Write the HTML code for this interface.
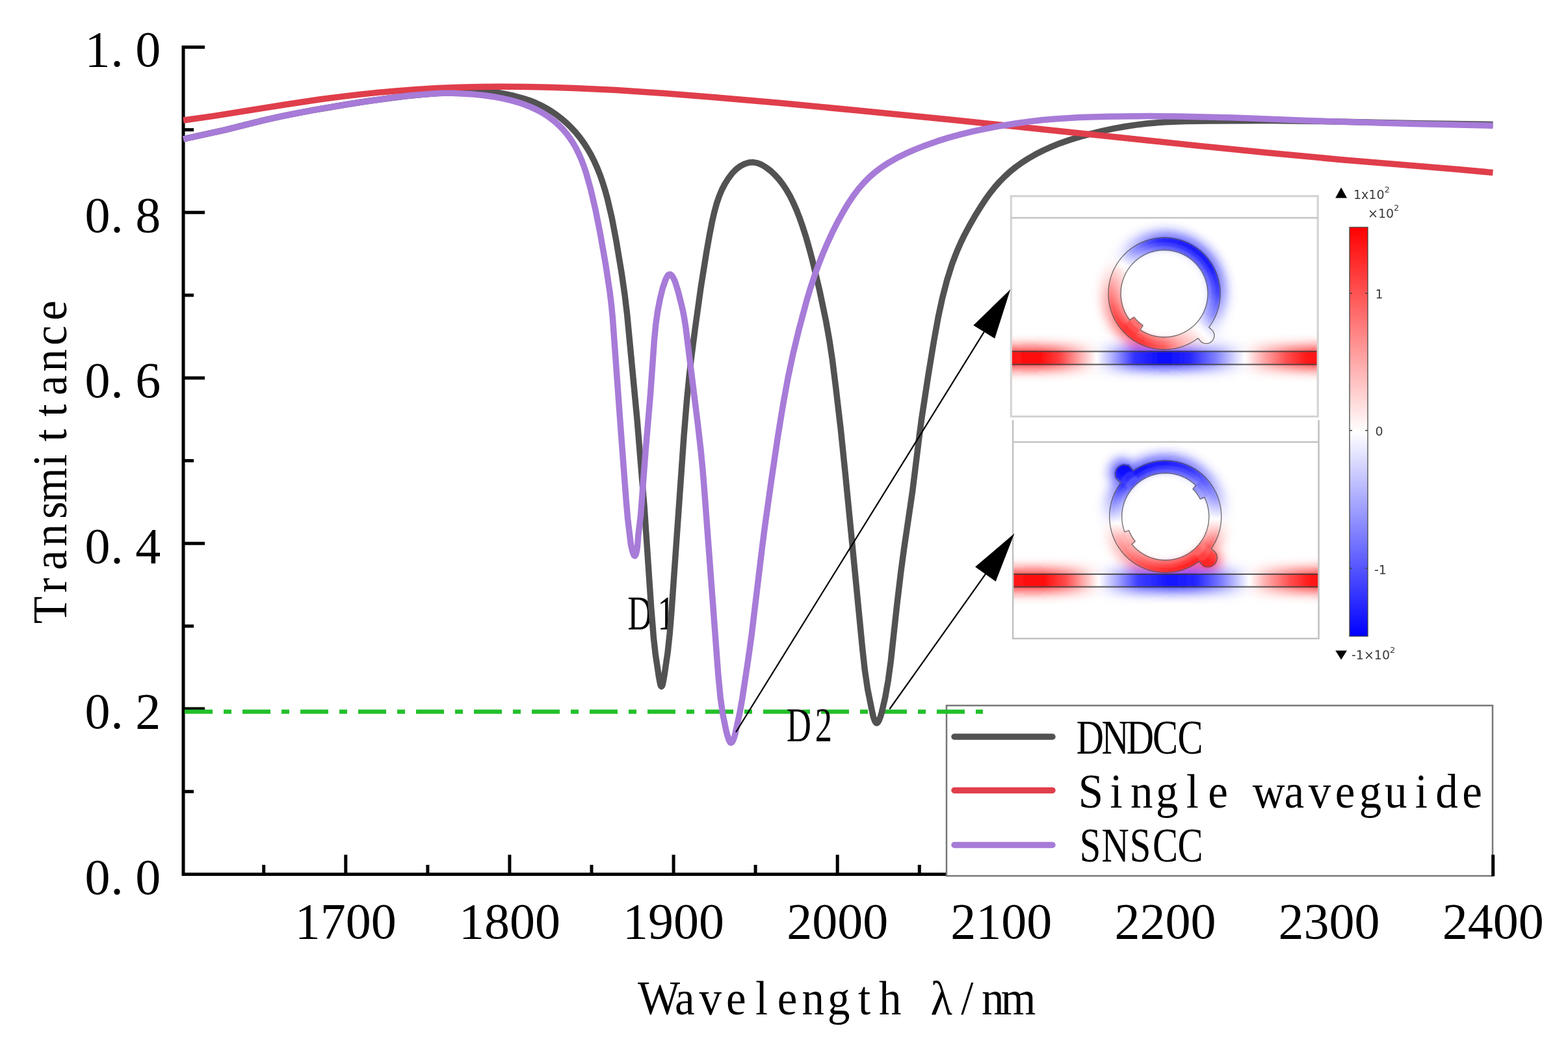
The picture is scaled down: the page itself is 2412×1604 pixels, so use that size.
<!DOCTYPE html><html><head><meta charset="utf-8"><title>Transmittance spectrum</title>
<style>html,body{margin:0;padding:0;background:#fff;overflow:hidden}svg{display:block}.serif{font-family:"Liberation Serif","Noto Serif CJK SC",serif}.sans{font-family:"DejaVu Sans","Liberation Sans",sans-serif}</style></head><body>
<svg width="2412" height="1604" viewBox="0 0 2412 1604">
<rect width="2412" height="1604" fill="#fff"/>
<defs>
<filter id="glow" x="-30%" y="-30%" width="160%" height="160%"><feGaussianBlur stdDeviation="9"/></filter>
<filter id="soft" x="-10%" y="-10%" width="120%" height="120%"><feGaussianBlur stdDeviation="1.2"/></filter>
</defs>
<g stroke="#000" stroke-width="5" fill="none" stroke-linecap="butt">
<path d="M282.0,69.9 V1347.0 M279.5,1344.5 H2299"/>
<path d="M282.0,1344.5 h33"/>
<path d="M282.0,1217.3 h16"/>
<path d="M282.0,1090.1 h33"/>
<path d="M282.0,962.9 h16"/>
<path d="M282.0,835.7 h33"/>
<path d="M282.0,708.5 h16"/>
<path d="M282.0,581.2 h33"/>
<path d="M282.0,454.0 h16"/>
<path d="M282.0,326.8 h33"/>
<path d="M282.0,199.6 h16"/>
<path d="M282.0,72.4 h33"/>
<path d="M405.7,1344.5 v-14.5"/>
<path d="M531.8,1344.5 v-30"/>
<path d="M657.9,1344.5 v-14.5"/>
<path d="M783.9,1344.5 v-30"/>
<path d="M910.0,1344.5 v-14.5"/>
<path d="M1036.1,1344.5 v-30"/>
<path d="M1162.1,1344.5 v-14.5"/>
<path d="M1288.2,1344.5 v-30"/>
<path d="M1414.3,1344.5 v-14.5"/>
</g>
<g class="serif" font-size="78" fill="#000" text-anchor="middle">
<text x="150.0 180.0 227.7" y="1374.5">0.0</text>
<text x="150.0 180.0 227.7" y="1120.1">0.2</text>
<text x="150.0 180.0 227.7" y="865.7">0.4</text>
<text x="150.0 180.0 227.7" y="611.2">0.6</text>
<text x="150.0 180.0 227.7" y="356.8">0.8</text>
<text x="150.0 180.0 227.7" y="102.4">1.0</text>
<text x="531.8" y="1442.5">1700</text>
<text x="783.9" y="1442.5">1800</text>
<text x="1036.1" y="1442.5">1900</text>
<text x="1288.2" y="1442.5">2000</text>
<text x="1540.3" y="1442.5">2100</text>
<text x="1792.5" y="1442.5">2200</text>
<text x="2044.6" y="1442.5">2300</text>
<text x="2296.7" y="1442.5">2400</text>
</g>
<text class="serif" font-size="75" text-anchor="middle" transform="rotate(-90) scale(0.92,1)" x="-1019.9 -978.2 -936.4 -894.7 -852.9 -811.2 -769.5 -727.7 -686.0 -644.2 -602.5 -560.8 -519.0" y="102.5">Transmittance</text>
<text class="serif" font-size="75" text-anchor="middle" transform="scale(0.92,1)" x="1101.8 1144.8 1187.7 1230.7 1273.6 1316.5 1359.5 1402.4 1445.3 1488.3 1531.2 1574.1 1617.1 1660.0 1702.9" y="1560">Wavelength λ/nm</text>
<rect x="1456" y="1085" width="840" height="262" fill="#fff" stroke="#777" stroke-width="2.5"/>
<path d="M284,1094.6 H1512" stroke="#22c02a" stroke-width="6.5" fill="none" stroke-dasharray="43 17 12 17"/>
<g class="serif" font-size="75" fill="#000" text-anchor="middle">
<text transform="translate(0,968) scale(0.7,1)" x="1406.4 1463.6" y="0">D1</text>
<text transform="translate(0,1139.5) scale(0.7,1)" x="1755.7 1810.0" y="0">D2</text>
</g>
<g fill="none" stroke-width="9.5" stroke-linejoin="round" stroke-linecap="butt">
<path stroke="#525252" d="M282.0,213.8 L344.8,200.1 L406.8,184.7 L435.1,178.3 L480.0,169.7 L536.6,160.0 L567.5,155.3 L597.3,151.3 L624.9,147.9 L650.2,145.3 L672.4,143.5 L692.7,142.3 L741.6,141.1 L751.3,141.1 L759.1,141.6 L767.1,142.6 L776.5,144.3 L790.7,147.5 L803.7,151.0 L814.0,154.3 L823.5,158.0 L832.1,162.0 L840.7,166.6 L848.8,171.6 L856.6,176.9 L864.1,182.7 L871.4,189.1 L878.4,195.9 L884.8,202.8 L891.5,210.9 L897.7,219.4 L903.5,228.4 L908.9,237.7 L914.0,247.7 L918.7,258.2 L923.1,269.3 L927.2,281.1 L930.9,293.0 L934.4,305.8 L941.1,334.4 L948.0,370.7 L956.2,419.8 L961.0,453.0 L964.7,483.8 L980.0,644.5 L991.1,778.7 L1001.7,934.4 L1005.5,981.4 L1008.3,1006.4 L1013.7,1042.2 L1015.7,1052.3 L1016.6,1054.9 L1017.5,1055.7 L1018.5,1054.8 L1019.5,1051.8 L1021.8,1039.4 L1027.1,1003.4 L1030.2,974.4 L1033.2,937.0 L1052.0,670.7 L1056.3,618.1 L1060.3,577.5 L1063.5,549.9 L1069.3,505.0 L1078.1,441.9 L1086.8,387.4 L1091.6,360.4 L1095.4,341.0 L1098.8,326.3 L1102.3,313.4 L1106.1,302.3 L1110.2,292.3 L1115.1,282.8 L1120.8,273.8 L1126.7,266.0 L1132.6,260.1 L1138.9,255.4 L1145.5,252.0 L1152.2,250.0 L1158.5,249.6 L1164.7,250.6 L1171.0,253.0 L1177.8,257.0 L1185.2,262.6 L1191.8,268.7 L1198.0,275.5 L1203.9,283.2 L1209.7,291.9 L1215.2,301.4 L1220.2,311.5 L1225.2,322.8 L1230.1,335.4 L1235.1,349.8 L1240.1,365.4 L1244.9,382.2 L1249.9,401.1 L1260.7,446.5 L1270.7,494.3 L1276.0,524.1 L1280.3,552.6 L1285.8,596.5 L1293.4,661.3 L1300.9,734.2 L1326.9,999.7 L1330.3,1030.4 L1334.6,1059.6 L1342.0,1096.4 L1343.7,1103.3 L1345.4,1108.1 L1347.0,1111.0 L1347.8,1111.7 L1348.6,1112.0 L1349.4,1111.7 L1350.3,1110.9 L1352.2,1107.8 L1354.3,1102.4 L1356.5,1095.0 L1361.6,1072.9 L1366.3,1046.2 L1370.3,1016.8 L1379.7,930.7 L1385.9,878.8 L1390.9,841.9 L1403.7,755.2 L1414.1,670.8 L1417.9,642.5 L1427.5,579.7 L1436.3,525.9 L1443.1,488.6 L1449.5,458.7 L1456.7,431.0 L1464.5,406.1 L1468.9,394.5 L1473.5,383.0 L1478.5,371.9 L1483.8,360.9 L1491.0,347.6 L1499.8,332.1 L1507.9,318.9 L1515.5,307.3 L1522.6,297.4 L1529.9,288.2 L1537.1,280.0 L1544.7,272.2 L1553.3,264.3 L1562.3,257.0 L1572.0,250.0 L1582.3,243.5 L1593.5,237.1 L1605.5,231.0 L1618.0,225.4 L1630.9,220.2 L1645.2,215.2 L1660.9,210.4 L1677.5,205.8 L1694.8,201.6 L1712.3,197.9 L1729.6,194.8 L1747.0,192.1 L1764.2,190.0 L1792.0,187.7 L1823.0,186.4 L1859.4,186.0 L1953.7,185.6 L2025.6,186.4 L2184.1,189.7 L2296.5,191.5"/>
<path stroke="#e03e4b" d="M282.0,185.0 L327.3,178.6 L437.7,161.0 L492.6,152.8 L522.8,148.9 L552.0,145.4 L580.7,142.4 L608.9,139.9 L641.2,137.5 L673.9,135.6 L706.7,134.3 L739.9,133.5 L774.2,133.2 L808.9,133.4 L845.2,134.2 L883.0,135.4 L947.5,138.6 L1019.0,143.3 L1100.1,149.7 L1195.8,158.1 L1323.3,170.2 L1469.3,184.8 L1597.8,198.2 L1840.1,223.9 L1950.9,235.1 L2061.8,245.4 L2237.1,260.0 L2296.5,265.4"/>
<path stroke="#a77bd8" d="M282.0,213.8 L346.1,199.8 L404.2,185.4 L427.4,180.0 L456.8,174.0 L497.1,166.6 L552.6,157.5 L607.5,149.7 L628.2,147.3 L648.0,145.4 L667.2,144.0 L682.4,143.3 L695.8,143.3 L710.7,143.9 L729.2,145.1 L745.2,146.8 L758.8,148.7 L771.9,151.1 L784.2,153.9 L795.8,157.1 L806.9,160.8 L817.1,164.9 L826.7,169.4 L835.7,174.4 L844.1,179.9 L852.1,185.9 L859.5,192.4 L866.3,199.4 L871.8,205.9 L876.9,212.8 L881.7,220.1 L886.2,228.0 L890.3,236.3 L894.3,245.4 L898.0,255.1 L901.6,265.9 L908.7,291.2 L916.1,322.8 L923.3,359.1 L931.4,405.0 L938.2,449.9 L940.5,469.0 L942.4,488.8 L955.1,662.9 L963.4,772.4 L965.7,798.2 L970.4,837.3 L972.9,847.9 L974.3,851.8 L975.4,854.1 L976.6,854.8 L977.6,853.8 L978.7,850.9 L979.7,845.9 L980.7,838.5 L981.8,823.6 L985.6,792.1 L993.0,694.6 L1000.5,606.5 L1006.5,522.1 L1008.8,498.6 L1011.5,479.5 L1015.4,459.1 L1019.3,443.4 L1023.9,429.9 L1025.9,425.8 L1027.8,423.1 L1029.5,422.0 L1031.3,422.1 L1033.0,423.3 L1034.9,425.9 L1037.0,429.8 L1039.0,434.8 L1043.1,448.0 L1050.1,475.9 L1052.5,488.4 L1054.8,503.1 L1073.5,652.9 L1078.2,693.9 L1080.8,720.6 L1083.4,752.3 L1104.6,1035.0 L1108.2,1072.8 L1111.7,1097.5 L1116.9,1123.4 L1119.0,1131.3 L1121.1,1137.8 L1122.8,1141.2 L1123.7,1142.1 L1124.4,1142.3 L1125.9,1141.5 L1127.5,1138.9 L1129.3,1134.5 L1131.0,1128.7 L1138.1,1095.3 L1141.7,1075.0 L1150.6,1016.3 L1156.1,977.1 L1172.6,840.2 L1177.1,805.6 L1186.0,742.5 L1196.3,672.9 L1204.3,623.8 L1212.1,581.0 L1219.7,545.2 L1229.1,506.2 L1241.3,460.8 L1246.9,442.2 L1252.8,424.5 L1259.1,407.0 L1265.8,390.1 L1272.9,373.5 L1280.5,357.2 L1288.8,340.7 L1297.2,325.5 L1305.1,312.3 L1312.8,300.8 L1320.6,290.5 L1328.8,281.1 L1337.4,272.4 L1346.4,264.6 L1356.5,257.0 L1367.5,249.8 L1379.3,243.1 L1392.7,236.4 L1407.6,229.9 L1424.0,223.4 L1441.0,217.4 L1458.6,211.9 L1477.0,206.8 L1496.1,202.2 L1516.7,197.8 L1538.6,193.7 L1561.3,190.0 L1583.3,186.9 L1603.8,184.5 L1624.9,182.7 L1660.8,180.6 L1703.8,179.3 L1768.8,178.6 L1813.6,178.9 L1899.4,180.9 L2024.6,185.9 L2175.3,190.6 L2296.5,193.3"/>
</g>
<g stroke-width="9.5" stroke-linecap="round">
<path stroke="#525252" d="M1468,1133 H1619"/>
<path stroke="#e03e4b" d="M1468,1215.5 H1619"/>
<path stroke="#a77bd8" d="M1468,1299.5 H1619"/>
</g>
<g class="serif" font-size="75" fill="#000" text-anchor="middle">
<text transform="scale(0.78,1)" x="2150.0 2199.4 2248.7 2298.1 2347.4" y="1159.5">DNDCC</text>
<text transform="scale(0.92,1)" x="1823.9 1866.4 1908.9 1951.4 1993.9 2036.4 2078.9 2121.4 2163.9 2206.4 2248.9 2291.4 2333.9 2376.4 2418.9 2461.4" y="1242">Single waveguide</text>
<text transform="scale(0.78,1)" x="2150.0 2199.4 2248.7 2298.1 2347.4" y="1325">SNSCC</text>
</g>
<path d="M2296.7,1347.5 v-33" stroke="#000" stroke-width="5"/>
<defs>
<clipPath id="clip1"><rect x="1555.3" y="301.7" width="471.9000000000001" height="338.8"/></clipPath>
<linearGradient id="wg1" gradientUnits="userSpaceOnUse" x1="1555.3" y1="0" x2="2027.2" y2="0"><stop offset="-0.0006" stop-color="#ff1414"/><stop offset="0.0947" stop-color="#ff0d0d"/><stop offset="0.1583" stop-color="#ff4040"/><stop offset="0.2219" stop-color="#ffa6a6"/><stop offset="0.2791" stop-color="#ffffff"/><stop offset="0.3278" stop-color="#b2b2ff"/><stop offset="0.4020" stop-color="#3333ff"/><stop offset="0.4974" stop-color="#0808ff"/><stop offset="0.5821" stop-color="#2626ff"/><stop offset="0.6669" stop-color="#8080ff"/><stop offset="0.7305" stop-color="#d9d9ff"/><stop offset="0.7622" stop-color="#ffffff"/><stop offset="0.8152" stop-color="#ffb2b2"/><stop offset="0.9000" stop-color="#ff4d4d"/><stop offset="0.9636" stop-color="#ff1919"/><stop offset="0.9996" stop-color="#ff1414"/></linearGradient>
</defs>
<g clip-path="url(#clip1)">
<g filter="url(#glow)" opacity="0.8">
<path d="M1791.0,374.5 L1791.0,357.5 L1801.8,358.1 L1799.9,375.0Z" fill="#2525ff"/><path d="M1799.0,374.9 L1800.8,358.0 L1811.5,359.8 L1807.8,376.4Z" fill="#2222ff"/><path d="M1807.0,376.2 L1810.5,359.6 L1821.0,362.4 L1815.6,378.5Z" fill="#2020ff"/><path d="M1814.8,378.3 L1820.0,362.1 L1830.1,366.0 L1823.1,381.5Z" fill="#1d1dff"/><path d="M1822.3,381.2 L1829.2,365.6 L1838.8,370.6 L1830.2,385.2Z" fill="#1b1bff"/><path d="M1829.5,384.8 L1838.0,370.1 L1847.0,376.0 L1836.9,389.7Z" fill="#1a1aff"/><path d="M1836.3,389.2 L1846.3,375.5 L1854.6,382.3 L1843.1,394.8Z" fill="#1b1bff"/><path d="M1842.5,394.3 L1853.9,381.6 L1861.5,389.3 L1848.8,400.6Z" fill="#1c1cff"/><path d="M1848.2,400.0 L1860.9,388.6 L1867.6,397.0 L1853.8,406.9Z" fill="#1d1dff"/><path d="M1853.3,406.2 L1867.0,396.2 L1872.9,405.4 L1858.1,413.7Z" fill="#1e1eff"/><path d="M1857.7,413.0 L1872.4,404.5 L1877.3,414.2 L1861.7,420.9Z" fill="#2323ff"/><path d="M1861.3,420.2 L1876.9,413.3 L1880.7,423.4 L1864.5,428.5Z" fill="#2b2bff"/><path d="M1864.2,427.7 L1880.4,422.5 L1883.1,432.9 L1866.5,436.3Z" fill="#3333ff"/><path d="M1866.3,435.5 L1882.9,432.0 L1884.6,442.7 L1867.7,444.3Z" fill="#3b3bff"/><path d="M1867.6,443.5 L1884.5,441.7 L1885.0,452.5 L1868.0,452.3Z" fill="#4343ff"/><path d="M1868.0,451.5 L1885.0,451.5 L1884.4,462.3 L1867.5,460.4Z" fill="#5151ff"/><path d="M1867.6,459.5 L1884.5,461.3 L1882.7,472.0 L1866.1,468.3Z" fill="#6363ff"/><path d="M1866.3,467.5 L1882.9,471.0 L1880.1,481.5 L1864.0,476.1Z" fill="#7575ff"/><path d="M1864.2,475.3 L1880.4,480.5 L1876.5,490.6 L1861.0,483.6Z" fill="#8888ff"/><path d="M1861.3,482.8 L1876.9,489.7 L1871.9,499.3 L1857.3,490.7Z" fill="#9f9fff"/><path d="M1857.7,490.0 L1872.4,498.5 L1866.5,507.5 L1852.8,497.4Z" fill="#c0c0ff"/><path d="M1853.3,496.8 L1878.8,515.3 L1870.9,525.0 L1847.7,503.6Z" fill="#e2e2ff"/><path d="M1848.2,503.0 L1874.6,526.8 L1865.4,535.9 L1841.9,509.3Z" fill="#fcfcff"/><path d="M1842.5,508.7 L1863.6,532.2 L1853.9,540.0 L1835.6,514.3Z" fill="#ffeeee"/><path d="M1836.3,513.8 L1846.3,527.5 L1837.1,533.4 L1828.8,518.6Z" fill="#ffdada"/><path d="M1829.5,518.2 L1838.0,532.9 L1828.3,537.8 L1821.6,522.2Z" fill="#ffc8c8"/><path d="M1822.3,521.8 L1829.2,537.4 L1819.1,541.2 L1814.0,525.0Z" fill="#ffb6b6"/><path d="M1814.8,524.7 L1820.0,540.9 L1809.6,543.6 L1806.2,527.0Z" fill="#ff9e9e"/><path d="M1807.0,526.8 L1810.5,543.4 L1799.8,545.1 L1798.2,528.2Z" fill="#ff8686"/><path d="M1799.0,528.1 L1800.8,545.0 L1790.0,545.5 L1790.2,528.5Z" fill="#ff6d6d"/><path d="M1791.0,528.5 L1791.0,545.5 L1780.2,544.9 L1782.1,528.0Z" fill="#ff5c5c"/><path d="M1783.0,528.1 L1781.2,545.0 L1770.5,543.2 L1774.2,526.6Z" fill="#ff5252"/><path d="M1775.0,526.8 L1771.5,543.4 L1761.0,540.6 L1766.4,524.5Z" fill="#ff4848"/><path d="M1767.2,524.7 L1762.0,540.9 L1751.9,537.0 L1758.9,521.5Z" fill="#ff3f3f"/><path d="M1759.7,521.8 L1752.8,537.4 L1743.2,532.4 L1751.8,517.8Z" fill="#ff3838"/><path d="M1752.5,518.2 L1744.0,532.9 L1735.0,527.0 L1745.1,513.3Z" fill="#ff3838"/><path d="M1745.7,513.8 L1735.7,527.5 L1727.4,520.7 L1738.9,508.2Z" fill="#ff3838"/><path d="M1739.5,508.7 L1728.1,521.4 L1720.5,513.7 L1733.2,502.4Z" fill="#ff3838"/><path d="M1733.8,503.0 L1721.1,514.4 L1714.4,506.0 L1728.2,496.1Z" fill="#ff3a3a"/><path d="M1728.7,496.8 L1715.0,506.8 L1709.1,497.6 L1723.9,489.3Z" fill="#ff4444"/><path d="M1724.3,490.0 L1709.6,498.5 L1704.7,488.8 L1720.3,482.1Z" fill="#ff4d4d"/><path d="M1720.7,482.8 L1705.1,489.7 L1701.3,479.6 L1717.5,474.5Z" fill="#ff5757"/><path d="M1717.8,475.3 L1701.6,480.5 L1698.9,470.1 L1715.5,466.7Z" fill="#ff6161"/><path d="M1715.7,467.5 L1699.1,471.0 L1697.4,460.3 L1714.3,458.7Z" fill="#ff7070"/><path d="M1714.4,459.5 L1697.5,461.3 L1697.0,450.5 L1714.0,450.7Z" fill="#ff8080"/><path d="M1714.0,451.5 L1697.0,451.5 L1697.6,440.7 L1714.5,442.6Z" fill="#ff8f8f"/><path d="M1714.4,443.5 L1697.5,441.7 L1699.3,431.0 L1715.9,434.7Z" fill="#ffa2a2"/><path d="M1715.7,435.5 L1699.1,432.0 L1701.9,421.5 L1718.0,426.9Z" fill="#ffb6b6"/><path d="M1717.8,427.7 L1701.6,422.5 L1705.5,412.4 L1721.0,419.4Z" fill="#ffcbcb"/><path d="M1720.7,420.2 L1705.1,413.3 L1710.1,403.7 L1724.7,412.3Z" fill="#ffe1e1"/><path d="M1724.3,413.0 L1709.6,404.5 L1715.5,395.5 L1729.2,405.6Z" fill="#fff8f8"/><path d="M1728.7,406.2 L1715.0,396.2 L1721.8,387.9 L1734.3,399.4Z" fill="#ededff"/><path d="M1733.8,400.0 L1721.1,388.6 L1728.8,381.0 L1740.1,393.7Z" fill="#ccccff"/><path d="M1739.5,394.3 L1728.1,381.6 L1736.5,374.9 L1746.4,388.7Z" fill="#ababff"/><path d="M1745.7,389.2 L1735.7,375.5 L1744.9,369.6 L1753.2,384.4Z" fill="#9090ff"/><path d="M1752.5,384.8 L1744.0,370.1 L1753.7,365.2 L1760.4,380.8Z" fill="#7777ff"/><path d="M1759.7,381.2 L1752.8,365.6 L1762.9,361.8 L1768.0,378.0Z" fill="#5e5eff"/><path d="M1767.2,378.3 L1762.0,362.1 L1772.4,359.4 L1775.8,376.0Z" fill="#4949ff"/><path d="M1775.0,376.2 L1771.5,359.6 L1782.2,357.9 L1783.8,374.8Z" fill="#3636ff"/><path d="M1783.0,374.9 L1781.2,358.0 L1792.0,357.5 L1791.8,374.5Z" fill="#2b2bff"/>
<rect x="1525.3" y="532.5" width="531.9000000000001" height="36.0" fill="url(#wg1)"/>
</g>
<g filter="url(#soft)">
<path d="M1791.0,384.5 L1791.0,377.8 L1794.3,377.9 L1794.0,384.6Z" fill="#6363ff"/><path d="M1791.0,378.6 L1791.0,372.3 L1794.6,372.4 L1794.3,378.7Z" fill="#4040ff"/><path d="M1791.0,373.1 L1791.0,365.5 L1794.9,365.6 L1794.6,373.2Z" fill="#2626ff"/><path d="M1793.3,384.5 L1793.6,377.9 L1796.9,378.1 L1796.4,384.7Z" fill="#6262ff"/><path d="M1793.5,378.7 L1793.8,372.4 L1797.4,372.6 L1796.8,378.9Z" fill="#3f3fff"/><path d="M1793.7,373.2 L1794.0,365.6 L1797.9,365.8 L1797.3,373.4Z" fill="#2525ff"/><path d="M1795.7,384.7 L1796.1,378.0 L1799.5,378.3 L1798.7,384.9Z" fill="#6161ff"/><path d="M1796.1,378.8 L1796.5,372.5 L1800.1,372.8 L1799.4,379.1Z" fill="#3e3eff"/><path d="M1796.5,373.3 L1797.0,365.7 L1800.9,366.1 L1800.0,373.6Z" fill="#2424ff"/><path d="M1798.0,384.9 L1798.7,378.2 L1802.0,378.7 L1801.0,385.3Z" fill="#6161ff"/><path d="M1798.6,379.0 L1799.3,372.8 L1802.8,373.2 L1801.9,379.4Z" fill="#3e3eff"/><path d="M1799.2,373.5 L1800.0,366.0 L1803.9,366.5 L1802.7,374.0Z" fill="#2323ff"/><path d="M1800.3,385.2 L1801.3,378.5 L1804.6,379.1 L1803.3,385.6Z" fill="#6060ff"/><path d="M1801.1,379.3 L1802.0,373.1 L1805.6,373.7 L1804.4,379.9Z" fill="#3d3dff"/><path d="M1801.9,373.9 L1803.0,366.3 L1806.8,367.0 L1805.4,374.5Z" fill="#2222ff"/><path d="M1802.6,385.5 L1803.8,378.9 L1807.1,379.6 L1805.6,386.1Z" fill="#6060ff"/><path d="M1803.7,379.7 L1804.7,373.5 L1808.3,374.2 L1806.9,380.4Z" fill="#3c3cff"/><path d="M1804.6,374.3 L1805.9,366.8 L1809.8,367.6 L1808.1,375.0Z" fill="#2222ff"/><path d="M1804.9,386.0 L1806.3,379.4 L1809.6,380.2 L1807.9,386.7Z" fill="#5f5fff"/><path d="M1806.2,380.2 L1807.5,374.1 L1811.0,374.9 L1809.4,381.0Z" fill="#3b3bff"/><path d="M1807.3,374.8 L1808.9,367.4 L1812.7,368.3 L1810.8,375.7Z" fill="#2121ff"/><path d="M1807.2,386.5 L1808.8,380.0 L1812.0,380.9 L1810.1,387.3Z" fill="#5e5eff"/><path d="M1808.6,380.8 L1810.2,374.7 L1813.6,375.6 L1811.8,381.7Z" fill="#3b3bff"/><path d="M1810.0,375.4 L1811.8,368.1 L1815.6,369.1 L1813.4,376.4Z" fill="#2020ff"/><path d="M1809.5,387.1 L1811.3,380.7 L1814.5,381.7 L1812.4,388.0Z" fill="#5e5eff"/><path d="M1811.1,381.5 L1812.8,375.4 L1816.3,376.5 L1814.2,382.4Z" fill="#3a3aff"/><path d="M1812.6,376.2 L1814.7,368.8 L1818.4,370.0 L1816.0,377.2Z" fill="#1f1fff"/><path d="M1811.7,387.8 L1813.8,381.4 L1816.9,382.5 L1814.6,388.8Z" fill="#5d5dff"/><path d="M1813.5,382.2 L1815.5,376.2 L1818.9,377.4 L1816.6,383.3Z" fill="#3939ff"/><path d="M1815.2,377.0 L1817.6,369.7 L1821.3,371.0 L1818.6,378.1Z" fill="#1e1eff"/><path d="M1813.9,388.5 L1816.2,382.3 L1819.3,383.5 L1816.7,389.6Z" fill="#5d5dff"/><path d="M1815.9,383.0 L1818.1,377.1 L1821.4,378.4 L1819.0,384.2Z" fill="#3838ff"/><path d="M1817.8,377.8 L1820.4,370.7 L1824.0,372.1 L1821.1,379.1Z" fill="#1d1dff"/><path d="M1816.1,389.4 L1818.6,383.2 L1821.7,384.5 L1818.9,390.6Z" fill="#5c5cff"/><path d="M1818.3,383.9 L1820.7,378.1 L1824.0,379.5 L1821.3,385.2Z" fill="#3838ff"/><path d="M1820.4,378.8 L1823.2,371.8 L1826.8,373.3 L1823.6,380.2Z" fill="#1c1cff"/><path d="M1818.3,390.3 L1821.0,384.2 L1824.0,385.6 L1821.0,391.6Z" fill="#5b5bff"/><path d="M1820.6,384.9 L1823.2,379.2 L1826.5,380.7 L1823.6,386.3Z" fill="#3737ff"/><path d="M1822.9,379.9 L1826.0,372.9 L1829.5,374.6 L1826.1,381.4Z" fill="#1c1cff"/><path d="M1820.4,391.3 L1823.3,385.3 L1826.3,386.8 L1823.1,392.7Z" fill="#5b5bff"/><path d="M1822.9,386.0 L1825.7,380.3 L1828.9,382.0 L1825.9,387.5Z" fill="#3636ff"/><path d="M1825.4,381.1 L1828.7,374.2 L1832.2,376.0 L1828.5,382.7Z" fill="#1b1bff"/><path d="M1822.5,392.3 L1825.6,386.5 L1828.5,388.1 L1825.1,393.8Z" fill="#5a5aff"/><path d="M1825.2,387.2 L1828.2,381.6 L1831.3,383.3 L1828.1,388.8Z" fill="#3535ff"/><path d="M1827.8,382.3 L1831.4,375.6 L1834.8,377.5 L1830.9,384.0Z" fill="#1a1aff"/><path d="M1824.5,393.5 L1827.8,387.7 L1830.7,389.4 L1827.1,395.1Z" fill="#5a5aff"/><path d="M1827.4,388.4 L1830.6,382.9 L1833.7,384.8 L1830.3,390.1Z" fill="#3535ff"/><path d="M1830.2,383.6 L1834.0,377.0 L1837.3,379.0 L1833.2,385.5Z" fill="#1a1aff"/><path d="M1826.5,394.7 L1830.0,389.0 L1832.8,390.9 L1829.0,396.3Z" fill="#5a5aff"/><path d="M1829.6,389.7 L1833.0,384.4 L1836.0,386.3 L1832.4,391.5Z" fill="#3535ff"/><path d="M1832.5,385.0 L1836.6,378.6 L1839.8,380.7 L1835.5,387.0Z" fill="#1a1aff"/><path d="M1828.5,396.0 L1832.2,390.4 L1834.9,392.4 L1830.9,397.7Z" fill="#5a5aff"/><path d="M1831.7,391.1 L1835.3,385.9 L1838.2,387.9 L1834.4,393.0Z" fill="#3636ff"/><path d="M1834.8,386.5 L1839.1,380.2 L1842.3,382.5 L1837.7,388.6Z" fill="#1a1aff"/><path d="M1830.4,397.3 L1834.3,391.9 L1837.0,393.9 L1832.8,399.1Z" fill="#5b5bff"/><path d="M1833.8,392.5 L1837.5,387.4 L1840.4,389.6 L1836.5,394.6Z" fill="#3636ff"/><path d="M1837.1,388.1 L1841.5,381.9 L1844.7,384.3 L1839.9,390.2Z" fill="#1b1bff"/><path d="M1832.2,398.7 L1836.4,393.4 L1838.9,395.6 L1834.6,400.6Z" fill="#5b5bff"/><path d="M1835.9,394.1 L1839.7,389.1 L1842.5,391.4 L1838.4,396.2Z" fill="#3636ff"/><path d="M1839.3,389.7 L1843.9,383.7 L1847.0,386.2 L1842.0,392.0Z" fill="#1b1bff"/><path d="M1834.1,400.2 L1838.4,395.1 L1840.9,397.3 L1836.4,402.2Z" fill="#5b5bff"/><path d="M1837.8,395.7 L1841.9,390.8 L1844.6,393.2 L1840.3,397.9Z" fill="#3737ff"/><path d="M1841.4,391.5 L1846.3,385.6 L1849.2,388.2 L1844.1,393.8Z" fill="#1b1bff"/><path d="M1835.8,401.7 L1840.3,396.8 L1842.7,399.0 L1838.0,403.8Z" fill="#5b5bff"/><path d="M1839.8,397.3 L1844.0,392.7 L1846.6,395.1 L1842.2,399.6Z" fill="#3737ff"/><path d="M1843.4,393.3 L1848.5,387.6 L1851.4,390.3 L1846.0,395.7Z" fill="#1c1cff"/><path d="M1837.5,403.3 L1842.2,398.5 L1844.5,400.9 L1839.7,405.5Z" fill="#5c5cff"/><path d="M1841.6,399.1 L1846.0,394.5 L1848.5,397.1 L1843.9,401.4Z" fill="#3737ff"/><path d="M1845.4,395.1 L1850.7,389.6 L1853.5,392.4 L1847.9,397.6Z" fill="#1c1cff"/><path d="M1839.2,405.0 L1844.0,400.3 L1846.3,402.8 L1841.3,407.2Z" fill="#5c5cff"/><path d="M1843.4,400.9 L1848.0,396.5 L1850.4,399.1 L1845.7,403.3Z" fill="#3838ff"/><path d="M1847.4,397.1 L1852.9,391.8 L1855.5,394.6 L1849.8,399.7Z" fill="#1c1cff"/><path d="M1840.8,406.7 L1845.7,402.2 L1847.9,404.7 L1842.8,409.0Z" fill="#5c5cff"/><path d="M1845.2,402.7 L1849.8,398.5 L1852.2,401.2 L1847.3,405.2Z" fill="#3838ff"/><path d="M1849.2,399.1 L1854.9,394.0 L1857.5,396.9 L1851.6,401.7Z" fill="#1d1dff"/><path d="M1842.3,408.4 L1847.4,404.1 L1849.5,406.8 L1844.2,410.8Z" fill="#5c5cff"/><path d="M1846.8,404.7 L1851.7,400.6 L1853.9,403.4 L1848.9,407.2Z" fill="#3838ff"/><path d="M1851.0,401.1 L1856.9,396.2 L1859.3,399.3 L1853.3,403.9Z" fill="#1d1dff"/><path d="M1843.8,410.3 L1849.1,406.1 L1851.1,408.8 L1845.6,412.7Z" fill="#5d5dff"/><path d="M1848.4,406.6 L1853.4,402.8 L1855.5,405.6 L1850.4,409.3Z" fill="#3838ff"/><path d="M1852.8,403.2 L1858.8,398.6 L1861.1,401.7 L1854.9,406.1Z" fill="#1d1dff"/><path d="M1845.2,412.1 L1850.6,408.2 L1852.5,410.9 L1846.9,414.6Z" fill="#5d5dff"/><path d="M1850.0,408.7 L1855.1,405.0 L1857.1,407.9 L1851.8,411.4Z" fill="#3939ff"/><path d="M1854.4,405.4 L1860.6,401.0 L1862.8,404.2 L1856.4,408.4Z" fill="#1e1eff"/><path d="M1846.5,414.0 L1852.1,410.3 L1853.9,413.1 L1848.2,416.6Z" fill="#5d5dff"/><path d="M1851.4,410.8 L1856.6,407.2 L1858.6,410.2 L1853.2,413.5Z" fill="#3939ff"/><path d="M1856.0,407.7 L1862.3,403.4 L1864.4,406.7 L1857.9,410.7Z" fill="#1e1eff"/><path d="M1847.8,416.0 L1853.5,412.5 L1855.2,415.3 L1849.4,418.6Z" fill="#5d5dff"/><path d="M1852.8,412.9 L1858.1,409.5 L1860.0,412.6 L1854.5,415.7Z" fill="#3939ff"/><path d="M1857.5,410.0 L1863.9,405.9 L1865.9,409.3 L1859.3,413.0Z" fill="#1e1eff"/><path d="M1849.0,418.0 L1854.8,414.7 L1856.4,417.6 L1850.5,420.7Z" fill="#5e5eff"/><path d="M1854.1,415.1 L1859.6,411.9 L1861.3,415.1 L1855.7,418.0Z" fill="#3b3bff"/><path d="M1858.9,412.3 L1865.5,408.5 L1867.4,411.9 L1860.6,415.4Z" fill="#2020ff"/><path d="M1850.2,420.0 L1856.0,416.9 L1857.5,419.9 L1851.5,422.8Z" fill="#6060ff"/><path d="M1855.3,417.3 L1860.9,414.3 L1862.5,417.5 L1856.8,420.2Z" fill="#3d3dff"/><path d="M1860.2,414.7 L1866.9,411.1 L1868.7,414.6 L1861.8,417.9Z" fill="#2323ff"/><path d="M1851.2,422.1 L1857.2,419.2 L1858.6,422.2 L1852.5,424.9Z" fill="#6262ff"/><path d="M1856.5,419.6 L1862.2,416.8 L1863.7,420.1 L1857.9,422.6Z" fill="#4040ff"/><path d="M1861.4,417.1 L1868.3,413.8 L1869.9,417.3 L1862.9,420.4Z" fill="#2525ff"/><path d="M1852.2,424.2 L1858.3,421.5 L1859.6,424.6 L1853.4,427.1Z" fill="#6464ff"/><path d="M1857.6,421.9 L1863.3,419.3 L1864.7,422.6 L1858.8,424.9Z" fill="#4242ff"/><path d="M1862.6,419.6 L1869.6,416.5 L1871.1,420.1 L1864.0,422.9Z" fill="#2828ff"/><path d="M1853.1,426.4 L1859.3,423.9 L1860.5,427.0 L1854.2,429.2Z" fill="#6666ff"/><path d="M1858.6,424.2 L1864.4,421.8 L1865.7,425.2 L1859.7,427.3Z" fill="#4444ff"/><path d="M1863.7,422.1 L1870.7,419.3 L1872.1,422.9 L1864.9,425.5Z" fill="#2b2bff"/><path d="M1854.0,428.6 L1860.2,426.3 L1861.3,429.5 L1854.9,431.5Z" fill="#6868ff"/><path d="M1859.5,426.6 L1865.4,424.4 L1866.6,427.8 L1860.5,429.7Z" fill="#4747ff"/><path d="M1864.7,424.7 L1871.8,422.1 L1873.1,425.8 L1865.8,428.1Z" fill="#2e2eff"/><path d="M1854.7,430.8 L1861.1,428.7 L1862.0,431.9 L1855.6,433.7Z" fill="#6a6aff"/><path d="M1860.3,429.0 L1866.3,427.0 L1867.3,430.5 L1861.3,432.1Z" fill="#4949ff"/><path d="M1865.5,427.3 L1872.8,424.9 L1873.9,428.7 L1866.6,430.7Z" fill="#3030ff"/><path d="M1855.4,433.0 L1861.8,431.2 L1862.7,434.4 L1856.2,436.0Z" fill="#6c6cff"/><path d="M1861.0,431.4 L1867.1,429.7 L1868.0,433.2 L1861.9,434.6Z" fill="#4b4bff"/><path d="M1866.3,429.9 L1873.7,427.8 L1874.7,431.6 L1867.2,433.3Z" fill="#3333ff"/><path d="M1856.0,435.3 L1862.5,433.7 L1863.2,436.9 L1856.7,438.3Z" fill="#6e6eff"/><path d="M1861.7,433.9 L1867.8,432.3 L1868.6,435.8 L1862.4,437.1Z" fill="#4e4eff"/><path d="M1867.1,432.5 L1874.4,430.7 L1875.3,434.5 L1867.8,436.0Z" fill="#3636ff"/><path d="M1856.5,437.6 L1863.1,436.2 L1863.7,439.5 L1857.1,440.6Z" fill="#7070ff"/><path d="M1862.3,436.3 L1868.4,435.0 L1869.1,438.6 L1862.9,439.6Z" fill="#5050ff"/><path d="M1867.7,435.2 L1875.1,433.6 L1875.8,437.5 L1868.3,438.7Z" fill="#3838ff"/><path d="M1857.0,439.9 L1863.6,438.7 L1864.1,442.0 L1857.4,442.9Z" fill="#7272ff"/><path d="M1862.8,438.8 L1869.0,437.8 L1869.5,441.3 L1863.3,442.1Z" fill="#5353ff"/><path d="M1868.2,437.9 L1875.7,436.6 L1876.3,440.4 L1868.7,441.4Z" fill="#3b3bff"/><path d="M1857.3,442.2 L1864.0,441.2 L1864.3,444.6 L1857.7,445.2Z" fill="#7474ff"/><path d="M1863.2,441.4 L1869.4,440.5 L1869.8,444.0 L1863.5,444.6Z" fill="#5555ff"/><path d="M1868.6,440.6 L1876.2,439.5 L1876.6,443.4 L1869.0,444.1Z" fill="#3e3eff"/><path d="M1857.6,444.5 L1864.3,443.8 L1864.5,447.1 L1857.9,447.5Z" fill="#7676ff"/><path d="M1863.5,443.9 L1869.7,443.2 L1870.0,446.8 L1863.7,447.2Z" fill="#5757ff"/><path d="M1869.0,443.3 L1876.5,442.5 L1876.8,446.4 L1869.2,446.9Z" fill="#4141ff"/><path d="M1857.8,446.8 L1864.5,446.4 L1864.6,449.7 L1858.0,449.9Z" fill="#7878ff"/><path d="M1863.7,446.4 L1870.0,446.0 L1870.2,449.6 L1863.8,449.7Z" fill="#5a5aff"/><path d="M1869.2,446.0 L1876.8,445.5 L1877.0,449.4 L1869.4,449.6Z" fill="#4343ff"/><path d="M1858.0,449.2 L1864.6,448.9 L1864.7,452.3 L1858.0,452.2Z" fill="#7a7aff"/><path d="M1863.8,449.0 L1870.1,448.7 L1870.2,452.3 L1863.9,452.3Z" fill="#5c5cff"/><path d="M1869.3,448.8 L1876.9,448.5 L1877.0,452.4 L1869.4,452.3Z" fill="#4646ff"/><path d="M1858.0,451.5 L1864.7,451.5 L1864.6,454.8 L1857.9,454.5Z" fill="#7d7dff"/><path d="M1863.9,451.5 L1870.2,451.5 L1870.1,455.1 L1863.8,454.8Z" fill="#6060ff"/><path d="M1869.4,451.5 L1877.0,451.5 L1876.9,455.4 L1869.3,455.1Z" fill="#4a4aff"/><path d="M1858.0,453.8 L1864.6,454.1 L1864.4,457.4 L1857.8,456.9Z" fill="#8181ff"/><path d="M1863.8,454.0 L1870.1,454.3 L1869.9,457.9 L1863.6,457.3Z" fill="#6666ff"/><path d="M1869.3,454.2 L1876.9,454.5 L1876.7,458.4 L1869.1,457.8Z" fill="#5151ff"/><path d="M1857.8,456.2 L1864.5,456.6 L1864.2,460.0 L1857.6,459.2Z" fill="#8686ff"/><path d="M1863.7,456.6 L1870.0,457.0 L1869.7,460.6 L1863.4,459.9Z" fill="#6b6bff"/><path d="M1869.2,457.0 L1876.8,457.5 L1876.4,461.4 L1868.9,460.5Z" fill="#5757ff"/><path d="M1857.6,458.5 L1864.3,459.2 L1863.8,462.5 L1857.2,461.5Z" fill="#8a8aff"/><path d="M1863.5,459.1 L1869.7,459.8 L1869.3,463.3 L1863.1,462.4Z" fill="#7070ff"/><path d="M1869.0,459.7 L1876.5,460.5 L1876.0,464.4 L1868.5,463.2Z" fill="#5d5dff"/><path d="M1857.3,460.8 L1864.0,461.8 L1863.4,465.1 L1856.9,463.8Z" fill="#8f8fff"/><path d="M1863.2,461.6 L1869.4,462.5 L1868.8,466.1 L1862.6,464.9Z" fill="#7676ff"/><path d="M1868.6,462.4 L1876.2,463.5 L1875.5,467.3 L1868.0,465.9Z" fill="#6363ff"/><path d="M1857.0,463.1 L1863.6,464.3 L1862.9,467.6 L1856.4,466.1Z" fill="#9393ff"/><path d="M1862.8,464.2 L1869.0,465.2 L1868.3,468.8 L1862.1,467.4Z" fill="#7b7bff"/><path d="M1868.2,465.1 L1875.7,466.4 L1874.9,470.3 L1867.5,468.6Z" fill="#6969ff"/><path d="M1856.5,465.4 L1863.1,466.8 L1862.3,470.1 L1855.8,468.4Z" fill="#9797ff"/><path d="M1862.3,466.7 L1868.4,468.0 L1867.6,471.5 L1861.5,469.9Z" fill="#8080ff"/><path d="M1867.7,467.8 L1875.1,469.4 L1874.2,473.2 L1866.8,471.3Z" fill="#6f6fff"/><path d="M1856.0,467.7 L1862.5,469.3 L1861.6,472.5 L1855.2,470.6Z" fill="#9c9cff"/><path d="M1861.7,469.1 L1867.8,470.7 L1866.9,474.1 L1860.8,472.3Z" fill="#8686ff"/><path d="M1867.1,470.5 L1874.4,472.3 L1873.4,476.1 L1866.1,473.9Z" fill="#7575ff"/><path d="M1855.4,470.0 L1861.8,471.8 L1860.8,475.0 L1854.5,472.9Z" fill="#a0a0ff"/><path d="M1861.0,471.6 L1867.1,473.3 L1866.0,476.8 L1860.1,474.7Z" fill="#8b8bff"/><path d="M1866.3,473.1 L1873.7,475.2 L1872.5,478.9 L1865.3,476.5Z" fill="#7b7bff"/><path d="M1854.7,472.2 L1861.1,474.3 L1860.0,477.4 L1853.7,475.1Z" fill="#a5a5ff"/><path d="M1860.3,474.0 L1866.3,476.0 L1865.1,479.4 L1859.2,477.1Z" fill="#9191ff"/><path d="M1865.5,475.7 L1872.8,478.1 L1871.5,481.8 L1864.4,479.1Z" fill="#8282ff"/><path d="M1854.0,474.4 L1860.2,476.7 L1859.0,479.8 L1852.9,477.2Z" fill="#a9a9ff"/><path d="M1859.5,476.4 L1865.4,478.6 L1864.1,481.9 L1858.3,479.5Z" fill="#9696ff"/><path d="M1864.7,478.3 L1871.8,480.9 L1870.4,484.5 L1863.4,481.6Z" fill="#8888ff"/><path d="M1853.1,476.6 L1859.3,479.1 L1858.0,482.2 L1851.9,479.4Z" fill="#adadff"/><path d="M1858.6,478.8 L1864.4,481.2 L1863.0,484.5 L1857.3,481.8Z" fill="#9b9bff"/><path d="M1863.7,480.9 L1870.7,483.7 L1869.2,487.3 L1862.3,484.1Z" fill="#8e8eff"/><path d="M1852.2,478.8 L1858.3,481.5 L1856.9,484.5 L1850.9,481.5Z" fill="#b2b2ff"/><path d="M1857.6,481.1 L1863.3,483.7 L1861.8,487.0 L1856.2,484.1Z" fill="#a1a1ff"/><path d="M1862.6,483.4 L1869.6,486.5 L1867.9,490.0 L1861.1,486.6Z" fill="#9494ff"/><path d="M1851.2,480.9 L1857.2,483.8 L1855.7,486.8 L1849.8,483.6Z" fill="#babaff"/><path d="M1856.5,483.4 L1862.2,486.2 L1860.5,489.4 L1855.0,486.4Z" fill="#ababff"/><path d="M1861.4,485.9 L1868.3,489.2 L1866.5,492.7 L1859.8,489.0Z" fill="#9f9fff"/><path d="M1850.2,483.0 L1856.0,486.1 L1854.4,489.0 L1848.7,485.6Z" fill="#c2c2ff"/><path d="M1855.3,485.7 L1860.9,488.7 L1859.2,491.8 L1853.7,488.6Z" fill="#b4b4ff"/><path d="M1860.2,488.3 L1866.9,491.9 L1865.0,495.3 L1858.5,491.4Z" fill="#aaaaff"/><path d="M1849.0,485.0 L1854.8,488.3 L1853.1,491.2 L1847.4,487.6Z" fill="#cacaff"/><path d="M1854.1,487.9 L1859.6,491.1 L1857.7,494.2 L1852.4,490.8Z" fill="#bebeff"/><path d="M1858.9,490.7 L1865.5,494.5 L1863.5,497.8 L1857.0,493.7Z" fill="#b5b5ff"/><path d="M1847.8,487.0 L1853.5,490.5 L1851.6,493.3 L1846.2,489.5Z" fill="#d2d2ff"/><path d="M1852.8,490.1 L1858.1,493.5 L1856.2,496.5 L1851.0,492.9Z" fill="#c8c8ff"/><path d="M1857.5,493.0 L1863.9,497.1 L1861.8,500.3 L1855.5,496.0Z" fill="#c0c0ff"/><path d="M1846.5,489.0 L1852.1,492.7 L1850.1,495.4 L1844.8,491.4Z" fill="#dadaff"/><path d="M1851.4,492.2 L1856.6,495.8 L1854.6,498.7 L1849.5,494.9Z" fill="#d2d2ff"/><path d="M1856.0,495.3 L1862.3,499.6 L1860.0,502.8 L1853.9,498.2Z" fill="#cbcbff"/><path d="M1845.2,490.9 L1850.6,494.8 L1848.6,497.5 L1843.4,493.3Z" fill="#e2e2ff"/><path d="M1850.0,494.3 L1855.1,498.0 L1852.9,500.9 L1847.9,497.0Z" fill="#dbdbff"/><path d="M1854.4,497.6 L1860.6,502.0 L1858.2,505.2 L1852.3,500.4Z" fill="#d6d6ff"/><path d="M1843.8,492.7 L1852.3,499.4 L1850.1,502.2 L1841.9,495.1Z" fill="#eaeaff"/><path d="M1851.7,498.9 L1859.6,505.1 L1857.1,508.1 L1849.5,501.6Z" fill="#e5e5ff"/><path d="M1858.9,504.6 L1868.7,512.2 L1865.9,515.7 L1856.4,507.6Z" fill="#e2e2ff"/><path d="M1842.3,494.6 L1851.4,502.2 L1849.0,504.8 L1840.3,496.9Z" fill="#f2f2ff"/><path d="M1850.8,501.6 L1859.0,508.6 L1856.4,511.6 L1848.4,504.3Z" fill="#efefff"/><path d="M1858.4,508.1 L1868.8,516.8 L1865.7,520.2 L1855.8,511.1Z" fill="#ededff"/><path d="M1840.8,496.3 L1849.9,504.6 L1847.5,507.2 L1838.7,498.5Z" fill="#f8f8ff"/><path d="M1849.3,504.0 L1857.7,511.5 L1854.9,514.5 L1846.9,506.6Z" fill="#f7f7ff"/><path d="M1857.1,511.0 L1867.6,520.4 L1864.4,523.8 L1854.3,514.0Z" fill="#f6f6ff"/><path d="M1839.2,498.0 L1848.1,506.7 L1845.6,509.2 L1837.0,500.2Z" fill="#fdfdff"/><path d="M1847.6,506.1 L1855.8,514.0 L1852.9,516.9 L1845.0,508.6Z" fill="#fdfdff"/><path d="M1855.2,513.5 L1865.5,523.4 L1862.1,526.7 L1852.3,516.3Z" fill="#fcfcff"/><path d="M1837.5,499.7 L1846.1,508.5 L1843.4,511.0 L1835.3,501.8Z" fill="#fffcfc"/><path d="M1845.5,508.0 L1853.3,516.1 L1850.3,518.8 L1842.9,510.4Z" fill="#fffcfc"/><path d="M1852.8,515.5 L1862.6,525.6 L1859.1,528.8 L1849.8,518.2Z" fill="#fffbfb"/><path d="M1835.8,501.3 L1843.7,510.1 L1841.0,512.4 L1833.5,503.3Z" fill="#fff7f7"/><path d="M1843.2,509.5 L1850.4,517.5 L1847.4,520.1 L1840.5,511.8Z" fill="#fff6f6"/><path d="M1849.9,516.9 L1858.9,527.0 L1855.5,530.0 L1846.9,519.5Z" fill="#fff4f4"/><path d="M1834.1,502.8 L1841.0,511.1 L1838.3,513.3 L1831.7,504.7Z" fill="#fff3f3"/><path d="M1840.5,510.5 L1846.9,518.1 L1843.8,520.6 L1837.8,512.7Z" fill="#fff0f0"/><path d="M1846.4,517.5 L1854.4,527.0 L1850.9,529.8 L1843.4,520.0Z" fill="#ffeeee"/><path d="M1832.2,504.3 L1836.4,509.6 L1833.7,511.6 L1829.8,506.1Z" fill="#ffeeee"/><path d="M1835.9,508.9 L1839.7,513.9 L1836.9,516.0 L1833.2,510.9Z" fill="#ffeaea"/><path d="M1839.3,513.3 L1843.9,519.3 L1840.8,521.6 L1836.4,515.4Z" fill="#ffe7e7"/><path d="M1830.4,505.7 L1834.3,511.1 L1831.6,513.0 L1827.9,507.4Z" fill="#ffe9e9"/><path d="M1833.8,510.5 L1837.5,515.6 L1834.6,517.6 L1831.1,512.3Z" fill="#ffe4e4"/><path d="M1837.1,514.9 L1841.5,521.1 L1838.3,523.3 L1834.1,516.9Z" fill="#ffe0e0"/><path d="M1828.5,507.0 L1832.2,512.6 L1829.4,514.4 L1825.9,508.7Z" fill="#ffe5e5"/><path d="M1831.7,511.9 L1835.3,517.1 L1832.3,519.1 L1829.0,513.7Z" fill="#ffdfdf"/><path d="M1834.8,516.5 L1839.1,522.8 L1835.8,524.9 L1831.8,518.4Z" fill="#ffdada"/><path d="M1826.5,508.3 L1830.0,514.0 L1827.2,515.7 L1823.9,509.9Z" fill="#ffe0e0"/><path d="M1829.6,513.3 L1833.0,518.6 L1829.9,520.5 L1826.8,515.0Z" fill="#ffd9d9"/><path d="M1832.5,518.0 L1836.6,524.4 L1833.2,526.4 L1829.5,519.8Z" fill="#ffd4d4"/><path d="M1824.5,509.5 L1827.8,515.3 L1824.9,516.9 L1821.8,511.0Z" fill="#ffdcdc"/><path d="M1827.4,514.6 L1830.6,520.1 L1827.4,521.8 L1824.5,516.2Z" fill="#ffd4d4"/><path d="M1830.2,519.4 L1834.0,526.0 L1830.6,527.9 L1827.1,521.1Z" fill="#ffcece"/><path d="M1822.5,510.7 L1825.6,516.5 L1822.6,518.0 L1819.7,512.0Z" fill="#ffd7d7"/><path d="M1825.2,515.8 L1828.2,521.4 L1825.0,523.0 L1822.3,517.3Z" fill="#ffcfcf"/><path d="M1827.8,520.7 L1831.4,527.4 L1827.9,529.2 L1824.6,522.3Z" fill="#ffc8c8"/><path d="M1820.4,511.7 L1823.3,517.7 L1820.3,519.1 L1817.6,513.0Z" fill="#ffd3d3"/><path d="M1822.9,517.0 L1825.7,522.7 L1822.4,524.2 L1819.9,518.4Z" fill="#ffc9c9"/><path d="M1825.4,521.9 L1828.7,528.8 L1825.2,530.4 L1822.1,523.4Z" fill="#ffc2c2"/><path d="M1818.3,512.7 L1821.0,518.8 L1817.9,520.1 L1815.4,513.9Z" fill="#ffcfcf"/><path d="M1820.6,518.1 L1823.2,523.8 L1819.9,525.2 L1817.6,519.3Z" fill="#ffc4c4"/><path d="M1822.9,523.1 L1826.0,530.1 L1822.4,531.6 L1819.6,524.5Z" fill="#ffbcbc"/><path d="M1816.1,513.6 L1818.6,519.8 L1815.5,521.0 L1813.3,514.7Z" fill="#ffcaca"/><path d="M1818.3,519.1 L1820.7,524.9 L1817.3,526.2 L1815.2,520.2Z" fill="#ffbebe"/><path d="M1820.4,524.2 L1823.2,531.2 L1819.6,532.6 L1817.0,525.4Z" fill="#ffb6b6"/><path d="M1813.9,514.5 L1816.2,520.7 L1813.0,521.8 L1811.0,515.4Z" fill="#ffc5c5"/><path d="M1815.9,520.0 L1818.1,525.9 L1814.7,527.1 L1812.8,521.0Z" fill="#ffb8b8"/><path d="M1817.8,525.2 L1820.4,532.3 L1816.7,533.6 L1814.4,526.3Z" fill="#ffaeae"/><path d="M1811.7,515.2 L1813.8,521.6 L1810.6,522.5 L1808.8,516.1Z" fill="#ffbfbf"/><path d="M1813.5,520.8 L1815.5,526.8 L1812.0,527.8 L1810.4,521.8Z" fill="#ffb1b1"/><path d="M1815.2,526.0 L1817.6,533.3 L1813.8,534.4 L1811.8,527.1Z" fill="#ffa6a6"/><path d="M1809.5,515.9 L1811.3,522.3 L1808.1,523.2 L1806.5,516.7Z" fill="#ffb9b9"/><path d="M1811.1,521.5 L1812.8,527.6 L1809.3,528.5 L1807.9,522.4Z" fill="#ffaaaa"/><path d="M1812.6,526.8 L1814.7,534.2 L1810.9,535.2 L1809.2,527.7Z" fill="#ff9e9e"/><path d="M1807.2,516.5 L1808.8,523.0 L1805.6,523.7 L1804.2,517.2Z" fill="#ffb3b3"/><path d="M1808.6,522.2 L1810.2,528.3 L1806.7,529.1 L1805.4,522.9Z" fill="#ffa3a3"/><path d="M1810.0,527.6 L1811.8,534.9 L1808.0,535.8 L1806.5,528.3Z" fill="#ff9696"/><path d="M1804.9,517.0 L1806.3,523.6 L1803.0,524.2 L1801.9,517.6Z" fill="#ffadad"/><path d="M1806.2,522.8 L1807.5,528.9 L1803.9,529.6 L1802.9,523.4Z" fill="#ff9b9b"/><path d="M1807.3,528.2 L1808.9,535.6 L1805.0,536.3 L1803.8,528.8Z" fill="#ff8e8e"/><path d="M1802.6,517.5 L1803.8,524.1 L1800.5,524.6 L1799.6,517.9Z" fill="#ffa8a8"/><path d="M1803.7,523.3 L1804.7,529.5 L1801.2,530.0 L1800.4,523.8Z" fill="#ff9494"/><path d="M1804.6,528.7 L1805.9,536.2 L1802.1,536.8 L1801.1,529.2Z" fill="#ff8686"/><path d="M1800.3,517.8 L1801.3,524.5 L1797.9,524.8 L1797.3,518.2Z" fill="#ffa2a2"/><path d="M1801.1,523.7 L1802.0,529.9 L1798.5,530.3 L1797.9,524.0Z" fill="#ff8d8d"/><path d="M1801.9,529.1 L1803.0,536.7 L1799.1,537.1 L1798.4,529.5Z" fill="#ff7d7d"/><path d="M1798.0,518.1 L1798.7,524.8 L1795.4,525.0 L1795.0,518.4Z" fill="#ff9c9c"/><path d="M1798.6,524.0 L1799.3,530.2 L1795.7,530.5 L1795.3,524.2Z" fill="#ff8686"/><path d="M1799.2,529.5 L1800.0,537.0 L1796.1,537.3 L1795.6,529.7Z" fill="#ff7575"/><path d="M1795.7,518.3 L1796.1,525.0 L1792.8,525.1 L1792.6,518.5Z" fill="#ff9696"/><path d="M1796.1,524.2 L1796.5,530.5 L1792.9,530.7 L1792.8,524.3Z" fill="#ff7f7f"/><path d="M1796.5,529.7 L1797.0,537.3 L1793.1,537.5 L1792.9,529.9Z" fill="#ff6d6d"/><path d="M1793.3,518.5 L1793.6,525.1 L1790.2,525.2 L1790.3,518.5Z" fill="#ff9090"/><path d="M1793.5,524.3 L1793.8,530.6 L1790.2,530.7 L1790.2,524.4Z" fill="#ff7777"/><path d="M1793.7,529.8 L1794.0,537.4 L1790.1,537.5 L1790.2,529.9Z" fill="#ff6565"/><path d="M1791.0,518.5 L1791.0,525.2 L1787.7,525.1 L1788.0,518.4Z" fill="#ff8c8c"/><path d="M1791.0,524.4 L1791.0,530.7 L1787.4,530.6 L1787.7,524.3Z" fill="#ff7272"/><path d="M1791.0,529.9 L1791.0,537.5 L1787.1,537.4 L1787.4,529.8Z" fill="#ff5f5f"/><path d="M1788.7,518.5 L1788.4,525.1 L1785.1,524.9 L1785.6,518.3Z" fill="#ff8a8a"/><path d="M1788.5,524.3 L1788.2,530.6 L1784.6,530.4 L1785.2,524.1Z" fill="#ff7070"/><path d="M1788.3,529.8 L1788.0,537.4 L1784.1,537.2 L1784.7,529.6Z" fill="#ff5c5c"/><path d="M1786.3,518.3 L1785.9,525.0 L1782.5,524.7 L1783.3,518.1Z" fill="#ff8787"/><path d="M1785.9,524.2 L1785.5,530.5 L1781.9,530.2 L1782.6,523.9Z" fill="#ff6d6d"/><path d="M1785.5,529.7 L1785.0,537.3 L1781.1,536.9 L1782.0,529.4Z" fill="#ff5959"/><path d="M1784.0,518.1 L1783.3,524.8 L1780.0,524.3 L1781.0,517.7Z" fill="#ff8585"/><path d="M1783.4,524.0 L1782.7,530.2 L1779.2,529.8 L1780.1,523.6Z" fill="#ff6a6a"/><path d="M1782.8,529.5 L1782.0,537.0 L1778.1,536.5 L1779.3,529.0Z" fill="#ff5555"/><path d="M1781.7,517.8 L1780.7,524.5 L1777.4,523.9 L1778.7,517.4Z" fill="#ff8383"/><path d="M1780.9,523.7 L1780.0,529.9 L1776.4,529.3 L1777.6,523.1Z" fill="#ff6767"/><path d="M1780.1,529.1 L1779.0,536.7 L1775.2,536.0 L1776.6,528.5Z" fill="#ff5252"/><path d="M1779.4,517.5 L1778.2,524.1 L1774.9,523.4 L1776.4,516.9Z" fill="#ff8080"/><path d="M1778.3,523.3 L1777.3,529.5 L1773.7,528.8 L1775.1,522.6Z" fill="#ff6464"/><path d="M1777.4,528.7 L1776.1,536.2 L1772.2,535.4 L1773.9,528.0Z" fill="#ff4f4f"/><path d="M1777.1,517.0 L1775.7,523.6 L1772.4,522.8 L1774.1,516.3Z" fill="#ff7e7e"/><path d="M1775.8,522.8 L1774.5,528.9 L1771.0,528.1 L1772.6,522.0Z" fill="#ff6161"/><path d="M1774.7,528.2 L1773.1,535.6 L1769.3,534.7 L1771.2,527.3Z" fill="#ff4c4c"/><path d="M1774.8,516.5 L1773.2,523.0 L1770.0,522.1 L1771.9,515.7Z" fill="#ff7c7c"/><path d="M1773.4,522.2 L1771.8,528.3 L1768.4,527.4 L1770.2,521.3Z" fill="#ff5e5e"/><path d="M1772.0,527.6 L1770.2,534.9 L1766.4,533.9 L1768.6,526.6Z" fill="#ff4848"/><path d="M1772.5,515.9 L1770.7,522.3 L1767.5,521.3 L1769.6,515.0Z" fill="#ff7979"/><path d="M1770.9,521.5 L1769.2,527.6 L1765.7,526.5 L1767.8,520.6Z" fill="#ff5b5b"/><path d="M1769.4,526.8 L1767.3,534.2 L1763.6,533.0 L1766.0,525.8Z" fill="#ff4545"/><path d="M1770.3,515.2 L1768.2,521.6 L1765.1,520.5 L1767.4,514.2Z" fill="#ff7777"/><path d="M1768.5,520.8 L1766.5,526.8 L1763.1,525.6 L1765.4,519.7Z" fill="#ff5959"/><path d="M1766.8,526.0 L1764.4,533.3 L1760.7,532.0 L1763.4,524.9Z" fill="#ff4242"/><path d="M1768.1,514.5 L1765.8,520.7 L1762.7,519.5 L1765.3,513.4Z" fill="#ff7474"/><path d="M1766.1,520.0 L1763.9,525.9 L1760.6,524.6 L1763.0,518.8Z" fill="#ff5656"/><path d="M1764.2,525.2 L1761.6,532.3 L1758.0,530.9 L1760.9,523.9Z" fill="#ff3f3f"/><path d="M1765.9,513.6 L1763.4,519.8 L1760.3,518.5 L1763.1,512.4Z" fill="#ff7272"/><path d="M1763.7,519.1 L1761.3,524.9 L1758.0,523.5 L1760.7,517.8Z" fill="#ff5353"/><path d="M1761.6,524.2 L1758.8,531.2 L1755.2,529.7 L1758.4,522.8Z" fill="#ff3b3b"/><path d="M1763.7,512.7 L1761.0,518.8 L1758.0,517.4 L1761.0,511.4Z" fill="#ff7070"/><path d="M1761.4,518.1 L1758.8,523.8 L1755.5,522.3 L1758.4,516.7Z" fill="#ff5050"/><path d="M1759.1,523.1 L1756.0,530.1 L1752.5,528.4 L1755.9,521.6Z" fill="#ff3838"/><path d="M1761.6,511.7 L1758.7,517.7 L1755.7,516.2 L1758.9,510.3Z" fill="#ff7070"/><path d="M1759.1,517.0 L1756.3,522.7 L1753.1,521.0 L1756.1,515.5Z" fill="#ff5050"/><path d="M1756.6,521.9 L1753.3,528.8 L1749.8,527.0 L1753.5,520.3Z" fill="#ff3838"/><path d="M1759.5,510.7 L1756.4,516.5 L1753.5,514.9 L1756.9,509.2Z" fill="#ff7070"/><path d="M1756.8,515.8 L1753.8,521.4 L1750.7,519.7 L1753.9,514.2Z" fill="#ff5050"/><path d="M1754.2,520.7 L1750.6,527.4 L1747.2,525.5 L1751.1,519.0Z" fill="#ff3838"/><path d="M1757.5,509.5 L1754.2,515.3 L1751.3,513.6 L1754.9,507.9Z" fill="#ff7070"/><path d="M1754.6,514.6 L1751.4,520.1 L1748.3,518.2 L1751.7,512.9Z" fill="#ff5050"/><path d="M1751.8,519.4 L1748.0,526.0 L1744.7,524.0 L1748.8,517.5Z" fill="#ff3838"/><path d="M1755.5,508.3 L1752.0,514.0 L1749.2,512.1 L1753.0,506.7Z" fill="#ff7070"/><path d="M1752.4,513.3 L1749.0,518.6 L1746.0,516.7 L1749.6,511.5Z" fill="#ff5050"/><path d="M1749.5,518.0 L1745.4,524.4 L1742.2,522.3 L1746.5,516.0Z" fill="#ff3838"/><path d="M1758.0,500.4 L1752.8,508.1 L1750.3,506.3 L1755.8,498.9Z" fill="#ff7070"/><path d="M1753.2,507.5 L1748.4,514.6 L1745.6,512.6 L1750.7,505.7Z" fill="#ff5050"/><path d="M1748.9,514.0 L1742.9,522.8 L1739.7,520.5 L1746.1,512.0Z" fill="#ff3838"/><path d="M1756.3,499.2 L1750.8,506.8 L1748.4,504.9 L1754.2,497.6Z" fill="#ff7070"/><path d="M1751.3,506.1 L1746.2,513.1 L1743.5,511.0 L1748.9,504.3Z" fill="#ff5050"/><path d="M1746.7,512.5 L1740.5,521.1 L1737.3,518.7 L1744.0,510.4Z" fill="#ff3838"/><path d="M1754.7,498.0 L1748.9,505.3 L1746.5,503.4 L1752.6,496.3Z" fill="#ff7070"/><path d="M1749.4,504.7 L1744.1,511.5 L1741.5,509.3 L1747.1,502.8Z" fill="#ff5050"/><path d="M1744.6,510.9 L1738.1,519.3 L1735.0,516.8 L1742.0,508.7Z" fill="#ff3838"/><path d="M1753.1,496.7 L1747.1,503.8 L1744.8,501.8 L1751.1,494.9Z" fill="#ff7070"/><path d="M1747.6,503.2 L1742.1,509.8 L1739.5,507.5 L1745.3,501.2Z" fill="#ff5050"/><path d="M1742.6,509.2 L1735.7,517.4 L1732.8,514.8 L1740.0,507.0Z" fill="#ff3838"/><path d="M1751.5,495.3 L1745.3,502.3 L1743.0,500.1 L1749.6,493.5Z" fill="#ff7070"/><path d="M1745.8,501.7 L1740.1,508.1 L1737.5,505.7 L1743.6,499.6Z" fill="#ff5050"/><path d="M1740.6,507.5 L1733.5,515.4 L1730.6,512.7 L1738.1,505.1Z" fill="#ff3838"/><path d="M1750.0,493.9 L1743.5,500.6 L1741.4,498.4 L1748.1,492.0Z" fill="#ff7070"/><path d="M1744.1,500.1 L1738.1,506.3 L1735.7,503.8 L1741.9,497.9Z" fill="#ff5050"/><path d="M1738.7,505.7 L1731.3,513.4 L1728.5,510.6 L1736.3,503.3Z" fill="#ff3838"/><path d="M1748.6,492.5 L1741.9,499.0 L1739.8,496.7 L1746.7,490.5Z" fill="#ff7070"/><path d="M1742.4,498.4 L1736.2,504.4 L1733.9,501.9 L1740.4,496.1Z" fill="#ff5050"/><path d="M1736.8,503.8 L1729.1,511.2 L1726.5,508.4 L1734.5,501.3Z" fill="#ff3838"/><path d="M1747.2,491.0 L1740.2,497.2 L1738.2,494.9 L1745.4,488.9Z" fill="#ff7070"/><path d="M1740.8,496.7 L1734.4,502.4 L1732.2,499.8 L1738.8,494.4Z" fill="#ff5050"/><path d="M1735.0,501.9 L1727.1,509.0 L1724.5,506.1 L1732.8,499.3Z" fill="#ff3838"/><path d="M1745.8,489.4 L1738.7,495.4 L1736.7,493.0 L1744.1,487.3Z" fill="#ff7171"/><path d="M1739.3,494.9 L1732.7,500.4 L1730.5,497.7 L1737.4,492.5Z" fill="#ff5151"/><path d="M1733.3,499.9 L1725.1,506.8 L1722.7,503.7 L1731.1,497.3Z" fill="#ff3a3a"/><path d="M1738.2,492.7 L1732.9,496.9 L1730.9,494.2 L1736.4,490.3Z" fill="#ff7373"/><path d="M1733.6,496.4 L1728.6,500.2 L1726.5,497.4 L1731.6,493.7Z" fill="#ff5454"/><path d="M1729.2,499.8 L1723.2,504.4 L1720.9,501.3 L1727.1,496.9Z" fill="#ff3d3d"/><path d="M1736.8,490.9 L1731.4,494.8 L1729.5,492.1 L1735.1,488.4Z" fill="#ff7676"/><path d="M1732.0,494.3 L1726.9,498.0 L1724.9,495.1 L1730.2,491.6Z" fill="#ff5757"/><path d="M1727.6,497.6 L1721.4,502.0 L1719.2,498.8 L1725.6,494.6Z" fill="#ff4040"/><path d="M1735.5,489.0 L1729.9,492.7 L1728.1,489.9 L1733.8,486.4Z" fill="#ff7878"/><path d="M1730.6,492.2 L1725.4,495.8 L1723.4,492.8 L1728.8,489.5Z" fill="#ff5a5a"/><path d="M1726.0,495.3 L1719.7,499.6 L1717.6,496.3 L1724.1,492.3Z" fill="#ff4444"/><path d="M1734.2,487.0 L1728.5,490.5 L1726.8,487.7 L1732.6,484.4Z" fill="#ff7a7a"/><path d="M1729.2,490.1 L1723.9,493.5 L1722.0,490.4 L1727.5,487.3Z" fill="#ff5d5d"/><path d="M1724.5,493.0 L1718.1,497.1 L1716.1,493.7 L1722.7,490.0Z" fill="#ff4747"/><path d="M1733.0,485.0 L1727.2,488.3 L1725.6,485.4 L1731.5,482.3Z" fill="#ff7d7d"/><path d="M1727.9,487.9 L1722.4,491.1 L1720.7,487.9 L1726.3,485.0Z" fill="#ff6060"/><path d="M1723.1,490.7 L1716.5,494.5 L1714.6,491.1 L1721.4,487.6Z" fill="#ff4a4a"/><path d="M1731.8,483.0 L1726.0,486.1 L1724.5,483.1 L1730.5,480.2Z" fill="#ff7f7f"/><path d="M1726.7,485.7 L1721.1,488.7 L1719.5,485.5 L1725.2,482.8Z" fill="#ff6363"/><path d="M1721.8,488.3 L1715.1,491.9 L1713.3,488.4 L1720.2,485.1Z" fill="#ff4d4d"/><path d="M1730.8,480.9 L1724.8,483.8 L1723.4,480.8 L1729.5,478.1Z" fill="#ff8181"/><path d="M1725.5,483.4 L1719.8,486.2 L1718.3,482.9 L1724.1,480.4Z" fill="#ff6666"/><path d="M1720.6,485.9 L1713.7,489.2 L1712.1,485.7 L1719.1,482.6Z" fill="#ff5151"/><path d="M1729.8,478.8 L1723.7,481.5 L1722.4,478.4 L1728.6,475.9Z" fill="#ff8484"/><path d="M1724.4,481.1 L1718.7,483.7 L1717.3,480.4 L1723.2,478.1Z" fill="#ff6868"/><path d="M1719.4,483.4 L1712.4,486.5 L1710.9,482.9 L1718.0,480.1Z" fill="#ff5454"/><path d="M1728.9,476.6 L1722.7,479.1 L1721.5,476.0 L1727.8,473.8Z" fill="#ff8686"/><path d="M1723.4,478.8 L1717.6,481.2 L1716.3,477.8 L1722.3,475.7Z" fill="#ff6b6b"/><path d="M1718.3,480.9 L1711.3,483.7 L1709.9,480.1 L1717.1,477.5Z" fill="#ff5757"/><path d="M1728.0,474.4 L1721.8,476.7 L1720.7,473.5 L1727.1,471.5Z" fill="#ff8888"/><path d="M1722.5,476.4 L1716.6,478.6 L1715.4,475.2 L1721.5,473.3Z" fill="#ff6e6e"/><path d="M1717.3,478.3 L1710.2,480.9 L1708.9,477.2 L1716.2,474.9Z" fill="#ff5a5a"/><path d="M1727.3,472.2 L1720.9,474.3 L1720.0,471.1 L1726.4,469.3Z" fill="#ff8b8b"/><path d="M1721.7,474.0 L1715.7,476.0 L1714.7,472.5 L1720.7,470.9Z" fill="#ff7171"/><path d="M1716.5,475.7 L1709.2,478.1 L1708.1,474.3 L1715.4,472.3Z" fill="#ff5e5e"/><path d="M1726.6,470.0 L1720.2,471.8 L1719.3,468.6 L1725.8,467.0Z" fill="#ff8d8d"/><path d="M1721.0,471.6 L1714.9,473.3 L1714.0,469.8 L1720.1,468.4Z" fill="#ff7474"/><path d="M1715.7,473.1 L1708.3,475.2 L1707.3,471.4 L1714.8,469.7Z" fill="#ff6161"/><path d="M1726.0,467.7 L1719.5,469.3 L1718.8,466.1 L1725.3,464.7Z" fill="#ff9191"/><path d="M1720.3,469.1 L1714.2,470.7 L1713.4,467.2 L1719.6,465.9Z" fill="#ff7878"/><path d="M1714.9,470.5 L1707.6,472.3 L1706.7,468.5 L1714.2,467.0Z" fill="#ff6666"/><path d="M1725.5,465.4 L1718.9,466.8 L1718.3,463.5 L1724.9,462.4Z" fill="#ff9595"/><path d="M1719.7,466.7 L1713.6,468.0 L1712.9,464.4 L1719.1,463.4Z" fill="#ff7d7d"/><path d="M1714.3,467.8 L1706.9,469.4 L1706.2,465.5 L1713.7,464.3Z" fill="#ff6b6b"/><path d="M1725.0,463.1 L1718.4,464.3 L1717.9,461.0 L1724.6,460.1Z" fill="#ff9898"/><path d="M1719.2,464.2 L1713.0,465.2 L1712.5,461.7 L1718.7,460.9Z" fill="#ff8181"/><path d="M1713.8,465.1 L1706.3,466.4 L1705.7,462.6 L1713.3,461.6Z" fill="#ff7070"/><path d="M1724.7,460.8 L1718.0,461.8 L1717.7,458.4 L1724.3,457.8Z" fill="#ff9c9c"/><path d="M1718.8,461.6 L1712.6,462.5 L1712.2,459.0 L1718.5,458.4Z" fill="#ff8686"/><path d="M1713.4,462.4 L1705.8,463.5 L1705.4,459.6 L1713.0,458.9Z" fill="#ff7575"/><path d="M1724.4,458.5 L1717.7,459.2 L1717.5,455.9 L1724.1,455.5Z" fill="#ffa0a0"/><path d="M1718.5,459.1 L1712.3,459.8 L1712.0,456.2 L1718.3,455.8Z" fill="#ff8a8a"/><path d="M1713.0,459.7 L1705.5,460.5 L1705.2,456.6 L1712.8,456.1Z" fill="#ff7a7a"/><path d="M1724.2,456.2 L1717.5,456.6 L1717.4,453.3 L1724.0,453.1Z" fill="#ffa3a3"/><path d="M1718.3,456.6 L1712.0,457.0 L1711.8,453.4 L1718.2,453.3Z" fill="#ff8f8f"/><path d="M1712.8,457.0 L1705.2,457.5 L1705.0,453.6 L1712.6,453.4Z" fill="#ff8080"/><path d="M1724.0,453.8 L1717.4,454.1 L1717.3,450.7 L1724.0,450.8Z" fill="#ffa7a7"/><path d="M1718.2,454.0 L1711.9,454.3 L1711.8,450.7 L1718.1,450.7Z" fill="#ff9393"/><path d="M1712.7,454.2 L1705.1,454.5 L1705.0,450.6 L1712.6,450.7Z" fill="#ff8585"/><path d="M1724.0,451.5 L1717.3,451.5 L1717.4,448.2 L1724.1,448.5Z" fill="#ffabab"/><path d="M1718.1,451.5 L1711.8,451.5 L1711.9,447.9 L1718.2,448.2Z" fill="#ff9898"/><path d="M1712.6,451.5 L1705.0,451.5 L1705.1,447.6 L1712.7,447.9Z" fill="#ff8a8a"/><path d="M1724.0,449.2 L1717.4,448.9 L1717.6,445.6 L1724.2,446.1Z" fill="#ffaeae"/><path d="M1718.2,449.0 L1711.9,448.7 L1712.1,445.1 L1718.4,445.7Z" fill="#ff9c9c"/><path d="M1712.7,448.8 L1705.1,448.5 L1705.3,444.6 L1712.9,445.2Z" fill="#ff8f8f"/><path d="M1724.2,446.8 L1717.5,446.4 L1717.8,443.0 L1724.4,443.8Z" fill="#ffb2b2"/><path d="M1718.3,446.4 L1712.0,446.0 L1712.3,442.4 L1718.6,443.1Z" fill="#ffa1a1"/><path d="M1712.8,446.0 L1705.2,445.5 L1705.6,441.6 L1713.1,442.5Z" fill="#ff9494"/><path d="M1724.4,444.5 L1717.7,443.8 L1718.2,440.5 L1724.8,441.5Z" fill="#ffb7b7"/><path d="M1718.5,443.9 L1712.3,443.2 L1712.7,439.7 L1718.9,440.6Z" fill="#ffa7a7"/><path d="M1713.0,443.3 L1705.5,442.5 L1706.0,438.6 L1713.5,439.8Z" fill="#ff9b9b"/><path d="M1724.7,442.2 L1718.0,441.2 L1718.6,437.9 L1725.1,439.2Z" fill="#ffbcbc"/><path d="M1718.8,441.4 L1712.6,440.5 L1713.2,436.9 L1719.4,438.1Z" fill="#ffadad"/><path d="M1713.4,440.6 L1705.8,439.5 L1706.5,435.7 L1714.0,437.1Z" fill="#ffa2a2"/><path d="M1725.0,439.9 L1718.4,438.7 L1719.1,435.4 L1725.6,436.9Z" fill="#ffc1c1"/><path d="M1719.2,438.8 L1713.0,437.8 L1713.7,434.2 L1719.9,435.6Z" fill="#ffb3b3"/><path d="M1713.8,437.9 L1706.3,436.6 L1707.1,432.7 L1714.5,434.4Z" fill="#ffa9a9"/><path d="M1725.5,437.6 L1718.9,436.2 L1719.7,432.9 L1726.2,434.6Z" fill="#ffc6c6"/><path d="M1719.7,436.3 L1713.6,435.0 L1714.4,431.5 L1720.5,433.1Z" fill="#ffb9b9"/><path d="M1714.3,435.2 L1706.9,433.6 L1707.8,429.8 L1715.2,431.7Z" fill="#ffafaf"/><path d="M1726.0,435.3 L1719.5,433.7 L1720.4,430.5 L1726.8,432.4Z" fill="#ffcbcb"/><path d="M1720.3,433.9 L1714.2,432.3 L1715.1,428.9 L1721.2,430.7Z" fill="#ffbfbf"/><path d="M1714.9,432.5 L1707.6,430.7 L1708.6,426.9 L1715.9,429.1Z" fill="#ffb6b6"/><path d="M1726.6,433.0 L1720.2,431.2 L1721.2,428.0 L1727.5,430.1Z" fill="#ffd0d0"/><path d="M1721.0,431.4 L1714.9,429.7 L1716.0,426.2 L1721.9,428.3Z" fill="#ffc5c5"/><path d="M1715.7,429.9 L1708.3,427.8 L1709.5,424.1 L1716.7,426.5Z" fill="#ffbdbd"/><path d="M1727.3,430.8 L1720.9,428.7 L1722.0,425.6 L1728.3,427.9Z" fill="#ffd5d5"/><path d="M1721.7,429.0 L1715.7,427.0 L1716.9,423.6 L1722.8,425.9Z" fill="#ffcbcb"/><path d="M1716.5,427.3 L1709.2,424.9 L1710.5,421.2 L1717.6,423.9Z" fill="#ffc4c4"/><path d="M1728.0,428.6 L1721.8,426.3 L1723.0,423.2 L1729.1,425.8Z" fill="#ffdada"/><path d="M1722.5,426.6 L1716.6,424.4 L1717.9,421.1 L1723.7,423.5Z" fill="#ffd1d1"/><path d="M1717.3,424.7 L1710.2,422.1 L1711.6,418.5 L1718.6,421.4Z" fill="#ffcbcb"/><path d="M1728.9,426.4 L1722.7,423.9 L1724.0,420.8 L1730.1,423.6Z" fill="#ffdfdf"/><path d="M1723.4,424.2 L1717.6,421.8 L1719.0,418.5 L1724.7,421.2Z" fill="#ffd7d7"/><path d="M1718.3,422.1 L1711.3,419.3 L1712.8,415.7 L1719.7,418.9Z" fill="#ffd2d2"/><path d="M1729.8,424.2 L1723.7,421.5 L1725.1,418.5 L1731.1,421.5Z" fill="#ffe3e3"/><path d="M1724.4,421.9 L1718.7,419.3 L1720.2,416.0 L1725.8,418.9Z" fill="#ffdddd"/><path d="M1719.4,419.6 L1712.4,416.5 L1714.1,413.0 L1720.9,416.4Z" fill="#ffd9d9"/><path d="M1730.8,422.1 L1724.8,419.2 L1726.3,416.2 L1732.2,419.4Z" fill="#ffe9e9"/><path d="M1725.5,419.6 L1719.8,416.8 L1721.5,413.6 L1727.0,416.6Z" fill="#ffe4e4"/><path d="M1720.6,417.1 L1713.7,413.8 L1715.5,410.3 L1722.2,414.0Z" fill="#ffe1e1"/><path d="M1731.8,420.0 L1726.0,416.9 L1727.6,414.0 L1733.3,417.4Z" fill="#ffefef"/><path d="M1726.7,417.3 L1721.1,414.3 L1722.8,411.2 L1728.3,414.4Z" fill="#ffebeb"/><path d="M1721.8,414.7 L1715.1,411.1 L1717.0,407.7 L1723.5,411.6Z" fill="#ffe8e8"/><path d="M1733.0,418.0 L1727.2,414.7 L1728.9,411.8 L1734.6,415.4Z" fill="#fff4f4"/><path d="M1727.9,415.1 L1722.4,411.9 L1724.3,408.8 L1729.6,412.2Z" fill="#fff2f2"/><path d="M1723.1,412.3 L1716.5,408.5 L1718.5,405.2 L1725.0,409.3Z" fill="#fff0f0"/><path d="M1734.2,416.0 L1728.5,412.5 L1730.4,409.7 L1735.8,413.5Z" fill="#fffafa"/><path d="M1729.2,412.9 L1723.9,409.5 L1725.8,406.5 L1731.0,410.1Z" fill="#fff9f9"/><path d="M1724.5,410.0 L1718.1,405.9 L1720.2,402.7 L1726.5,407.0Z" fill="#fff8f8"/><path d="M1735.5,414.0 L1729.9,410.3 L1731.9,407.6 L1737.2,411.6Z" fill="#fefeff"/><path d="M1730.6,410.8 L1725.4,407.2 L1727.4,404.3 L1732.5,408.1Z" fill="#fefeff"/><path d="M1726.0,407.7 L1719.7,403.4 L1722.0,400.2 L1728.1,404.8Z" fill="#fefeff"/><path d="M1736.8,412.1 L1731.4,408.2 L1733.4,405.5 L1738.6,409.7Z" fill="#f9f9ff"/><path d="M1732.0,408.7 L1726.9,405.0 L1729.1,402.1 L1734.1,406.0Z" fill="#f7f7ff"/><path d="M1727.6,405.4 L1721.4,401.0 L1723.8,397.8 L1729.7,402.6Z" fill="#f6f6ff"/><path d="M1738.2,410.3 L1732.9,406.1 L1735.1,403.6 L1740.1,407.9Z" fill="#f2f2ff"/><path d="M1733.6,406.6 L1728.6,402.8 L1730.9,400.0 L1735.7,404.1Z" fill="#efefff"/><path d="M1729.2,403.2 L1723.2,398.6 L1725.7,395.5 L1731.5,400.5Z" fill="#ededff"/><path d="M1739.7,408.4 L1734.6,404.1 L1736.8,401.6 L1741.7,406.1Z" fill="#eaeaff"/><path d="M1735.2,404.7 L1730.3,400.6 L1732.7,397.9 L1737.4,402.2Z" fill="#e5e5ff"/><path d="M1731.0,401.1 L1725.1,396.2 L1727.7,393.3 L1733.3,398.4Z" fill="#e2e2ff"/><path d="M1741.2,406.7 L1736.3,402.2 L1738.5,399.8 L1743.3,404.5Z" fill="#e2e2ff"/><path d="M1736.8,402.7 L1732.2,398.5 L1734.6,395.9 L1739.1,400.3Z" fill="#dcdcff"/><path d="M1732.8,399.1 L1727.1,394.0 L1729.8,391.1 L1735.2,396.5Z" fill="#d7d7ff"/><path d="M1742.8,405.0 L1738.0,400.3 L1740.4,398.0 L1745.0,402.8Z" fill="#dadaff"/><path d="M1738.6,400.9 L1734.0,396.5 L1736.6,394.0 L1740.9,398.6Z" fill="#d2d2ff"/><path d="M1734.6,397.1 L1729.1,391.8 L1731.9,389.0 L1737.1,394.6Z" fill="#ccccff"/><path d="M1744.5,403.3 L1739.8,398.5 L1742.3,396.2 L1746.7,401.2Z" fill="#d2d2ff"/><path d="M1740.4,399.1 L1736.0,394.5 L1738.6,392.1 L1742.8,396.8Z" fill="#c9c9ff"/><path d="M1736.6,395.1 L1731.3,389.6 L1734.1,387.0 L1739.2,392.7Z" fill="#c1c1ff"/><path d="M1746.2,401.7 L1741.7,396.8 L1744.2,394.6 L1748.5,399.7Z" fill="#cbcbff"/><path d="M1742.2,397.3 L1738.0,392.7 L1740.7,390.3 L1744.7,395.2Z" fill="#bfbfff"/><path d="M1738.6,393.3 L1733.5,387.6 L1736.4,385.0 L1741.2,390.9Z" fill="#b6b6ff"/><path d="M1747.9,400.2 L1743.6,395.1 L1746.3,393.0 L1750.3,398.3Z" fill="#c3c3ff"/><path d="M1744.2,395.7 L1740.1,390.8 L1742.9,388.6 L1746.7,393.6Z" fill="#b5b5ff"/><path d="M1740.6,391.5 L1735.7,385.6 L1738.8,383.2 L1743.4,389.2Z" fill="#ababff"/><path d="M1749.8,398.7 L1745.6,393.4 L1748.3,391.4 L1752.2,396.9Z" fill="#bcbcff"/><path d="M1746.1,394.1 L1742.3,389.1 L1745.1,387.0 L1748.8,392.1Z" fill="#adadff"/><path d="M1742.7,389.7 L1738.1,383.7 L1741.2,381.4 L1745.6,387.6Z" fill="#a2a2ff"/><path d="M1751.6,397.3 L1747.7,391.9 L1750.4,390.0 L1754.1,395.6Z" fill="#b6b6ff"/><path d="M1748.2,392.5 L1744.5,387.4 L1747.4,385.4 L1750.9,390.7Z" fill="#a5a5ff"/><path d="M1744.9,388.1 L1740.5,381.9 L1743.7,379.7 L1747.9,386.1Z" fill="#9999ff"/><path d="M1753.5,396.0 L1749.8,390.4 L1752.6,388.6 L1756.1,394.3Z" fill="#afafff"/><path d="M1750.3,391.1 L1746.7,385.9 L1749.7,383.9 L1753.0,389.3Z" fill="#9e9eff"/><path d="M1747.2,386.5 L1742.9,380.2 L1746.2,378.1 L1750.2,384.6Z" fill="#9090ff"/><path d="M1755.5,394.7 L1752.0,389.0 L1754.8,387.3 L1758.1,393.1Z" fill="#a9a9ff"/><path d="M1752.4,389.7 L1749.0,384.4 L1752.1,382.5 L1755.2,388.0Z" fill="#9696ff"/><path d="M1749.5,385.0 L1745.4,378.6 L1748.8,376.6 L1752.5,383.2Z" fill="#8888ff"/><path d="M1757.5,393.5 L1754.2,387.7 L1757.1,386.1 L1760.2,392.0Z" fill="#a3a3ff"/><path d="M1754.6,388.4 L1751.4,382.9 L1754.6,381.2 L1757.5,386.8Z" fill="#8f8fff"/><path d="M1751.8,383.6 L1748.0,377.0 L1751.4,375.1 L1754.9,381.9Z" fill="#8080ff"/><path d="M1759.5,392.3 L1756.4,386.5 L1759.4,385.0 L1762.3,391.0Z" fill="#9d9dff"/><path d="M1756.8,387.2 L1753.8,381.6 L1757.0,380.0 L1759.7,385.7Z" fill="#8787ff"/><path d="M1754.2,382.3 L1750.6,375.6 L1754.1,373.8 L1757.4,380.7Z" fill="#7777ff"/><path d="M1761.6,391.3 L1758.7,385.3 L1761.7,383.9 L1764.4,390.0Z" fill="#9797ff"/><path d="M1759.1,386.0 L1756.3,380.3 L1759.6,378.8 L1762.1,384.6Z" fill="#8080ff"/><path d="M1756.6,381.1 L1753.3,374.2 L1756.8,372.6 L1759.9,379.6Z" fill="#6e6eff"/><path d="M1763.7,390.3 L1761.0,384.2 L1764.1,382.9 L1766.6,389.1Z" fill="#9191ff"/><path d="M1761.4,384.9 L1758.8,379.2 L1762.1,377.8 L1764.4,383.7Z" fill="#7878ff"/><path d="M1759.1,379.9 L1756.0,372.9 L1759.6,371.4 L1762.4,378.5Z" fill="#6666ff"/><path d="M1765.9,389.4 L1763.4,383.2 L1766.5,382.0 L1768.7,388.3Z" fill="#8b8bff"/><path d="M1763.7,383.9 L1761.3,378.1 L1764.7,376.8 L1766.8,382.8Z" fill="#7171ff"/><path d="M1761.6,378.8 L1758.8,371.8 L1762.4,370.4 L1765.0,377.6Z" fill="#5e5eff"/><path d="M1768.1,388.5 L1765.8,382.3 L1769.0,381.2 L1771.0,387.6Z" fill="#8585ff"/><path d="M1766.1,383.0 L1763.9,377.1 L1767.3,375.9 L1769.2,382.0Z" fill="#6a6aff"/><path d="M1764.2,377.8 L1761.6,370.7 L1765.3,369.4 L1767.6,376.7Z" fill="#5656ff"/><path d="M1770.3,387.8 L1768.2,381.4 L1771.4,380.5 L1773.2,386.9Z" fill="#8181ff"/><path d="M1768.5,382.2 L1766.5,376.2 L1770.0,375.2 L1771.6,381.2Z" fill="#6565ff"/><path d="M1766.8,377.0 L1764.4,369.7 L1768.2,368.6 L1770.2,375.9Z" fill="#5050ff"/><path d="M1772.5,387.1 L1770.7,380.7 L1773.9,379.8 L1775.5,386.3Z" fill="#7c7cff"/><path d="M1770.9,381.5 L1769.2,375.4 L1772.7,374.5 L1774.1,380.6Z" fill="#5f5fff"/><path d="M1769.4,376.2 L1767.3,368.8 L1771.1,367.8 L1772.8,375.3Z" fill="#4949ff"/><path d="M1774.8,386.5 L1773.2,380.0 L1776.4,379.3 L1777.8,385.8Z" fill="#7878ff"/><path d="M1773.4,380.8 L1771.8,374.7 L1775.3,373.9 L1776.6,380.1Z" fill="#5a5aff"/><path d="M1772.0,375.4 L1770.2,368.1 L1774.0,367.2 L1775.5,374.7Z" fill="#4343ff"/><path d="M1777.1,386.0 L1775.7,379.4 L1779.0,378.8 L1780.1,385.4Z" fill="#7373ff"/><path d="M1775.8,380.2 L1774.5,374.1 L1778.1,373.4 L1779.1,379.6Z" fill="#5454ff"/><path d="M1774.7,374.8 L1773.1,367.4 L1777.0,366.7 L1778.2,374.2Z" fill="#3d3dff"/><path d="M1779.4,385.5 L1778.2,378.9 L1781.5,378.4 L1782.4,385.1Z" fill="#6e6eff"/><path d="M1778.3,379.7 L1777.3,373.5 L1780.8,373.0 L1781.6,379.2Z" fill="#4e4eff"/><path d="M1777.4,374.3 L1776.1,366.8 L1779.9,366.2 L1780.9,373.8Z" fill="#3636ff"/><path d="M1781.7,385.2 L1780.7,378.5 L1784.1,378.2 L1784.7,384.8Z" fill="#6b6bff"/><path d="M1780.9,379.3 L1780.0,373.1 L1783.5,372.7 L1784.1,379.0Z" fill="#4a4aff"/><path d="M1780.1,373.9 L1779.0,366.3 L1782.9,365.9 L1783.6,373.5Z" fill="#3131ff"/><path d="M1784.0,384.9 L1783.3,378.2 L1786.6,378.0 L1787.0,384.6Z" fill="#6969ff"/><path d="M1783.4,379.0 L1782.7,372.8 L1786.3,372.5 L1786.7,378.8Z" fill="#4747ff"/><path d="M1782.8,373.5 L1782.0,366.0 L1785.9,365.7 L1786.4,373.3Z" fill="#2e2eff"/><path d="M1786.3,384.7 L1785.9,378.0 L1789.2,377.9 L1789.4,384.5Z" fill="#6666ff"/><path d="M1785.9,378.8 L1785.5,372.5 L1789.1,372.3 L1789.2,378.7Z" fill="#4444ff"/><path d="M1785.5,373.3 L1785.0,365.7 L1788.9,365.5 L1789.1,373.1Z" fill="#2b2bff"/><path d="M1788.7,384.5 L1788.4,377.9 L1791.8,377.8 L1791.7,384.5Z" fill="#6464ff"/><path d="M1788.5,378.7 L1788.2,372.4 L1791.8,372.3 L1791.8,378.6Z" fill="#4242ff"/><path d="M1788.3,373.2 L1788.0,365.6 L1791.9,365.5 L1791.8,373.1Z" fill="#2828ff"/>
<rect x="1550.3" y="540.5" width="481.9000000000001" height="20.0" fill="url(#wg1)"/>
</g>
<path d="M1791.0,365.5 L1791.8,365.5 L1792.5,365.5 L1793.3,365.5 L1794.0,365.6 L1794.8,365.6 L1795.5,365.6 L1796.3,365.7 L1797.0,365.7 L1797.7,365.8 L1798.5,365.8 L1799.2,365.9 L1800.0,366.0 L1800.7,366.1 L1801.5,366.1 L1802.2,366.2 L1803.0,366.3 L1803.7,366.4 L1804.5,366.6 L1805.2,366.7 L1805.9,366.8 L1806.7,366.9 L1807.4,367.1 L1808.1,367.2 L1808.9,367.4 L1809.6,367.5 L1810.3,367.7 L1811.1,367.9 L1811.8,368.1 L1812.5,368.2 L1813.3,368.4 L1814.0,368.6 L1814.7,368.8 L1815.4,369.0 L1816.1,369.3 L1816.9,369.5 L1817.6,369.7 L1818.3,369.9 L1819.0,370.2 L1819.7,370.4 L1820.4,370.7 L1821.1,370.9 L1821.8,371.2 L1822.5,371.5 L1823.2,371.8 L1823.9,372.0 L1824.6,372.3 L1825.3,372.6 L1826.0,372.9 L1826.7,373.2 L1827.3,373.6 L1828.0,373.9 L1828.7,374.2 L1829.4,374.5 L1830.0,374.9 L1830.7,375.2 L1831.4,375.6 L1832.0,375.9 L1832.7,376.3 L1833.3,376.6 L1834.0,377.0 L1834.6,377.4 L1835.3,377.8 L1835.9,378.2 L1836.6,378.6 L1837.2,379.0 L1837.8,379.4 L1838.5,379.8 L1839.1,380.2 L1839.7,380.6 L1840.3,381.1 L1840.9,381.5 L1841.5,381.9 L1842.2,382.4 L1842.8,382.8 L1843.4,383.3 L1843.9,383.7 L1844.5,384.2 L1845.1,384.7 L1845.7,385.1 L1846.3,385.6 L1846.9,386.1 L1847.4,386.6 L1848.0,387.1 L1848.5,387.6 L1849.1,388.1 L1849.7,388.6 L1850.2,389.1 L1850.7,389.6 L1851.3,390.2 L1851.8,390.7 L1852.3,391.2 L1852.9,391.8 L1853.4,392.3 L1853.9,392.8 L1854.4,393.4 L1854.9,394.0 L1855.4,394.5 L1855.9,395.1 L1856.4,395.6 L1856.9,396.2 L1857.4,396.8 L1857.8,397.4 L1858.3,398.0 L1858.8,398.6 L1859.2,399.1 L1859.7,399.7 L1860.1,400.3 L1860.6,401.0 L1861.0,401.6 L1861.4,402.2 L1861.9,402.8 L1862.3,403.4 L1862.7,404.0 L1863.1,404.7 L1863.5,405.3 L1863.9,405.9 L1864.3,406.6 L1864.7,407.2 L1865.1,407.9 L1865.5,408.5 L1865.9,409.2 L1866.2,409.8 L1866.6,410.5 L1866.9,411.1 L1867.3,411.8 L1867.6,412.5 L1868.0,413.1 L1868.3,413.8 L1868.6,414.5 L1868.9,415.2 L1869.3,415.8 L1869.6,416.5 L1869.9,417.2 L1870.2,417.9 L1870.5,418.6 L1870.7,419.3 L1871.0,420.0 L1871.3,420.7 L1871.6,421.4 L1871.8,422.1 L1872.1,422.8 L1872.3,423.5 L1872.6,424.2 L1872.8,424.9 L1873.0,425.6 L1873.2,426.4 L1873.5,427.1 L1873.7,427.8 L1873.9,428.5 L1874.1,429.2 L1874.3,430.0 L1874.4,430.7 L1874.6,431.4 L1874.8,432.2 L1875.0,432.9 L1875.1,433.6 L1875.3,434.4 L1875.4,435.1 L1875.6,435.8 L1875.7,436.6 L1875.8,437.3 L1875.9,438.0 L1876.1,438.8 L1876.2,439.5 L1876.3,440.3 L1876.4,441.0 L1876.4,441.8 L1876.5,442.5 L1876.6,443.3 L1876.7,444.0 L1876.7,444.8 L1876.8,445.5 L1876.8,446.2 L1876.9,447.0 L1876.9,447.7 L1876.9,448.5 L1877.0,449.2 L1877.0,450.0 L1877.0,450.7 L1877.0,451.5 L1877.0,452.3 L1877.0,453.0 L1877.0,453.8 L1876.9,454.5 L1876.9,455.3 L1876.9,456.0 L1876.8,456.8 L1876.8,457.5 L1876.7,458.2 L1876.7,459.0 L1876.6,459.7 L1876.5,460.5 L1876.4,461.2 L1876.4,462.0 L1876.3,462.7 L1876.2,463.5 L1876.1,464.2 L1875.9,465.0 L1875.8,465.7 L1875.7,466.4 L1875.6,467.2 L1875.4,467.9 L1875.3,468.6 L1875.1,469.4 L1875.0,470.1 L1874.8,470.8 L1874.6,471.6 L1874.4,472.3 L1874.3,473.0 L1874.1,473.8 L1873.9,474.5 L1873.7,475.2 L1873.5,475.9 L1873.2,476.6 L1873.0,477.4 L1872.8,478.1 L1872.6,478.8 L1872.3,479.5 L1872.1,480.2 L1871.8,480.9 L1871.6,481.6 L1871.3,482.3 L1871.0,483.0 L1870.7,483.7 L1870.5,484.4 L1870.2,485.1 L1869.9,485.8 L1869.6,486.5 L1869.3,487.2 L1868.9,487.8 L1868.6,488.5 L1868.3,489.2 L1868.0,489.9 L1867.6,490.5 L1867.3,491.2 L1866.9,491.9 L1866.6,492.5 L1866.2,493.2 L1865.9,493.8 L1865.5,494.5 L1865.1,495.1 L1864.7,495.8 L1864.3,496.4 L1863.9,497.1 L1863.5,497.7 L1863.1,498.3 L1862.7,499.0 L1862.3,499.6 L1861.9,500.2 L1861.4,500.8 L1861.0,501.4 L1860.6,502.0 L1860.1,502.7 L1859.7,503.3 L1865.7,508.8 L1866.7,510.7 L1867.3,512.2 L1867.6,513.6 L1867.8,514.8 L1867.8,516.0 L1867.8,517.1 L1867.6,518.1 L1867.4,519.1 L1867.1,520.0 L1866.8,520.9 L1866.4,521.8 L1865.9,522.6 L1865.4,523.3 L1864.8,524.0 L1864.2,524.7 L1863.5,525.3 L1862.8,525.9 L1862.1,526.4 L1861.3,526.9 L1860.4,527.3 L1859.5,527.6 L1858.6,527.9 L1857.6,528.1 L1856.6,528.3 L1855.5,528.3 L1854.3,528.3 L1853.1,528.1 L1851.7,527.8 L1850.2,527.2 L1848.3,526.2 L1842.8,520.2 L1842.2,520.6 L1841.5,521.1 L1840.9,521.5 L1840.3,521.9 L1839.7,522.4 L1839.1,522.8 L1838.5,523.2 L1837.8,523.6 L1837.2,524.0 L1836.6,524.4 L1835.9,524.8 L1835.3,525.2 L1834.6,525.6 L1834.0,526.0 L1833.3,526.4 L1832.7,526.7 L1832.0,527.1 L1831.4,527.4 L1830.7,527.8 L1830.0,528.1 L1829.4,528.5 L1828.7,528.8 L1828.0,529.1 L1827.3,529.4 L1826.7,529.8 L1826.0,530.1 L1825.3,530.4 L1824.6,530.7 L1823.9,531.0 L1823.2,531.2 L1822.5,531.5 L1821.8,531.8 L1821.1,532.1 L1820.4,532.3 L1819.7,532.6 L1819.0,532.8 L1818.3,533.1 L1817.6,533.3 L1816.9,533.5 L1816.1,533.7 L1815.4,534.0 L1814.7,534.2 L1814.0,534.4 L1813.3,534.6 L1812.5,534.8 L1811.8,534.9 L1811.1,535.1 L1810.3,535.3 L1809.6,535.5 L1808.9,535.6 L1808.1,535.8 L1807.4,535.9 L1806.7,536.1 L1805.9,536.2 L1805.2,536.3 L1804.5,536.4 L1803.7,536.6 L1803.0,536.7 L1802.2,536.8 L1801.5,536.9 L1800.7,536.9 L1800.0,537.0 L1799.2,537.1 L1798.5,537.2 L1797.7,537.2 L1797.0,537.3 L1796.3,537.3 L1795.5,537.4 L1794.8,537.4 L1794.0,537.4 L1793.3,537.5 L1792.5,537.5 L1791.8,537.5 L1791.0,537.5 L1790.2,537.5 L1789.5,537.5 L1788.7,537.5 L1788.0,537.4 L1787.2,537.4 L1786.5,537.4 L1785.7,537.3 L1785.0,537.3 L1784.3,537.2 L1783.5,537.2 L1782.8,537.1 L1782.0,537.0 L1781.3,536.9 L1780.5,536.9 L1779.8,536.8 L1779.0,536.7 L1778.3,536.6 L1777.5,536.4 L1776.8,536.3 L1776.1,536.2 L1775.3,536.1 L1774.6,535.9 L1773.9,535.8 L1773.1,535.6 L1772.4,535.5 L1771.7,535.3 L1770.9,535.1 L1770.2,534.9 L1769.5,534.8 L1768.7,534.6 L1768.0,534.4 L1767.3,534.2 L1766.6,534.0 L1765.9,533.7 L1765.1,533.5 L1764.4,533.3 L1763.7,533.1 L1763.0,532.8 L1762.3,532.6 L1761.6,532.3 L1760.9,532.1 L1760.2,531.8 L1759.5,531.5 L1758.8,531.2 L1758.1,531.0 L1757.4,530.7 L1756.7,530.4 L1756.0,530.1 L1755.3,529.8 L1754.7,529.4 L1754.0,529.1 L1753.3,528.8 L1752.6,528.5 L1752.0,528.1 L1751.3,527.8 L1750.6,527.4 L1750.0,527.1 L1749.3,526.7 L1748.7,526.4 L1748.0,526.0 L1747.4,525.6 L1746.7,525.2 L1746.1,524.8 L1745.4,524.4 L1744.8,524.0 L1744.2,523.6 L1743.5,523.2 L1742.9,522.8 L1742.3,522.4 L1741.7,521.9 L1741.1,521.5 L1740.5,521.1 L1739.8,520.6 L1739.2,520.2 L1738.6,519.7 L1738.1,519.3 L1737.5,518.8 L1736.9,518.3 L1736.3,517.9 L1735.7,517.4 L1735.1,516.9 L1734.6,516.4 L1734.0,515.9 L1733.5,515.4 L1732.9,514.9 L1732.3,514.4 L1731.8,513.9 L1731.3,513.4 L1730.7,512.8 L1730.2,512.3 L1729.7,511.8 L1729.1,511.2 L1728.6,510.7 L1728.1,510.2 L1727.6,509.6 L1727.1,509.0 L1726.6,508.5 L1726.1,507.9 L1725.6,507.4 L1725.1,506.8 L1724.6,506.2 L1724.2,505.6 L1723.7,505.0 L1723.2,504.4 L1722.8,503.9 L1722.3,503.3 L1721.9,502.7 L1721.4,502.0 L1721.0,501.4 L1720.6,500.8 L1720.1,500.2 L1719.7,499.6 L1719.3,499.0 L1718.9,498.3 L1718.5,497.7 L1718.1,497.1 L1717.7,496.4 L1717.3,495.8 L1716.9,495.1 L1716.5,494.5 L1716.1,493.8 L1715.8,493.2 L1715.4,492.5 L1715.1,491.9 L1714.7,491.2 L1714.4,490.5 L1714.0,489.9 L1713.7,489.2 L1713.4,488.5 L1713.1,487.8 L1712.7,487.2 L1712.4,486.5 L1712.1,485.8 L1711.8,485.1 L1711.5,484.4 L1711.3,483.7 L1711.0,483.0 L1710.7,482.3 L1710.4,481.6 L1710.2,480.9 L1709.9,480.2 L1709.7,479.5 L1709.4,478.8 L1709.2,478.1 L1709.0,477.4 L1708.8,476.6 L1708.5,475.9 L1708.3,475.2 L1708.1,474.5 L1707.9,473.8 L1707.7,473.0 L1707.6,472.3 L1707.4,471.6 L1707.2,470.8 L1707.0,470.1 L1706.9,469.4 L1706.7,468.6 L1706.6,467.9 L1706.4,467.2 L1706.3,466.4 L1706.2,465.7 L1706.1,465.0 L1705.9,464.2 L1705.8,463.5 L1705.7,462.7 L1705.6,462.0 L1705.6,461.2 L1705.5,460.5 L1705.4,459.7 L1705.3,459.0 L1705.3,458.2 L1705.2,457.5 L1705.2,456.8 L1705.1,456.0 L1705.1,455.3 L1705.1,454.5 L1705.0,453.8 L1705.0,453.0 L1705.0,452.3 L1705.0,451.5 L1705.0,450.7 L1705.0,450.0 L1705.0,449.2 L1705.1,448.5 L1705.1,447.7 L1705.1,447.0 L1705.2,446.2 L1705.2,445.5 L1705.3,444.8 L1705.3,444.0 L1705.4,443.3 L1705.5,442.5 L1705.6,441.8 L1705.6,441.0 L1705.7,440.3 L1705.8,439.5 L1705.9,438.8 L1706.1,438.0 L1706.2,437.3 L1706.3,436.6 L1706.4,435.8 L1706.6,435.1 L1706.7,434.4 L1706.9,433.6 L1707.0,432.9 L1707.2,432.2 L1707.4,431.4 L1707.6,430.7 L1707.7,430.0 L1707.9,429.2 L1708.1,428.5 L1708.3,427.8 L1708.5,427.1 L1708.8,426.4 L1709.0,425.6 L1709.2,424.9 L1709.4,424.2 L1709.7,423.5 L1709.9,422.8 L1710.2,422.1 L1710.4,421.4 L1710.7,420.7 L1711.0,420.0 L1711.3,419.3 L1711.5,418.6 L1711.8,417.9 L1712.1,417.2 L1712.4,416.5 L1712.7,415.8 L1713.1,415.2 L1713.4,414.5 L1713.7,413.8 L1714.0,413.1 L1714.4,412.5 L1714.7,411.8 L1715.1,411.1 L1715.4,410.5 L1715.8,409.8 L1716.1,409.2 L1716.5,408.5 L1716.9,407.9 L1717.3,407.2 L1717.7,406.6 L1718.1,405.9 L1718.5,405.3 L1718.9,404.7 L1719.3,404.0 L1719.7,403.4 L1720.1,402.8 L1720.6,402.2 L1721.0,401.6 L1721.4,401.0 L1721.9,400.3 L1722.3,399.7 L1722.8,399.1 L1723.2,398.6 L1723.7,398.0 L1724.2,397.4 L1724.6,396.8 L1725.1,396.2 L1725.6,395.6 L1726.1,395.1 L1726.6,394.5 L1727.1,394.0 L1727.6,393.4 L1728.1,392.8 L1728.6,392.3 L1729.1,391.8 L1729.7,391.2 L1730.2,390.7 L1730.7,390.2 L1731.3,389.6 L1731.8,389.1 L1732.3,388.6 L1732.9,388.1 L1733.5,387.6 L1734.0,387.1 L1734.6,386.6 L1735.1,386.1 L1735.7,385.6 L1736.3,385.1 L1736.9,384.7 L1737.5,384.2 L1738.1,383.7 L1738.6,383.3 L1739.2,382.8 L1739.8,382.4 L1740.5,381.9 L1741.1,381.5 L1741.7,381.1 L1742.3,380.6 L1742.9,380.2 L1743.5,379.8 L1744.2,379.4 L1744.8,379.0 L1745.4,378.6 L1746.1,378.2 L1746.7,377.8 L1747.4,377.4 L1748.0,377.0 L1748.7,376.6 L1749.3,376.3 L1750.0,375.9 L1750.6,375.6 L1751.3,375.2 L1752.0,374.9 L1752.6,374.5 L1753.3,374.2 L1754.0,373.9 L1754.7,373.6 L1755.3,373.2 L1756.0,372.9 L1756.7,372.6 L1757.4,372.3 L1758.1,372.0 L1758.8,371.8 L1759.5,371.5 L1760.2,371.2 L1760.9,370.9 L1761.6,370.7 L1762.3,370.4 L1763.0,370.2 L1763.7,369.9 L1764.4,369.7 L1765.1,369.5 L1765.9,369.3 L1766.6,369.0 L1767.3,368.8 L1768.0,368.6 L1768.7,368.4 L1769.5,368.2 L1770.2,368.1 L1770.9,367.9 L1771.7,367.7 L1772.4,367.5 L1773.1,367.4 L1773.9,367.2 L1774.6,367.1 L1775.3,366.9 L1776.1,366.8 L1776.8,366.7 L1777.5,366.6 L1778.3,366.4 L1779.0,366.3 L1779.8,366.2 L1780.5,366.1 L1781.3,366.1 L1782.0,366.0 L1782.8,365.9 L1783.5,365.8 L1784.3,365.8 L1785.0,365.7 L1785.7,365.7 L1786.5,365.6 L1787.2,365.6 L1788.0,365.6 L1788.7,365.5 L1789.5,365.5 L1790.2,365.5Z M1791.0,384.5 L1791.6,384.5 L1792.2,384.5 L1792.8,384.5 L1793.3,384.5 L1793.9,384.6 L1794.5,384.6 L1795.1,384.6 L1795.7,384.7 L1796.3,384.7 L1796.8,384.8 L1797.4,384.8 L1798.0,384.9 L1798.6,384.9 L1799.2,385.0 L1799.7,385.1 L1800.3,385.2 L1800.9,385.2 L1801.5,385.3 L1802.1,385.4 L1802.6,385.5 L1803.2,385.6 L1803.8,385.7 L1804.4,385.8 L1804.9,386.0 L1805.5,386.1 L1806.1,386.2 L1806.6,386.4 L1807.2,386.5 L1807.8,386.6 L1808.3,386.8 L1808.9,386.9 L1809.5,387.1 L1810.0,387.3 L1810.6,387.4 L1811.1,387.6 L1811.7,387.8 L1812.3,388.0 L1812.8,388.2 L1813.4,388.3 L1813.9,388.5 L1814.5,388.7 L1815.0,389.0 L1815.6,389.2 L1816.1,389.4 L1816.6,389.6 L1817.2,389.8 L1817.7,390.1 L1818.3,390.3 L1818.8,390.5 L1819.3,390.8 L1819.8,391.0 L1820.4,391.3 L1820.9,391.5 L1821.4,391.8 L1821.9,392.1 L1822.5,392.3 L1823.0,392.6 L1823.5,392.9 L1824.0,393.2 L1824.5,393.5 L1825.0,393.8 L1825.5,394.1 L1826.0,394.4 L1826.5,394.7 L1827.0,395.0 L1827.5,395.3 L1828.0,395.6 L1828.5,396.0 L1828.9,396.3 L1829.4,396.6 L1829.9,397.0 L1830.4,397.3 L1830.9,397.6 L1831.3,398.0 L1831.8,398.3 L1832.2,398.7 L1832.7,399.1 L1833.2,399.4 L1833.6,399.8 L1834.1,400.2 L1834.5,400.6 L1835.0,400.9 L1835.4,401.3 L1835.8,401.7 L1836.3,402.1 L1836.7,402.5 L1837.1,402.9 L1837.5,403.3 L1838.0,403.7 L1838.4,404.1 L1838.8,404.5 L1839.2,405.0 L1839.6,405.4 L1840.0,405.8 L1840.4,406.2 L1840.8,406.7 L1841.2,407.1 L1841.6,407.5 L1841.9,408.0 L1842.3,408.4 L1842.7,408.9 L1843.1,409.3 L1843.4,409.8 L1843.8,410.3 L1844.2,410.7 L1844.5,411.2 L1844.9,411.6 L1845.2,412.1 L1845.5,412.6 L1845.9,413.1 L1846.2,413.6 L1846.5,414.0 L1846.9,414.5 L1847.2,415.0 L1847.5,415.5 L1847.8,416.0 L1848.1,416.5 L1848.4,417.0 L1848.7,417.5 L1849.0,418.0 L1849.3,418.5 L1849.6,419.0 L1849.9,419.5 L1850.2,420.0 L1850.4,420.6 L1850.7,421.1 L1851.0,421.6 L1851.2,422.1 L1851.5,422.7 L1851.7,423.2 L1852.0,423.7 L1852.2,424.2 L1852.4,424.8 L1852.7,425.3 L1852.9,425.9 L1853.1,426.4 L1853.3,426.9 L1853.5,427.5 L1853.8,428.0 L1854.0,428.6 L1854.2,429.1 L1854.3,429.7 L1854.5,430.2 L1854.7,430.8 L1854.9,431.4 L1855.1,431.9 L1855.2,432.5 L1855.4,433.0 L1855.6,433.6 L1855.7,434.2 L1855.9,434.7 L1856.0,435.3 L1856.1,435.9 L1856.3,436.4 L1856.4,437.0 L1856.5,437.6 L1856.7,438.1 L1856.8,438.7 L1856.9,439.3 L1857.0,439.9 L1857.1,440.4 L1857.2,441.0 L1857.3,441.6 L1857.3,442.2 L1857.4,442.8 L1857.5,443.3 L1857.6,443.9 L1857.6,444.5 L1857.7,445.1 L1857.7,445.7 L1857.8,446.2 L1857.8,446.8 L1857.9,447.4 L1857.9,448.0 L1857.9,448.6 L1858.0,449.2 L1858.0,449.7 L1858.0,450.3 L1858.0,450.9 L1858.0,451.5 L1858.0,452.1 L1858.0,452.7 L1858.0,453.3 L1858.0,453.8 L1857.9,454.4 L1857.9,455.0 L1857.9,455.6 L1857.8,456.2 L1857.8,456.8 L1857.7,457.3 L1857.7,457.9 L1857.6,458.5 L1857.6,459.1 L1857.5,459.7 L1857.4,460.2 L1857.3,460.8 L1857.3,461.4 L1857.2,462.0 L1857.1,462.6 L1857.0,463.1 L1856.9,463.7 L1856.8,464.3 L1856.7,464.9 L1856.5,465.4 L1856.4,466.0 L1856.3,466.6 L1856.1,467.1 L1856.0,467.7 L1855.9,468.3 L1855.7,468.8 L1855.6,469.4 L1855.4,470.0 L1855.2,470.5 L1855.1,471.1 L1854.9,471.6 L1854.7,472.2 L1854.5,472.8 L1854.3,473.3 L1854.2,473.9 L1854.0,474.4 L1853.8,475.0 L1853.5,475.5 L1853.3,476.1 L1853.1,476.6 L1852.9,477.1 L1852.7,477.7 L1852.4,478.2 L1852.2,478.8 L1852.0,479.3 L1851.7,479.8 L1851.5,480.3 L1851.2,480.9 L1851.0,481.4 L1850.7,481.9 L1850.4,482.4 L1850.2,483.0 L1849.9,483.5 L1849.6,484.0 L1849.3,484.5 L1849.0,485.0 L1848.7,485.5 L1848.4,486.0 L1848.1,486.5 L1847.8,487.0 L1847.5,487.5 L1847.2,488.0 L1846.9,488.5 L1846.5,489.0 L1846.2,489.4 L1845.9,489.9 L1845.5,490.4 L1845.2,490.9 L1844.9,491.4 L1844.5,491.8 L1844.2,492.3 L1843.8,492.7 L1843.4,493.2 L1843.1,493.7 L1842.7,494.1 L1842.3,494.6 L1841.9,495.0 L1841.6,495.5 L1841.2,495.9 L1840.8,496.3 L1840.4,496.8 L1840.0,497.2 L1839.6,497.6 L1839.2,498.0 L1838.8,498.5 L1838.4,498.9 L1838.0,499.3 L1837.5,499.7 L1837.1,500.1 L1836.7,500.5 L1836.3,500.9 L1835.8,501.3 L1835.4,501.7 L1835.0,502.1 L1834.5,502.4 L1834.1,502.8 L1833.6,503.2 L1833.2,503.6 L1832.7,503.9 L1832.2,504.3 L1831.8,504.7 L1831.3,505.0 L1830.9,505.4 L1830.4,505.7 L1829.9,506.0 L1829.4,506.4 L1828.9,506.7 L1828.5,507.0 L1828.0,507.4 L1827.5,507.7 L1827.0,508.0 L1826.5,508.3 L1826.0,508.6 L1825.5,508.9 L1825.0,509.2 L1824.5,509.5 L1824.0,509.8 L1823.5,510.1 L1823.0,510.4 L1822.5,510.7 L1821.9,510.9 L1821.4,511.2 L1820.9,511.5 L1820.4,511.7 L1819.8,512.0 L1819.3,512.2 L1818.8,512.5 L1818.3,512.7 L1817.7,512.9 L1817.2,513.2 L1816.6,513.4 L1816.1,513.6 L1815.6,513.8 L1815.0,514.0 L1814.5,514.3 L1813.9,514.5 L1813.4,514.7 L1812.8,514.8 L1812.3,515.0 L1811.7,515.2 L1811.1,515.4 L1810.6,515.6 L1810.0,515.7 L1809.5,515.9 L1808.9,516.1 L1808.3,516.2 L1807.8,516.4 L1807.2,516.5 L1806.6,516.6 L1806.1,516.8 L1805.5,516.9 L1804.9,517.0 L1804.4,517.2 L1803.8,517.3 L1803.2,517.4 L1802.6,517.5 L1802.1,517.6 L1801.5,517.7 L1800.9,517.8 L1800.3,517.8 L1799.7,517.9 L1799.2,518.0 L1798.6,518.1 L1798.0,518.1 L1797.4,518.2 L1796.8,518.2 L1796.3,518.3 L1795.7,518.3 L1795.1,518.4 L1794.5,518.4 L1793.9,518.4 L1793.3,518.5 L1792.8,518.5 L1792.2,518.5 L1791.6,518.5 L1791.0,518.5 L1790.4,518.5 L1789.8,518.5 L1789.2,518.5 L1788.7,518.5 L1788.1,518.4 L1787.5,518.4 L1786.9,518.4 L1786.3,518.3 L1785.7,518.3 L1785.2,518.2 L1784.6,518.2 L1784.0,518.1 L1783.4,518.1 L1782.8,518.0 L1782.3,517.9 L1781.7,517.8 L1781.1,517.8 L1780.5,517.7 L1779.9,517.6 L1779.4,517.5 L1778.8,517.4 L1778.2,517.3 L1777.6,517.2 L1777.1,517.0 L1776.5,516.9 L1775.9,516.8 L1775.4,516.6 L1774.8,516.5 L1774.2,516.4 L1773.7,516.2 L1773.1,516.1 L1772.5,515.9 L1772.0,515.7 L1771.4,515.6 L1770.9,515.4 L1770.3,515.2 L1769.7,515.0 L1769.2,514.8 L1768.6,514.7 L1768.1,514.5 L1767.5,514.3 L1767.0,514.0 L1766.4,513.8 L1765.9,513.6 L1765.4,513.4 L1764.8,513.2 L1764.3,512.9 L1763.7,512.7 L1763.2,512.5 L1762.7,512.2 L1762.2,512.0 L1761.6,511.7 L1761.1,511.5 L1760.6,511.2 L1760.1,510.9 L1759.5,510.7 L1759.0,510.4 L1758.5,510.1 L1758.0,509.8 L1757.5,509.5 L1757.0,509.2 L1756.5,508.9 L1756.0,508.6 L1755.5,508.3 L1755.0,508.0 L1754.5,507.7 L1754.0,507.4 L1758.0,500.4 L1757.6,500.1 L1757.2,499.8 L1756.7,499.5 L1756.3,499.2 L1755.9,498.9 L1755.5,498.6 L1755.1,498.3 L1754.7,498.0 L1754.3,497.7 L1753.9,497.4 L1753.5,497.0 L1753.1,496.7 L1752.7,496.4 L1752.3,496.0 L1751.9,495.7 L1751.5,495.3 L1751.1,495.0 L1750.8,494.6 L1750.4,494.3 L1750.0,493.9 L1749.6,493.6 L1749.3,493.2 L1748.9,492.9 L1748.6,492.5 L1748.2,492.1 L1747.9,491.7 L1747.5,491.4 L1747.2,491.0 L1746.8,490.6 L1746.5,490.2 L1746.1,489.8 L1745.8,489.4 L1745.5,489.0 L1745.1,488.6 L1744.8,488.2 L1744.5,487.8 L1737.8,492.3 L1737.5,491.8 L1737.1,491.4 L1736.8,490.9 L1736.5,490.4 L1736.1,489.9 L1735.8,489.4 L1735.5,489.0 L1735.1,488.5 L1734.8,488.0 L1734.5,487.5 L1734.2,487.0 L1733.9,486.5 L1733.6,486.0 L1733.3,485.5 L1733.0,485.0 L1732.7,484.5 L1732.4,484.0 L1732.1,483.5 L1731.8,483.0 L1731.6,482.4 L1731.3,481.9 L1731.0,481.4 L1730.8,480.9 L1730.5,480.3 L1730.3,479.8 L1730.0,479.3 L1729.8,478.8 L1729.6,478.2 L1729.3,477.7 L1729.1,477.1 L1728.9,476.6 L1728.7,476.1 L1728.5,475.5 L1728.2,475.0 L1728.0,474.4 L1727.8,473.9 L1727.7,473.3 L1727.5,472.8 L1727.3,472.2 L1727.1,471.6 L1726.9,471.1 L1726.8,470.5 L1726.6,470.0 L1726.4,469.4 L1726.3,468.8 L1726.1,468.3 L1726.0,467.7 L1725.9,467.1 L1725.7,466.6 L1725.6,466.0 L1725.5,465.4 L1725.3,464.9 L1725.2,464.3 L1725.1,463.7 L1725.0,463.1 L1724.9,462.6 L1724.8,462.0 L1724.7,461.4 L1724.7,460.8 L1724.6,460.2 L1724.5,459.7 L1724.4,459.1 L1724.4,458.5 L1724.3,457.9 L1724.3,457.3 L1724.2,456.8 L1724.2,456.2 L1724.1,455.6 L1724.1,455.0 L1724.1,454.4 L1724.0,453.8 L1724.0,453.3 L1724.0,452.7 L1724.0,452.1 L1724.0,451.5 L1724.0,450.9 L1724.0,450.3 L1724.0,449.7 L1724.0,449.2 L1724.1,448.6 L1724.1,448.0 L1724.1,447.4 L1724.2,446.8 L1724.2,446.2 L1724.3,445.7 L1724.3,445.1 L1724.4,444.5 L1724.4,443.9 L1724.5,443.3 L1724.6,442.8 L1724.7,442.2 L1724.7,441.6 L1724.8,441.0 L1724.9,440.4 L1725.0,439.9 L1725.1,439.3 L1725.2,438.7 L1725.3,438.1 L1725.5,437.6 L1725.6,437.0 L1725.7,436.4 L1725.9,435.9 L1726.0,435.3 L1726.1,434.7 L1726.3,434.2 L1726.4,433.6 L1726.6,433.0 L1726.8,432.5 L1726.9,431.9 L1727.1,431.4 L1727.3,430.8 L1727.5,430.2 L1727.7,429.7 L1727.8,429.1 L1728.0,428.6 L1728.2,428.0 L1728.5,427.5 L1728.7,426.9 L1728.9,426.4 L1729.1,425.9 L1729.3,425.3 L1729.6,424.8 L1729.8,424.2 L1730.0,423.7 L1730.3,423.2 L1730.5,422.7 L1730.8,422.1 L1731.0,421.6 L1731.3,421.1 L1731.6,420.6 L1731.8,420.0 L1732.1,419.5 L1732.4,419.0 L1732.7,418.5 L1733.0,418.0 L1733.3,417.5 L1733.6,417.0 L1733.9,416.5 L1734.2,416.0 L1734.5,415.5 L1734.8,415.0 L1735.1,414.5 L1735.5,414.0 L1735.8,413.6 L1736.1,413.1 L1736.5,412.6 L1736.8,412.1 L1737.1,411.6 L1737.5,411.2 L1737.8,410.7 L1738.2,410.3 L1738.6,409.8 L1738.9,409.3 L1739.3,408.9 L1739.7,408.4 L1740.1,408.0 L1740.4,407.5 L1740.8,407.1 L1741.2,406.7 L1741.6,406.2 L1742.0,405.8 L1742.4,405.4 L1742.8,405.0 L1743.2,404.5 L1743.6,404.1 L1744.0,403.7 L1744.5,403.3 L1744.9,402.9 L1745.3,402.5 L1745.7,402.1 L1746.2,401.7 L1746.6,401.3 L1747.0,400.9 L1747.5,400.6 L1747.9,400.2 L1748.4,399.8 L1748.8,399.4 L1749.3,399.1 L1749.8,398.7 L1750.2,398.3 L1750.7,398.0 L1751.1,397.6 L1751.6,397.3 L1752.1,397.0 L1752.6,396.6 L1753.1,396.3 L1753.5,396.0 L1754.0,395.6 L1754.5,395.3 L1755.0,395.0 L1755.5,394.7 L1756.0,394.4 L1756.5,394.1 L1757.0,393.8 L1757.5,393.5 L1758.0,393.2 L1758.5,392.9 L1759.0,392.6 L1759.5,392.3 L1760.1,392.1 L1760.6,391.8 L1761.1,391.5 L1761.6,391.3 L1762.2,391.0 L1762.7,390.8 L1763.2,390.5 L1763.7,390.3 L1764.3,390.1 L1764.8,389.8 L1765.4,389.6 L1765.9,389.4 L1766.4,389.2 L1767.0,389.0 L1767.5,388.7 L1768.1,388.5 L1768.6,388.3 L1769.2,388.2 L1769.7,388.0 L1770.3,387.8 L1770.9,387.6 L1771.4,387.4 L1772.0,387.3 L1772.5,387.1 L1773.1,386.9 L1773.7,386.8 L1774.2,386.6 L1774.8,386.5 L1775.4,386.4 L1775.9,386.2 L1776.5,386.1 L1777.1,386.0 L1777.6,385.8 L1778.2,385.7 L1778.8,385.6 L1779.4,385.5 L1779.9,385.4 L1780.5,385.3 L1781.1,385.2 L1781.7,385.2 L1782.3,385.1 L1782.8,385.0 L1783.4,384.9 L1784.0,384.9 L1784.6,384.8 L1785.2,384.8 L1785.7,384.7 L1786.3,384.7 L1786.9,384.6 L1787.5,384.6 L1788.1,384.6 L1788.7,384.5 L1789.2,384.5 L1789.8,384.5 L1790.4,384.5Z" fill="none" stroke="#4a4a4a" stroke-width="1.3" opacity="0.8"/>
<path d="M1555.3,540.5 H2027.2 M1555.3,560.5 H2027.2" stroke="#333" stroke-width="1.8" opacity="0.8"/>
</g>
<path d="M1555.3,301.7 H2027.2 V640.5 H1555.3 Z" fill="none" stroke="#d4d4d4" stroke-width="3.2"/>
<path d="M1555.3,335 H2027.2" stroke="#c4c4c4" stroke-width="2.6"/>
<defs>
<clipPath id="clip2"><rect x="1558.1" y="641" width="470.4000000000001" height="341"/></clipPath>
<linearGradient id="wg2" gradientUnits="userSpaceOnUse" x1="1558.1" y1="0" x2="2028.5" y2="0"><stop offset="-0.0002" stop-color="#ff1414"/><stop offset="0.0997" stop-color="#ff0d0d"/><stop offset="0.1741" stop-color="#ff4d4d"/><stop offset="0.2273" stop-color="#ffa6a6"/><stop offset="0.2804" stop-color="#ffffff"/><stop offset="0.3335" stop-color="#b2b2ff"/><stop offset="0.4080" stop-color="#4040ff"/><stop offset="0.5142" stop-color="#1414ff"/><stop offset="0.5993" stop-color="#2626ff"/><stop offset="0.6843" stop-color="#8080ff"/><stop offset="0.7375" stop-color="#ccccff"/><stop offset="0.7736" stop-color="#ffffff"/><stop offset="0.8225" stop-color="#ffb2b2"/><stop offset="0.9075" stop-color="#ff4d4d"/><stop offset="0.9713" stop-color="#ff1919"/><stop offset="0.9989" stop-color="#ff1414"/></linearGradient>
</defs>
<g clip-path="url(#clip2)">
<g filter="url(#glow)" opacity="0.8">
<path d="M1792.7,717.5 L1792.7,700.5 L1803.5,701.1 L1801.6,718.0Z" fill="#2121ff"/><path d="M1800.7,717.9 L1802.5,701.0 L1813.2,702.8 L1809.5,719.4Z" fill="#2626ff"/><path d="M1808.7,719.2 L1812.2,702.6 L1822.7,705.4 L1817.3,721.5Z" fill="#2b2bff"/><path d="M1816.5,721.3 L1821.7,705.1 L1831.8,709.0 L1824.8,724.5Z" fill="#3030ff"/><path d="M1824.0,724.2 L1830.9,708.6 L1840.5,713.6 L1831.9,728.2Z" fill="#3636ff"/><path d="M1831.2,727.8 L1839.7,713.1 L1848.7,719.0 L1838.6,732.7Z" fill="#3f3fff"/><path d="M1838.0,732.2 L1848.0,718.5 L1856.3,725.3 L1844.8,737.8Z" fill="#4d4dff"/><path d="M1844.2,737.3 L1855.6,724.6 L1863.2,732.3 L1850.5,743.6Z" fill="#5b5bff"/><path d="M1849.9,743.0 L1862.6,731.6 L1869.3,740.0 L1855.5,749.9Z" fill="#6969ff"/><path d="M1855.0,749.2 L1868.7,739.2 L1874.6,748.4 L1859.8,756.7Z" fill="#7a7aff"/><path d="M1859.4,756.0 L1874.1,747.5 L1879.0,757.2 L1863.4,763.9Z" fill="#8a8aff"/><path d="M1863.0,763.2 L1878.6,756.3 L1882.4,766.4 L1866.2,771.5Z" fill="#9b9bff"/><path d="M1865.9,770.7 L1882.1,765.5 L1884.8,775.9 L1868.2,779.3Z" fill="#b3b3ff"/><path d="M1868.0,778.5 L1884.6,775.0 L1886.3,785.7 L1869.4,787.3Z" fill="#cdcdff"/><path d="M1869.3,786.5 L1886.2,784.7 L1886.7,795.5 L1869.7,795.3Z" fill="#e6e6ff"/><path d="M1869.7,794.5 L1886.7,794.5 L1886.1,805.3 L1869.2,803.4Z" fill="#fffefe"/><path d="M1869.3,802.5 L1886.2,804.3 L1884.4,815.0 L1867.8,811.3Z" fill="#ffe5e5"/><path d="M1868.0,810.5 L1884.6,814.0 L1881.8,824.5 L1865.7,819.1Z" fill="#ffc4c4"/><path d="M1865.9,818.3 L1882.1,823.5 L1878.2,833.6 L1862.7,826.6Z" fill="#ffa3a3"/><path d="M1863.0,825.8 L1878.6,832.7 L1873.6,842.3 L1859.0,833.7Z" fill="#ff8282"/><path d="M1859.4,833.0 L1874.1,841.5 L1868.2,850.5 L1854.5,840.4Z" fill="#ff6363"/><path d="M1855.0,839.8 L1883.0,860.1 L1874.8,870.0 L1849.4,846.6Z" fill="#ff4545"/><path d="M1849.9,846.0 L1877.3,870.7 L1868.0,879.9 L1843.6,852.3Z" fill="#ff2626"/><path d="M1844.2,851.7 L1865.6,875.5 L1855.8,883.3 L1837.3,857.3Z" fill="#ff2626"/><path d="M1838.0,856.8 L1848.0,870.5 L1838.8,876.4 L1830.5,861.6Z" fill="#ff2626"/><path d="M1831.2,861.2 L1839.7,875.9 L1830.0,880.8 L1823.3,865.2Z" fill="#ff2626"/><path d="M1824.0,864.8 L1830.9,880.4 L1820.8,884.2 L1815.7,868.0Z" fill="#ff2626"/><path d="M1816.5,867.7 L1821.7,883.9 L1811.3,886.6 L1807.9,870.0Z" fill="#ff2828"/><path d="M1808.7,869.8 L1812.2,886.4 L1801.5,888.1 L1799.9,871.2Z" fill="#ff2a2a"/><path d="M1800.7,871.1 L1802.5,888.0 L1791.7,888.5 L1791.9,871.5Z" fill="#ff2d2d"/><path d="M1792.7,871.5 L1792.7,888.5 L1781.9,887.9 L1783.8,871.0Z" fill="#ff3232"/><path d="M1784.7,871.1 L1782.9,888.0 L1772.2,886.2 L1775.9,869.6Z" fill="#ff3b3b"/><path d="M1776.7,869.8 L1773.2,886.4 L1762.7,883.6 L1768.1,867.5Z" fill="#ff4343"/><path d="M1768.9,867.7 L1763.7,883.9 L1753.6,880.0 L1760.6,864.5Z" fill="#ff4c4c"/><path d="M1761.4,864.8 L1754.5,880.4 L1744.9,875.4 L1753.5,860.8Z" fill="#ff5656"/><path d="M1754.2,861.2 L1745.7,875.9 L1736.7,870.0 L1746.8,856.3Z" fill="#ff6464"/><path d="M1747.4,856.8 L1737.4,870.5 L1729.1,863.7 L1740.6,851.2Z" fill="#ff7272"/><path d="M1741.2,851.7 L1729.8,864.4 L1722.2,856.7 L1734.9,845.4Z" fill="#ff8080"/><path d="M1735.5,846.0 L1722.8,857.4 L1716.1,849.0 L1729.9,839.1Z" fill="#ff8f8f"/><path d="M1730.4,839.8 L1716.7,849.8 L1710.8,840.6 L1725.6,832.3Z" fill="#ff9e9e"/><path d="M1726.0,833.0 L1711.3,841.5 L1706.4,831.8 L1722.0,825.1Z" fill="#ffadad"/><path d="M1722.4,825.8 L1706.8,832.7 L1703.0,822.6 L1719.2,817.5Z" fill="#ffc3c3"/><path d="M1719.5,818.3 L1703.3,823.5 L1700.6,813.1 L1717.2,809.7Z" fill="#ffdddd"/><path d="M1717.4,810.5 L1700.8,814.0 L1699.1,803.3 L1716.0,801.7Z" fill="#fff7f7"/><path d="M1716.1,802.5 L1699.2,804.3 L1698.7,793.5 L1715.7,793.7Z" fill="#e8e8ff"/><path d="M1715.7,794.5 L1698.7,794.5 L1699.3,783.7 L1716.2,785.6Z" fill="#c9c9ff"/><path d="M1716.1,786.5 L1699.2,784.7 L1701.0,774.0 L1717.6,777.7Z" fill="#adadff"/><path d="M1717.4,778.5 L1700.8,775.0 L1703.6,764.5 L1719.7,769.9Z" fill="#9393ff"/><path d="M1719.5,770.7 L1703.3,765.5 L1707.2,755.4 L1722.7,762.4Z" fill="#7878ff"/><path d="M1722.4,763.2 L1706.8,756.3 L1711.8,746.7 L1726.4,755.3Z" fill="#5d5dff"/><path d="M1726.0,756.0 L1711.3,747.5 L1717.2,738.5 L1730.9,748.6Z" fill="#4242ff"/><path d="M1730.4,749.2 L1704.5,730.5 L1712.5,720.7 L1736.0,742.4Z" fill="#2828ff"/><path d="M1735.5,743.0 L1708.1,718.3 L1717.4,709.1 L1741.8,736.7Z" fill="#0d0dff"/><path d="M1741.2,737.3 L1718.0,711.6 L1728.1,703.6 L1748.1,731.7Z" fill="#1010ff"/><path d="M1747.4,732.2 L1737.4,718.5 L1746.6,712.6 L1754.9,727.4Z" fill="#1313ff"/><path d="M1754.2,727.8 L1745.7,713.1 L1755.4,708.2 L1762.1,723.8Z" fill="#1616ff"/><path d="M1761.4,724.2 L1754.5,708.6 L1764.6,704.8 L1769.7,721.0Z" fill="#1919ff"/><path d="M1768.9,721.3 L1763.7,705.1 L1774.1,702.4 L1777.5,719.0Z" fill="#1b1bff"/><path d="M1776.7,719.2 L1773.2,702.6 L1783.9,700.9 L1785.5,717.8Z" fill="#1c1cff"/><path d="M1784.7,717.9 L1782.9,701.0 L1793.7,700.5 L1793.5,717.5Z" fill="#1e1eff"/>
<rect x="1528.1" y="875" width="530.4000000000001" height="35.5" fill="url(#wg2)"/>
</g>
<g filter="url(#soft)">
<path d="M1792.7,727.5 L1792.7,720.8 L1796.0,720.9 L1795.7,727.6Z" fill="#5e5eff"/><path d="M1792.7,721.6 L1792.7,715.3 L1796.3,715.4 L1796.0,721.7Z" fill="#3a3aff"/><path d="M1792.7,716.1 L1792.7,708.5 L1796.6,708.6 L1796.3,716.2Z" fill="#1f1fff"/><path d="M1795.0,727.5 L1795.3,720.9 L1798.6,721.1 L1798.1,727.7Z" fill="#5f5fff"/><path d="M1795.2,721.7 L1795.5,715.4 L1799.1,715.6 L1798.5,721.9Z" fill="#3c3cff"/><path d="M1795.4,716.2 L1795.7,708.6 L1799.6,708.8 L1799.0,716.4Z" fill="#2121ff"/><path d="M1797.4,727.7 L1797.8,721.0 L1801.2,721.3 L1800.4,727.9Z" fill="#6060ff"/><path d="M1797.8,721.8 L1798.2,715.5 L1801.8,715.8 L1801.1,722.1Z" fill="#3d3dff"/><path d="M1798.2,716.3 L1798.7,708.7 L1802.6,709.1 L1801.7,716.6Z" fill="#2323ff"/><path d="M1799.7,727.9 L1800.4,721.2 L1803.7,721.7 L1802.7,728.3Z" fill="#6262ff"/><path d="M1800.3,722.0 L1801.0,715.8 L1804.5,716.2 L1803.6,722.4Z" fill="#3f3fff"/><path d="M1800.9,716.5 L1801.7,709.0 L1805.6,709.5 L1804.4,717.0Z" fill="#2525ff"/><path d="M1802.0,728.2 L1803.0,721.5 L1806.3,722.1 L1805.0,728.6Z" fill="#6363ff"/><path d="M1802.8,722.3 L1803.7,716.1 L1807.3,716.7 L1806.1,722.9Z" fill="#4040ff"/><path d="M1803.6,716.9 L1804.7,709.3 L1808.5,710.0 L1807.1,717.5Z" fill="#2626ff"/><path d="M1804.3,728.5 L1805.5,721.9 L1808.8,722.6 L1807.3,729.1Z" fill="#6464ff"/><path d="M1805.4,722.7 L1806.4,716.5 L1810.0,717.2 L1808.6,723.4Z" fill="#4242ff"/><path d="M1806.3,717.3 L1807.6,709.8 L1811.5,710.6 L1809.8,718.0Z" fill="#2828ff"/><path d="M1806.6,729.0 L1808.0,722.4 L1811.3,723.2 L1809.6,729.7Z" fill="#6565ff"/><path d="M1807.9,723.2 L1809.2,717.1 L1812.7,717.9 L1811.1,724.0Z" fill="#4343ff"/><path d="M1809.0,717.8 L1810.6,710.4 L1814.4,711.3 L1812.5,718.7Z" fill="#2a2aff"/><path d="M1808.9,729.5 L1810.5,723.0 L1813.7,723.9 L1811.8,730.3Z" fill="#6767ff"/><path d="M1810.3,723.8 L1811.9,717.7 L1815.3,718.6 L1813.5,724.7Z" fill="#4545ff"/><path d="M1811.7,718.4 L1813.5,711.1 L1817.3,712.1 L1815.1,719.4Z" fill="#2b2bff"/><path d="M1811.2,730.1 L1813.0,723.7 L1816.2,724.7 L1814.1,731.0Z" fill="#6868ff"/><path d="M1812.8,724.5 L1814.5,718.4 L1818.0,719.5 L1815.9,725.4Z" fill="#4646ff"/><path d="M1814.3,719.2 L1816.4,711.8 L1820.1,713.0 L1817.7,720.2Z" fill="#2d2dff"/><path d="M1813.4,730.8 L1815.5,724.4 L1818.6,725.5 L1816.3,731.8Z" fill="#6969ff"/><path d="M1815.2,725.2 L1817.2,719.2 L1820.6,720.4 L1818.3,726.3Z" fill="#4848ff"/><path d="M1816.9,720.0 L1819.3,712.7 L1823.0,714.0 L1820.3,721.1Z" fill="#2f2fff"/><path d="M1815.6,731.5 L1817.9,725.3 L1821.0,726.5 L1818.4,732.6Z" fill="#6a6aff"/><path d="M1817.6,726.0 L1819.8,720.1 L1823.1,721.4 L1820.7,727.2Z" fill="#4949ff"/><path d="M1819.5,720.8 L1822.1,713.7 L1825.7,715.1 L1822.8,722.1Z" fill="#3030ff"/><path d="M1817.8,732.4 L1820.3,726.2 L1823.4,727.5 L1820.6,733.6Z" fill="#6c6cff"/><path d="M1820.0,726.9 L1822.4,721.1 L1825.7,722.5 L1823.0,728.2Z" fill="#4b4bff"/><path d="M1822.1,721.8 L1824.9,714.8 L1828.5,716.3 L1825.3,723.2Z" fill="#3232ff"/><path d="M1820.0,733.3 L1822.7,727.2 L1825.7,728.6 L1822.7,734.6Z" fill="#6d6dff"/><path d="M1822.3,727.9 L1824.9,722.2 L1828.2,723.7 L1825.3,729.3Z" fill="#4c4cff"/><path d="M1824.6,722.9 L1827.7,715.9 L1831.2,717.6 L1827.8,724.4Z" fill="#3434ff"/><path d="M1822.1,734.3 L1825.0,728.3 L1828.0,729.8 L1824.8,735.7Z" fill="#6e6eff"/><path d="M1824.6,729.0 L1827.4,723.3 L1830.6,725.0 L1827.6,730.5Z" fill="#4e4eff"/><path d="M1827.1,724.1 L1830.4,717.2 L1833.9,719.0 L1830.2,725.7Z" fill="#3636ff"/><path d="M1824.2,735.3 L1827.3,729.5 L1830.2,731.1 L1826.8,736.8Z" fill="#6f6fff"/><path d="M1826.9,730.2 L1829.9,724.6 L1833.0,726.3 L1829.8,731.8Z" fill="#4f4fff"/><path d="M1829.5,725.3 L1833.1,718.6 L1836.5,720.5 L1832.6,727.0Z" fill="#3737ff"/><path d="M1826.2,736.5 L1829.5,730.7 L1832.4,732.4 L1828.8,738.1Z" fill="#7171ff"/><path d="M1829.1,731.4 L1832.3,725.9 L1835.4,727.8 L1832.0,733.1Z" fill="#5252ff"/><path d="M1831.9,726.6 L1835.7,720.0 L1839.0,722.0 L1834.9,728.5Z" fill="#3a3aff"/><path d="M1828.2,737.7 L1831.7,732.0 L1834.5,733.9 L1830.7,739.3Z" fill="#7575ff"/><path d="M1831.3,732.7 L1834.7,727.4 L1837.7,729.3 L1834.1,734.5Z" fill="#5656ff"/><path d="M1834.2,728.0 L1838.3,721.6 L1841.5,723.7 L1837.2,730.0Z" fill="#3f3fff"/><path d="M1830.2,739.0 L1833.9,733.4 L1836.6,735.4 L1832.6,740.7Z" fill="#7878ff"/><path d="M1833.4,734.1 L1837.0,728.9 L1839.9,730.9 L1836.1,736.0Z" fill="#5a5aff"/><path d="M1836.5,729.5 L1840.8,723.2 L1844.0,725.5 L1839.4,731.6Z" fill="#4444ff"/><path d="M1832.1,740.3 L1836.0,734.9 L1838.7,736.9 L1834.5,742.1Z" fill="#7b7bff"/><path d="M1835.5,735.5 L1839.2,730.4 L1842.1,732.6 L1838.2,737.6Z" fill="#5e5eff"/><path d="M1838.8,731.1 L1843.2,724.9 L1846.4,727.3 L1841.6,733.2Z" fill="#4848ff"/><path d="M1833.9,741.7 L1838.1,736.4 L1840.6,738.6 L1836.3,743.6Z" fill="#7f7fff"/><path d="M1837.6,737.1 L1841.4,732.1 L1844.2,734.4 L1840.1,739.2Z" fill="#6262ff"/><path d="M1841.0,732.7 L1845.6,726.7 L1848.7,729.2 L1843.7,735.0Z" fill="#4d4dff"/><path d="M1835.8,743.2 L1840.1,738.1 L1842.6,740.3 L1838.1,745.2Z" fill="#8282ff"/><path d="M1839.5,738.7 L1843.6,733.8 L1846.3,736.2 L1842.0,740.9Z" fill="#6666ff"/><path d="M1843.1,734.5 L1848.0,728.6 L1850.9,731.2 L1845.8,736.8Z" fill="#5151ff"/><path d="M1837.5,744.7 L1842.0,739.8 L1844.4,742.0 L1839.7,746.8Z" fill="#8585ff"/><path d="M1841.5,740.3 L1845.7,735.7 L1848.3,738.1 L1843.9,742.6Z" fill="#6a6aff"/><path d="M1845.1,736.3 L1850.2,730.6 L1853.1,733.3 L1847.7,738.7Z" fill="#5656ff"/><path d="M1834.4,751.3 L1840.6,744.9 L1842.8,747.1 L1836.3,753.3Z" fill="#8989ff"/><path d="M1840.1,745.5 L1845.9,739.5 L1848.3,741.9 L1842.2,747.7Z" fill="#6e6eff"/><path d="M1845.3,740.0 L1852.4,732.6 L1855.2,735.4 L1847.7,742.5Z" fill="#5b5bff"/><path d="M1835.9,752.8 L1842.3,746.6 L1844.4,748.9 L1837.7,754.8Z" fill="#8c8cff"/><path d="M1841.7,747.1 L1847.7,741.3 L1850.1,743.9 L1843.8,749.4Z" fill="#7272ff"/><path d="M1847.2,741.9 L1854.6,734.8 L1857.2,737.6 L1849.5,744.4Z" fill="#5f5fff"/><path d="M1837.3,754.4 L1844.0,748.3 L1846.0,750.7 L1839.1,756.4Z" fill="#8f8fff"/><path d="M1843.4,748.9 L1849.6,743.3 L1851.8,745.9 L1845.4,751.2Z" fill="#7676ff"/><path d="M1849.0,743.8 L1856.6,737.0 L1859.2,739.9 L1851.2,746.4Z" fill="#6464ff"/><path d="M1838.7,755.9 L1845.5,750.2 L1847.5,752.6 L1840.4,758.1Z" fill="#9393ff"/><path d="M1844.9,750.7 L1851.3,745.3 L1853.5,748.0 L1846.9,753.1Z" fill="#7b7bff"/><path d="M1850.7,745.8 L1858.6,739.2 L1861.0,742.3 L1852.9,748.5Z" fill="#6969ff"/><path d="M1840.0,757.6 L1847.1,752.0 L1848.9,754.5 L1841.6,759.7Z" fill="#9797ff"/><path d="M1846.4,752.5 L1853.0,747.4 L1855.1,750.2 L1848.3,755.0Z" fill="#8080ff"/><path d="M1852.4,747.9 L1860.5,741.6 L1862.8,744.7 L1854.4,750.6Z" fill="#6e6eff"/><path d="M1841.2,759.2 L1848.5,754.0 L1850.3,756.5 L1842.8,761.5Z" fill="#9b9bff"/><path d="M1847.9,754.4 L1854.6,749.5 L1856.6,752.4 L1849.6,757.0Z" fill="#8585ff"/><path d="M1854.0,750.0 L1862.3,744.0 L1864.5,747.2 L1855.9,752.8Z" fill="#7474ff"/><path d="M1842.4,760.9 L1849.9,755.9 L1851.6,758.6 L1843.9,763.2Z" fill="#9f9fff"/><path d="M1849.2,756.4 L1856.1,751.7 L1858.0,754.6 L1850.9,759.0Z" fill="#8a8aff"/><path d="M1855.5,752.2 L1864.0,746.4 L1866.1,749.7 L1857.3,755.0Z" fill="#7a7aff"/><path d="M1843.6,762.7 L1851.2,757.9 L1852.8,760.6 L1845.0,765.0Z" fill="#a3a3ff"/><path d="M1850.5,758.4 L1857.6,754.0 L1859.4,756.9 L1852.1,761.0Z" fill="#8f8fff"/><path d="M1856.9,754.4 L1865.6,748.9 L1867.6,752.3 L1858.7,757.3Z" fill="#7f7fff"/><path d="M1844.7,764.5 L1852.4,760.0 L1853.9,762.8 L1846.0,766.9Z" fill="#a7a7ff"/><path d="M1851.7,760.4 L1859.0,756.2 L1860.6,759.3 L1853.2,763.1Z" fill="#9494ff"/><path d="M1858.3,756.6 L1867.2,751.5 L1869.1,754.9 L1859.9,759.7Z" fill="#8585ff"/><path d="M1845.7,766.3 L1853.6,762.1 L1855.0,764.9 L1846.9,768.8Z" fill="#ababff"/><path d="M1852.9,762.5 L1860.3,758.6 L1861.8,761.7 L1854.3,765.3Z" fill="#9898ff"/><path d="M1859.6,759.0 L1868.6,754.1 L1870.4,757.6 L1861.1,762.0Z" fill="#8a8aff"/><path d="M1852.9,765.1 L1858.9,762.2 L1860.3,765.2 L1854.2,767.9Z" fill="#afafff"/><path d="M1858.2,762.6 L1863.9,759.8 L1865.4,763.1 L1859.6,765.6Z" fill="#9d9dff"/><path d="M1863.1,760.1 L1870.0,756.8 L1871.6,760.3 L1864.6,763.4Z" fill="#9090ff"/><path d="M1853.9,767.2 L1860.0,764.5 L1861.3,767.6 L1855.1,770.1Z" fill="#b3b3ff"/><path d="M1859.3,764.9 L1865.0,762.3 L1866.4,765.6 L1860.5,767.9Z" fill="#a2a2ff"/><path d="M1864.3,762.6 L1871.3,759.5 L1872.8,763.1 L1865.7,765.9Z" fill="#9696ff"/><path d="M1854.8,769.4 L1861.0,766.9 L1862.2,770.0 L1855.9,772.2Z" fill="#b7b7ff"/><path d="M1860.3,767.2 L1866.1,764.8 L1867.4,768.2 L1861.4,770.3Z" fill="#a7a7ff"/><path d="M1865.4,765.1 L1872.4,762.3 L1873.8,765.9 L1866.6,768.5Z" fill="#9b9bff"/><path d="M1855.7,771.6 L1861.9,769.3 L1863.0,772.5 L1856.6,774.5Z" fill="#bcbcff"/><path d="M1861.2,769.6 L1867.1,767.4 L1868.3,770.8 L1862.2,772.7Z" fill="#adadff"/><path d="M1866.4,767.7 L1873.5,765.1 L1874.8,768.8 L1867.5,771.1Z" fill="#a2a2ff"/><path d="M1856.4,773.8 L1862.8,771.7 L1863.7,774.9 L1857.3,776.7Z" fill="#c2c2ff"/><path d="M1862.0,772.0 L1868.0,770.0 L1869.0,773.5 L1863.0,775.1Z" fill="#b5b5ff"/><path d="M1867.2,770.3 L1874.5,767.9 L1875.6,771.7 L1868.3,773.7Z" fill="#ababff"/><path d="M1857.1,776.0 L1863.5,774.2 L1864.4,777.4 L1857.9,779.0Z" fill="#c9c9ff"/><path d="M1862.7,774.4 L1868.8,772.7 L1869.7,776.2 L1863.6,777.6Z" fill="#bcbcff"/><path d="M1868.0,772.9 L1875.4,770.8 L1876.4,774.6 L1868.9,776.3Z" fill="#b3b3ff"/><path d="M1857.7,778.3 L1864.2,776.7 L1864.9,779.9 L1858.4,781.3Z" fill="#cfcfff"/><path d="M1863.4,776.9 L1869.5,775.3 L1870.3,778.8 L1864.1,780.1Z" fill="#c4c4ff"/><path d="M1868.8,775.5 L1876.1,773.7 L1877.0,777.5 L1869.5,779.0Z" fill="#bcbcff"/><path d="M1858.2,780.6 L1864.8,779.2 L1865.4,782.5 L1858.8,783.6Z" fill="#d5d5ff"/><path d="M1864.0,779.3 L1870.1,778.0 L1870.8,781.6 L1864.6,782.6Z" fill="#cbcbff"/><path d="M1869.4,778.2 L1876.8,776.6 L1877.5,780.5 L1870.0,781.7Z" fill="#c4c4ff"/><path d="M1858.7,782.9 L1865.3,781.7 L1865.8,785.0 L1859.1,785.9Z" fill="#dbdbff"/><path d="M1864.5,781.8 L1870.7,780.8 L1871.2,784.3 L1865.0,785.1Z" fill="#d3d3ff"/><path d="M1869.9,780.9 L1877.4,779.6 L1878.0,783.4 L1870.4,784.4Z" fill="#cdcdff"/><path d="M1859.0,785.2 L1865.7,784.2 L1866.0,787.6 L1859.4,788.2Z" fill="#e1e1ff"/><path d="M1864.9,784.4 L1871.1,783.5 L1871.5,787.0 L1865.2,787.6Z" fill="#dadaff"/><path d="M1870.3,783.6 L1877.9,782.5 L1878.3,786.4 L1870.7,787.1Z" fill="#d5d5ff"/><path d="M1859.3,787.5 L1866.0,786.8 L1866.2,790.1 L1859.6,790.5Z" fill="#e7e7ff"/><path d="M1865.2,786.9 L1871.4,786.2 L1871.7,789.8 L1865.4,790.2Z" fill="#e2e2ff"/><path d="M1870.7,786.3 L1878.2,785.5 L1878.5,789.4 L1870.9,789.9Z" fill="#dedeff"/><path d="M1859.5,789.8 L1866.2,789.4 L1866.3,792.7 L1859.7,792.9Z" fill="#ededff"/><path d="M1865.4,789.4 L1871.7,789.0 L1871.9,792.6 L1865.5,792.7Z" fill="#e9e9ff"/><path d="M1870.9,789.0 L1878.5,788.5 L1878.7,792.4 L1871.1,792.6Z" fill="#e6e6ff"/><path d="M1859.7,792.2 L1866.3,791.9 L1866.4,795.3 L1859.7,795.2Z" fill="#f3f3ff"/><path d="M1865.5,792.0 L1871.8,791.7 L1871.9,795.3 L1865.6,795.3Z" fill="#f1f1ff"/><path d="M1871.0,791.8 L1878.6,791.5 L1878.7,795.4 L1871.1,795.3Z" fill="#efefff"/><path d="M1859.7,794.5 L1866.4,794.5 L1866.3,797.8 L1859.6,797.5Z" fill="#f9f9ff"/><path d="M1865.6,794.5 L1871.9,794.5 L1871.8,798.1 L1865.5,797.8Z" fill="#f8f8ff"/><path d="M1871.1,794.5 L1878.7,794.5 L1878.6,798.4 L1871.0,798.1Z" fill="#f7f7ff"/><path d="M1859.7,796.8 L1866.3,797.1 L1866.1,800.4 L1859.5,799.9Z" fill="#fffefe"/><path d="M1865.5,797.0 L1871.8,797.3 L1871.6,800.9 L1865.3,800.3Z" fill="#fffefe"/><path d="M1871.0,797.2 L1878.6,797.5 L1878.4,801.4 L1870.8,800.8Z" fill="#fffefe"/><path d="M1859.5,799.2 L1866.2,799.6 L1865.9,803.0 L1859.3,802.2Z" fill="#fff8f8"/><path d="M1865.4,799.6 L1871.7,800.0 L1871.4,803.6 L1865.1,802.9Z" fill="#fff7f7"/><path d="M1870.9,800.0 L1878.5,800.5 L1878.1,804.4 L1870.6,803.5Z" fill="#fff6f6"/><path d="M1859.3,801.5 L1866.0,802.2 L1865.5,805.5 L1858.9,804.5Z" fill="#fff2f2"/><path d="M1865.2,802.1 L1871.4,802.8 L1871.0,806.3 L1864.8,805.4Z" fill="#ffefef"/><path d="M1870.7,802.7 L1878.2,803.5 L1877.7,807.4 L1870.2,806.2Z" fill="#ffeded"/><path d="M1859.0,803.8 L1865.7,804.8 L1865.1,808.1 L1858.6,806.8Z" fill="#ffecec"/><path d="M1864.9,804.6 L1871.1,805.5 L1870.5,809.1 L1864.3,807.9Z" fill="#ffe8e8"/><path d="M1870.3,805.4 L1877.9,806.5 L1877.2,810.3 L1869.7,808.9Z" fill="#ffe5e5"/><path d="M1858.7,806.1 L1865.3,807.3 L1864.6,810.6 L1858.1,809.1Z" fill="#ffe5e5"/><path d="M1864.5,807.2 L1870.7,808.2 L1870.0,811.8 L1863.8,810.4Z" fill="#ffdfdf"/><path d="M1869.9,808.1 L1877.4,809.4 L1876.6,813.3 L1869.2,811.6Z" fill="#ffdbdb"/><path d="M1858.2,808.4 L1864.8,809.8 L1864.0,813.1 L1857.5,811.4Z" fill="#ffdddd"/><path d="M1864.0,809.7 L1870.1,811.0 L1869.3,814.5 L1863.2,812.9Z" fill="#ffd5d5"/><path d="M1869.4,810.8 L1876.8,812.4 L1875.9,816.2 L1868.5,814.3Z" fill="#ffd0d0"/><path d="M1857.7,810.7 L1864.2,812.3 L1863.3,815.5 L1856.9,813.6Z" fill="#ffd5d5"/><path d="M1863.4,812.1 L1869.5,813.7 L1868.6,817.1 L1862.5,815.3Z" fill="#ffcbcb"/><path d="M1868.8,813.5 L1876.1,815.3 L1875.1,819.1 L1867.8,816.9Z" fill="#ffc4c4"/><path d="M1857.1,813.0 L1863.5,814.8 L1862.5,818.0 L1856.2,815.9Z" fill="#ffcdcd"/><path d="M1862.7,814.6 L1868.8,816.3 L1867.7,819.8 L1861.8,817.7Z" fill="#ffc2c2"/><path d="M1868.0,816.1 L1875.4,818.2 L1874.2,821.9 L1867.0,819.5Z" fill="#ffb9b9"/><path d="M1856.4,815.2 L1862.8,817.3 L1861.7,820.4 L1855.4,818.1Z" fill="#ffc5c5"/><path d="M1862.0,817.0 L1868.0,819.0 L1866.8,822.4 L1860.9,820.1Z" fill="#ffb8b8"/><path d="M1867.2,818.7 L1874.5,821.1 L1873.2,824.8 L1866.1,822.1Z" fill="#ffaeae"/><path d="M1855.7,817.4 L1861.9,819.7 L1860.7,822.8 L1854.6,820.2Z" fill="#ffbdbd"/><path d="M1861.2,819.4 L1867.1,821.6 L1865.8,824.9 L1860.0,822.5Z" fill="#ffaeae"/><path d="M1866.4,821.3 L1873.5,823.9 L1872.1,827.5 L1865.1,824.6Z" fill="#ffa3a3"/><path d="M1854.8,819.6 L1861.0,822.1 L1859.7,825.2 L1853.6,822.4Z" fill="#ffb4b4"/><path d="M1860.3,821.8 L1866.1,824.2 L1864.7,827.5 L1859.0,824.8Z" fill="#ffa4a4"/><path d="M1865.4,823.9 L1872.4,826.7 L1870.9,830.3 L1864.0,827.1Z" fill="#ff9797"/><path d="M1853.9,821.8 L1860.0,824.5 L1858.6,827.5 L1852.6,824.5Z" fill="#ffacac"/><path d="M1859.3,824.1 L1865.0,826.7 L1863.5,830.0 L1857.9,827.1Z" fill="#ff9a9a"/><path d="M1864.3,826.4 L1871.3,829.5 L1869.6,833.0 L1862.8,829.6Z" fill="#ff8c8c"/><path d="M1852.9,823.9 L1858.9,826.8 L1857.4,829.8 L1851.5,826.6Z" fill="#ffa5a5"/><path d="M1858.2,826.4 L1863.9,829.2 L1862.2,832.4 L1856.7,829.4Z" fill="#ff9191"/><path d="M1863.1,828.9 L1870.0,832.2 L1868.2,835.7 L1861.5,832.0Z" fill="#ff8282"/><path d="M1851.9,826.0 L1857.7,829.1 L1856.1,832.0 L1850.4,828.6Z" fill="#ff9e9e"/><path d="M1857.0,828.7 L1862.6,831.7 L1860.9,834.8 L1855.4,831.6Z" fill="#ff8888"/><path d="M1861.9,831.3 L1868.6,834.9 L1866.7,838.3 L1860.2,834.4Z" fill="#ff7878"/><path d="M1850.7,828.0 L1856.5,831.3 L1854.8,834.2 L1849.1,830.6Z" fill="#ff9696"/><path d="M1855.8,830.9 L1861.3,834.1 L1859.4,837.2 L1854.1,833.8Z" fill="#ff7f7f"/><path d="M1860.6,833.7 L1867.2,837.5 L1865.2,840.8 L1858.7,836.7Z" fill="#ff6e6e"/><path d="M1849.5,830.0 L1855.2,833.5 L1853.3,836.3 L1847.9,832.5Z" fill="#ff8f8f"/><path d="M1854.5,833.1 L1859.8,836.5 L1857.9,839.5 L1852.7,835.9Z" fill="#ff7676"/><path d="M1859.2,836.0 L1865.6,840.1 L1863.5,843.3 L1857.2,839.0Z" fill="#ff6363"/><path d="M1848.2,832.0 L1853.8,835.7 L1851.8,838.4 L1846.5,834.4Z" fill="#ff8888"/><path d="M1853.1,835.2 L1858.3,838.8 L1856.3,841.7 L1851.2,837.9Z" fill="#ff6d6d"/><path d="M1857.7,838.3 L1864.0,842.6 L1861.7,845.8 L1855.6,841.2Z" fill="#ff5959"/><path d="M1846.9,833.9 L1855.7,840.3 L1853.6,843.1 L1845.1,836.3Z" fill="#ff8080"/><path d="M1855.1,839.8 L1863.2,845.7 L1860.8,848.9 L1853.0,842.6Z" fill="#ff6464"/><path d="M1862.6,845.3 L1872.7,852.6 L1870.0,856.2 L1860.2,848.4Z" fill="#ff4f4f"/><path d="M1845.5,835.7 L1855.0,843.1 L1852.7,845.9 L1843.6,838.1Z" fill="#ff7979"/><path d="M1854.3,842.7 L1863.0,849.4 L1860.4,852.6 L1852.1,845.4Z" fill="#ff5b5b"/><path d="M1862.4,848.9 L1873.2,857.4 L1870.3,861.0 L1859.8,852.0Z" fill="#ff4545"/><path d="M1844.0,837.6 L1853.7,845.7 L1851.3,848.4 L1842.0,839.9Z" fill="#ff7272"/><path d="M1853.1,845.2 L1861.9,852.6 L1859.2,855.7 L1850.7,847.9Z" fill="#ff5252"/><path d="M1861.3,852.1 L1872.4,861.4 L1869.3,864.9 L1858.6,855.1Z" fill="#ff3b3b"/><path d="M1842.5,839.3 L1852.1,848.0 L1849.6,850.6 L1840.4,841.5Z" fill="#ff6a6a"/><path d="M1851.5,847.4 L1860.2,855.3 L1857.4,858.3 L1849.0,850.0Z" fill="#ff4949"/><path d="M1859.7,854.8 L1870.7,864.7 L1867.4,868.2 L1856.9,857.8Z" fill="#ff3030"/><path d="M1840.9,841.0 L1850.2,850.0 L1847.6,852.6 L1838.7,843.2Z" fill="#ff6363"/><path d="M1849.6,849.5 L1858.1,857.6 L1855.2,860.5 L1847.1,852.0Z" fill="#ff4040"/><path d="M1857.5,857.1 L1868.2,867.4 L1864.8,870.7 L1854.6,860.0Z" fill="#ff2626"/><path d="M1839.2,842.7 L1848.0,851.8 L1845.4,854.2 L1837.0,844.8Z" fill="#ff6363"/><path d="M1847.5,851.2 L1855.5,859.5 L1852.5,862.3 L1844.8,853.6Z" fill="#ff4040"/><path d="M1854.9,858.9 L1865.0,869.3 L1861.5,872.5 L1851.9,861.7Z" fill="#ff2626"/><path d="M1837.5,844.3 L1845.6,853.2 L1842.9,855.6 L1835.2,846.3Z" fill="#ff6363"/><path d="M1845.0,852.6 L1852.4,860.8 L1849.3,863.4 L1842.3,854.9Z" fill="#ff4040"/><path d="M1851.9,860.2 L1861.1,870.4 L1857.6,873.5 L1848.8,862.8Z" fill="#ff2626"/><path d="M1835.8,845.8 L1842.8,854.2 L1840.0,856.4 L1833.4,847.7Z" fill="#ff6363"/><path d="M1842.3,853.6 L1848.7,861.3 L1845.6,863.7 L1839.5,855.8Z" fill="#ff4040"/><path d="M1848.2,860.7 L1856.3,870.2 L1852.7,873.0 L1845.2,863.1Z" fill="#ff2626"/><path d="M1833.9,847.3 L1838.1,852.6 L1835.4,854.6 L1831.5,849.1Z" fill="#ff6363"/><path d="M1837.6,851.9 L1841.4,856.9 L1838.6,859.0 L1834.9,853.9Z" fill="#ff4040"/><path d="M1841.0,856.3 L1845.6,862.3 L1842.5,864.6 L1838.1,858.4Z" fill="#ff2626"/><path d="M1832.1,848.7 L1836.0,854.1 L1833.3,856.0 L1829.6,850.4Z" fill="#ff6363"/><path d="M1835.5,853.5 L1839.2,858.6 L1836.3,860.6 L1832.8,855.3Z" fill="#ff4040"/><path d="M1838.8,857.9 L1843.2,864.1 L1840.0,866.3 L1835.8,859.9Z" fill="#ff2626"/><path d="M1830.2,850.0 L1833.9,855.6 L1831.1,857.4 L1827.6,851.7Z" fill="#ff6363"/><path d="M1833.4,854.9 L1837.0,860.1 L1834.0,862.1 L1830.7,856.7Z" fill="#ff4040"/><path d="M1836.5,859.5 L1840.8,865.8 L1837.5,867.9 L1833.5,861.4Z" fill="#ff2626"/><path d="M1828.2,851.3 L1831.7,857.0 L1828.9,858.7 L1825.6,852.9Z" fill="#ff6363"/><path d="M1831.3,856.3 L1834.7,861.6 L1831.6,863.5 L1828.5,858.0Z" fill="#ff4040"/><path d="M1834.2,861.0 L1838.3,867.4 L1834.9,869.4 L1831.2,862.8Z" fill="#ff2626"/><path d="M1826.2,852.5 L1829.5,858.3 L1826.6,859.9 L1823.5,854.0Z" fill="#ff6363"/><path d="M1829.1,857.6 L1832.3,863.1 L1829.1,864.8 L1826.2,859.2Z" fill="#ff4040"/><path d="M1831.9,862.4 L1835.7,869.0 L1832.3,870.9 L1828.8,864.1Z" fill="#ff2626"/><path d="M1824.2,853.7 L1827.3,859.5 L1824.3,861.0 L1821.4,855.0Z" fill="#ff6363"/><path d="M1826.9,858.8 L1829.9,864.4 L1826.7,866.0 L1824.0,860.3Z" fill="#ff4040"/><path d="M1829.5,863.7 L1833.1,870.4 L1829.6,872.2 L1826.3,865.3Z" fill="#ff2626"/><path d="M1822.1,854.7 L1825.0,860.7 L1822.0,862.1 L1819.3,856.0Z" fill="#ff6363"/><path d="M1824.6,860.0 L1827.4,865.7 L1824.1,867.2 L1821.6,861.4Z" fill="#ff4040"/><path d="M1827.1,864.9 L1830.4,871.8 L1826.9,873.4 L1823.8,866.4Z" fill="#ff2626"/><path d="M1820.0,855.7 L1822.7,861.8 L1819.6,863.1 L1817.1,856.9Z" fill="#ff6363"/><path d="M1822.3,861.1 L1824.9,866.8 L1821.6,868.2 L1819.3,862.3Z" fill="#ff4040"/><path d="M1824.6,866.1 L1827.7,873.1 L1824.1,874.6 L1821.3,867.5Z" fill="#ff2626"/><path d="M1817.8,856.6 L1820.3,862.8 L1817.2,864.0 L1815.0,857.7Z" fill="#ff6363"/><path d="M1820.0,862.1 L1822.4,867.9 L1819.0,869.2 L1816.9,863.2Z" fill="#ff4040"/><path d="M1822.1,867.2 L1824.9,874.2 L1821.3,875.6 L1818.7,868.4Z" fill="#ff2626"/><path d="M1815.6,857.5 L1817.9,863.7 L1814.7,864.8 L1812.7,858.4Z" fill="#ff6363"/><path d="M1817.6,863.0 L1819.8,868.9 L1816.4,870.1 L1814.5,864.0Z" fill="#ff4141"/><path d="M1819.5,868.2 L1822.1,875.3 L1818.4,876.6 L1816.1,869.3Z" fill="#ff2727"/><path d="M1813.4,858.2 L1815.5,864.6 L1812.3,865.5 L1810.5,859.1Z" fill="#ff6464"/><path d="M1815.2,863.8 L1817.2,869.8 L1813.7,870.8 L1812.1,864.8Z" fill="#ff4141"/><path d="M1816.9,869.0 L1819.3,876.3 L1815.5,877.4 L1813.5,870.1Z" fill="#ff2727"/><path d="M1811.2,858.9 L1813.0,865.3 L1809.8,866.2 L1808.2,859.7Z" fill="#ff6464"/><path d="M1812.8,864.5 L1814.5,870.6 L1811.0,871.5 L1809.6,865.4Z" fill="#ff4242"/><path d="M1814.3,869.8 L1816.4,877.2 L1812.6,878.2 L1810.9,870.7Z" fill="#ff2828"/><path d="M1808.9,859.5 L1810.5,866.0 L1807.3,866.7 L1805.9,860.2Z" fill="#ff6565"/><path d="M1810.3,865.2 L1811.9,871.3 L1808.4,872.1 L1807.1,865.9Z" fill="#ff4343"/><path d="M1811.7,870.6 L1813.5,877.9 L1809.7,878.8 L1808.2,871.3Z" fill="#ff2929"/><path d="M1806.6,860.0 L1808.0,866.6 L1804.7,867.2 L1803.6,860.6Z" fill="#ff6565"/><path d="M1807.9,865.8 L1809.2,871.9 L1805.6,872.6 L1804.6,866.4Z" fill="#ff4343"/><path d="M1809.0,871.2 L1810.6,878.6 L1806.7,879.3 L1805.5,871.8Z" fill="#ff2a2a"/><path d="M1804.3,860.5 L1805.5,867.1 L1802.2,867.6 L1801.3,860.9Z" fill="#ff6666"/><path d="M1805.4,866.3 L1806.4,872.5 L1802.9,873.0 L1802.1,866.8Z" fill="#ff4444"/><path d="M1806.3,871.7 L1807.6,879.2 L1803.8,879.8 L1802.8,872.2Z" fill="#ff2a2a"/><path d="M1802.0,860.8 L1803.0,867.5 L1799.6,867.8 L1799.0,861.2Z" fill="#ff6767"/><path d="M1802.8,866.7 L1803.7,872.9 L1800.2,873.3 L1799.6,867.0Z" fill="#ff4545"/><path d="M1803.6,872.1 L1804.7,879.7 L1800.8,880.1 L1800.1,872.5Z" fill="#ff2b2b"/><path d="M1799.7,861.1 L1800.4,867.8 L1797.1,868.0 L1796.7,861.4Z" fill="#ff6767"/><path d="M1800.3,867.0 L1801.0,873.2 L1797.4,873.5 L1797.0,867.2Z" fill="#ff4545"/><path d="M1800.9,872.5 L1801.7,880.0 L1797.8,880.3 L1797.3,872.7Z" fill="#ff2c2c"/><path d="M1797.4,861.3 L1797.8,868.0 L1794.5,868.1 L1794.3,861.5Z" fill="#ff6868"/><path d="M1797.8,867.2 L1798.2,873.5 L1794.6,873.7 L1794.5,867.3Z" fill="#ff4646"/><path d="M1798.2,872.7 L1798.7,880.3 L1794.8,880.5 L1794.6,872.9Z" fill="#ff2d2d"/><path d="M1795.0,861.5 L1795.3,868.1 L1791.9,868.2 L1792.0,861.5Z" fill="#ff6868"/><path d="M1795.2,867.3 L1795.5,873.6 L1791.9,873.7 L1791.9,867.4Z" fill="#ff4747"/><path d="M1795.4,872.8 L1795.7,880.4 L1791.8,880.5 L1791.9,872.9Z" fill="#ff2e2e"/><path d="M1792.7,861.5 L1792.7,868.2 L1789.4,868.1 L1789.7,861.4Z" fill="#ff6969"/><path d="M1792.7,867.4 L1792.7,873.7 L1789.1,873.6 L1789.4,867.3Z" fill="#ff4848"/><path d="M1792.7,872.9 L1792.7,880.5 L1788.8,880.4 L1789.1,872.8Z" fill="#ff2f2f"/><path d="M1790.4,861.5 L1790.1,868.1 L1786.8,867.9 L1787.3,861.3Z" fill="#ff6c6c"/><path d="M1790.2,867.3 L1789.9,873.6 L1786.3,873.4 L1786.9,867.1Z" fill="#ff4b4b"/><path d="M1790.0,872.8 L1789.7,880.4 L1785.8,880.2 L1786.4,872.6Z" fill="#ff3232"/><path d="M1788.0,861.3 L1787.6,868.0 L1784.2,867.7 L1785.0,861.1Z" fill="#ff6e6e"/><path d="M1787.6,867.2 L1787.2,873.5 L1783.6,873.2 L1784.3,866.9Z" fill="#ff4d4d"/><path d="M1787.2,872.7 L1786.7,880.3 L1782.8,879.9 L1783.7,872.4Z" fill="#ff3535"/><path d="M1785.7,861.1 L1785.0,867.8 L1781.7,867.3 L1782.7,860.7Z" fill="#ff7070"/><path d="M1785.1,867.0 L1784.4,873.2 L1780.9,872.8 L1781.8,866.6Z" fill="#ff5050"/><path d="M1784.5,872.5 L1783.7,880.0 L1779.8,879.5 L1781.0,872.0Z" fill="#ff3838"/><path d="M1783.4,860.8 L1782.4,867.5 L1779.1,866.9 L1780.4,860.4Z" fill="#ff7272"/><path d="M1782.6,866.7 L1781.7,872.9 L1778.1,872.3 L1779.3,866.1Z" fill="#ff5252"/><path d="M1781.8,872.1 L1780.7,879.7 L1776.9,879.0 L1778.3,871.5Z" fill="#ff3b3b"/><path d="M1781.1,860.5 L1779.9,867.1 L1776.6,866.4 L1778.1,859.9Z" fill="#ff7474"/><path d="M1780.0,866.3 L1779.0,872.5 L1775.4,871.8 L1776.8,865.6Z" fill="#ff5555"/><path d="M1779.1,871.7 L1777.8,879.2 L1773.9,878.4 L1775.6,871.0Z" fill="#ff3e3e"/><path d="M1778.8,860.0 L1777.4,866.6 L1774.1,865.8 L1775.8,859.3Z" fill="#ff7676"/><path d="M1777.5,865.8 L1776.2,871.9 L1772.7,871.1 L1774.3,865.0Z" fill="#ff5757"/><path d="M1776.4,871.2 L1774.8,878.6 L1771.0,877.7 L1772.9,870.3Z" fill="#ff4040"/><path d="M1776.5,859.5 L1774.9,866.0 L1771.7,865.1 L1773.6,858.7Z" fill="#ff7878"/><path d="M1775.1,865.2 L1773.5,871.3 L1770.1,870.4 L1771.9,864.3Z" fill="#ff5a5a"/><path d="M1773.7,870.6 L1771.9,877.9 L1768.1,876.9 L1770.3,869.6Z" fill="#ff4343"/><path d="M1774.2,858.9 L1772.4,865.3 L1769.2,864.3 L1771.3,858.0Z" fill="#ff7a7a"/><path d="M1772.6,864.5 L1770.9,870.6 L1767.4,869.5 L1769.5,863.6Z" fill="#ff5c5c"/><path d="M1771.1,869.8 L1769.0,877.2 L1765.3,876.0 L1767.7,868.8Z" fill="#ff4646"/><path d="M1772.0,858.2 L1769.9,864.6 L1766.8,863.5 L1769.1,857.2Z" fill="#ff7c7c"/><path d="M1770.2,863.8 L1768.2,869.8 L1764.8,868.6 L1767.1,862.7Z" fill="#ff5f5f"/><path d="M1768.5,869.0 L1766.1,876.3 L1762.4,875.0 L1765.1,867.9Z" fill="#ff4949"/><path d="M1769.8,857.5 L1767.5,863.7 L1764.4,862.5 L1767.0,856.4Z" fill="#ff7e7e"/><path d="M1767.8,863.0 L1765.6,868.9 L1762.3,867.6 L1764.7,861.8Z" fill="#ff6161"/><path d="M1765.9,868.2 L1763.3,875.3 L1759.7,873.9 L1762.6,866.9Z" fill="#ff4c4c"/><path d="M1767.6,856.6 L1765.1,862.8 L1762.0,861.5 L1764.8,855.4Z" fill="#ff8080"/><path d="M1765.4,862.1 L1763.0,867.9 L1759.7,866.5 L1762.4,860.8Z" fill="#ff6464"/><path d="M1763.3,867.2 L1760.5,874.2 L1756.9,872.7 L1760.1,865.8Z" fill="#ff4f4f"/><path d="M1765.4,855.7 L1762.7,861.8 L1759.7,860.4 L1762.7,854.4Z" fill="#ff8282"/><path d="M1763.1,861.1 L1760.5,866.8 L1757.2,865.3 L1760.1,859.7Z" fill="#ff6666"/><path d="M1760.8,866.1 L1757.7,873.1 L1754.2,871.4 L1757.6,864.6Z" fill="#ff5252"/><path d="M1763.3,854.7 L1760.4,860.7 L1757.4,859.2 L1760.6,853.3Z" fill="#ff8585"/><path d="M1760.8,860.0 L1758.0,865.7 L1754.8,864.0 L1757.8,858.5Z" fill="#ff6a6a"/><path d="M1758.3,864.9 L1755.0,871.8 L1751.5,870.0 L1755.2,863.3Z" fill="#ff5656"/><path d="M1761.2,853.7 L1758.1,859.5 L1755.2,857.9 L1758.6,852.2Z" fill="#ff8989"/><path d="M1758.5,858.8 L1755.5,864.4 L1752.4,862.7 L1755.6,857.2Z" fill="#ff6e6e"/><path d="M1755.9,863.7 L1752.3,870.4 L1748.9,868.5 L1752.8,862.0Z" fill="#ff5b5b"/><path d="M1759.2,852.5 L1755.9,858.3 L1753.0,856.6 L1756.6,850.9Z" fill="#ff8c8c"/><path d="M1756.3,857.6 L1753.1,863.1 L1750.0,861.2 L1753.4,855.9Z" fill="#ff7373"/><path d="M1753.5,862.4 L1749.7,869.0 L1746.4,867.0 L1750.5,860.5Z" fill="#ff5f5f"/><path d="M1757.2,851.3 L1753.7,857.0 L1750.9,855.1 L1754.7,849.7Z" fill="#ff8f8f"/><path d="M1754.1,856.3 L1750.7,861.6 L1747.7,859.7 L1751.3,854.5Z" fill="#ff7777"/><path d="M1751.2,861.0 L1747.1,867.4 L1743.9,865.3 L1748.2,859.0Z" fill="#ff6464"/><path d="M1755.2,850.0 L1751.5,855.6 L1748.8,853.6 L1752.8,848.3Z" fill="#ff9393"/><path d="M1752.0,854.9 L1748.4,860.1 L1745.5,858.1 L1749.3,853.0Z" fill="#ff7b7b"/><path d="M1748.9,859.5 L1744.6,865.8 L1741.4,863.5 L1746.0,857.4Z" fill="#ff6969"/><path d="M1753.3,848.7 L1749.4,854.1 L1746.7,852.1 L1750.9,846.9Z" fill="#ff9696"/><path d="M1749.9,853.5 L1746.2,858.6 L1743.3,856.4 L1747.2,851.4Z" fill="#ff7f7f"/><path d="M1746.6,857.9 L1742.2,864.1 L1739.0,861.7 L1743.8,855.8Z" fill="#ff6d6d"/><path d="M1751.5,847.3 L1747.3,852.6 L1744.8,850.4 L1749.1,845.4Z" fill="#ff9999"/><path d="M1747.8,851.9 L1744.0,856.9 L1741.2,854.6 L1745.3,849.8Z" fill="#ff8383"/><path d="M1744.4,856.3 L1739.8,862.3 L1736.7,859.8 L1741.7,854.0Z" fill="#ff7272"/><path d="M1749.6,845.8 L1745.3,850.9 L1742.8,848.7 L1747.3,843.8Z" fill="#ff9d9d"/><path d="M1745.9,850.3 L1741.8,855.2 L1739.1,852.8 L1743.4,848.1Z" fill="#ff8787"/><path d="M1742.3,854.5 L1737.4,860.4 L1734.5,857.8 L1739.6,852.2Z" fill="#ff7676"/><path d="M1747.9,844.3 L1743.4,849.2 L1741.0,847.0 L1745.7,842.2Z" fill="#ffa0a0"/><path d="M1743.9,848.7 L1739.7,853.3 L1737.1,850.9 L1741.5,846.4Z" fill="#ff8b8b"/><path d="M1740.3,852.7 L1735.2,858.4 L1732.3,855.7 L1737.7,850.3Z" fill="#ff7b7b"/><path d="M1746.2,842.7 L1741.5,847.5 L1739.2,845.1 L1744.0,840.5Z" fill="#ffa3a3"/><path d="M1742.1,846.9 L1737.7,851.5 L1735.2,848.9 L1739.8,844.6Z" fill="#ff8f8f"/><path d="M1738.3,850.9 L1733.0,856.4 L1730.2,853.6 L1735.8,848.4Z" fill="#ff8080"/><path d="M1744.5,841.0 L1739.7,845.7 L1737.4,843.2 L1742.4,838.8Z" fill="#ffa7a7"/><path d="M1740.3,845.1 L1735.7,849.5 L1733.3,846.9 L1738.0,842.7Z" fill="#ff9393"/><path d="M1736.3,848.9 L1730.8,854.2 L1728.2,851.4 L1733.9,846.3Z" fill="#ff8585"/><path d="M1742.9,839.3 L1738.0,843.8 L1735.8,841.3 L1740.9,837.0Z" fill="#ffabab"/><path d="M1738.5,843.3 L1733.9,847.5 L1731.5,844.8 L1736.4,840.8Z" fill="#ff9898"/><path d="M1734.5,846.9 L1728.8,852.0 L1726.2,849.1 L1732.1,844.3Z" fill="#ff8a8a"/><path d="M1746.7,833.1 L1739.9,838.8 L1737.9,836.4 L1745.0,830.9Z" fill="#ffaeae"/><path d="M1740.5,838.3 L1734.1,843.7 L1731.9,841.0 L1738.5,835.9Z" fill="#ff9c9c"/><path d="M1734.7,843.2 L1726.8,849.8 L1724.4,846.7 L1732.5,840.5Z" fill="#ff8f8f"/><path d="M1745.4,831.4 L1738.3,837.0 L1736.5,834.5 L1743.8,829.3Z" fill="#ffb2b2"/><path d="M1739.0,836.5 L1732.4,841.6 L1730.3,838.8 L1737.1,834.0Z" fill="#ffa1a1"/><path d="M1733.0,841.1 L1724.9,847.4 L1722.6,844.3 L1731.0,838.4Z" fill="#ff9494"/><path d="M1744.2,829.8 L1736.9,835.0 L1735.1,832.5 L1742.6,827.5Z" fill="#ffb6b6"/><path d="M1737.5,834.6 L1730.8,839.5 L1728.8,836.6 L1735.8,832.0Z" fill="#ffa5a5"/><path d="M1731.4,839.0 L1723.1,845.0 L1720.9,841.8 L1729.5,836.2Z" fill="#ff9999"/><path d="M1743.0,828.1 L1735.5,833.1 L1733.8,830.4 L1741.5,825.8Z" fill="#ffb9b9"/><path d="M1736.2,832.6 L1729.3,837.3 L1727.4,834.4 L1734.5,830.0Z" fill="#ffaaaa"/><path d="M1729.9,836.8 L1721.4,842.6 L1719.3,839.3 L1728.1,834.0Z" fill="#ff9e9e"/><path d="M1741.8,826.3 L1734.2,831.1 L1732.6,828.4 L1740.4,824.0Z" fill="#ffbdbd"/><path d="M1734.9,830.6 L1727.8,835.0 L1726.0,832.1 L1733.3,828.0Z" fill="#ffaeae"/><path d="M1728.5,834.6 L1719.8,840.1 L1717.8,836.7 L1726.7,831.7Z" fill="#ffa3a3"/><path d="M1740.7,824.5 L1733.0,829.0 L1731.5,826.2 L1739.4,822.1Z" fill="#ffc1c1"/><path d="M1733.7,828.6 L1726.4,832.8 L1724.8,829.7 L1732.2,825.9Z" fill="#ffb3b3"/><path d="M1727.1,832.4 L1718.2,837.5 L1716.3,834.1 L1725.5,829.3Z" fill="#ffa8a8"/><path d="M1739.7,822.7 L1731.8,826.9 L1730.4,824.1 L1738.5,820.2Z" fill="#ffc4c4"/><path d="M1732.5,826.5 L1725.1,830.4 L1723.6,827.3 L1731.1,823.7Z" fill="#ffb7b7"/><path d="M1725.8,830.0 L1716.8,834.9 L1715.0,831.4 L1724.3,827.0Z" fill="#ffadad"/><path d="M1738.8,820.8 L1730.7,824.7 L1729.4,821.9 L1737.6,818.3Z" fill="#ffc8c8"/><path d="M1731.4,824.4 L1723.9,828.0 L1722.5,824.9 L1730.1,821.6Z" fill="#ffbcbc"/><path d="M1724.6,827.7 L1715.4,832.2 L1713.8,828.7 L1723.2,824.6Z" fill="#ffb2b2"/><path d="M1737.9,818.9 L1729.7,822.6 L1728.5,819.7 L1736.8,816.4Z" fill="#ffcece"/><path d="M1730.4,822.2 L1722.8,825.6 L1721.5,822.4 L1729.2,819.4Z" fill="#ffc3c3"/><path d="M1723.5,825.3 L1714.1,829.5 L1712.6,825.9 L1722.2,822.1Z" fill="#ffbbbb"/><path d="M1737.1,817.0 L1728.7,820.3 L1727.6,817.4 L1736.1,814.4Z" fill="#ffd4d4"/><path d="M1729.5,820.0 L1721.8,823.2 L1720.5,819.9 L1728.4,817.1Z" fill="#ffcbcb"/><path d="M1722.5,822.9 L1713.0,826.7 L1711.6,823.1 L1721.3,819.7Z" fill="#ffc3c3"/><path d="M1729.7,817.4 L1723.5,819.7 L1722.4,816.5 L1728.8,814.5Z" fill="#ffdada"/><path d="M1724.2,819.4 L1718.3,821.6 L1717.1,818.2 L1723.2,816.3Z" fill="#ffd2d2"/><path d="M1719.0,821.3 L1711.9,823.9 L1710.6,820.2 L1717.9,817.9Z" fill="#ffcccc"/><path d="M1729.0,815.2 L1722.6,817.3 L1721.7,814.1 L1728.1,812.3Z" fill="#ffe0e0"/><path d="M1723.4,817.0 L1717.4,819.0 L1716.4,815.5 L1722.4,813.9Z" fill="#ffdada"/><path d="M1718.2,818.7 L1710.9,821.1 L1709.8,817.3 L1717.1,815.3Z" fill="#ffd4d4"/><path d="M1728.3,813.0 L1721.9,814.8 L1721.0,811.6 L1727.5,810.0Z" fill="#ffe7e7"/><path d="M1722.7,814.6 L1716.6,816.3 L1715.7,812.8 L1721.8,811.4Z" fill="#ffe1e1"/><path d="M1717.4,816.1 L1710.0,818.2 L1709.0,814.4 L1716.5,812.7Z" fill="#ffdddd"/><path d="M1727.7,810.7 L1721.2,812.3 L1720.5,809.1 L1727.0,807.7Z" fill="#ffeded"/><path d="M1722.0,812.1 L1715.9,813.7 L1715.1,810.2 L1721.3,808.9Z" fill="#ffe9e9"/><path d="M1716.6,813.5 L1709.3,815.3 L1708.4,811.5 L1715.9,810.0Z" fill="#ffe6e6"/><path d="M1727.2,808.4 L1720.6,809.8 L1720.0,806.5 L1726.6,805.4Z" fill="#fff3f3"/><path d="M1721.4,809.7 L1715.3,811.0 L1714.6,807.4 L1720.8,806.4Z" fill="#fff0f0"/><path d="M1716.0,810.8 L1708.6,812.4 L1707.9,808.5 L1715.4,807.3Z" fill="#ffeeee"/><path d="M1726.7,806.1 L1720.1,807.3 L1719.6,804.0 L1726.3,803.1Z" fill="#fff9f9"/><path d="M1720.9,807.2 L1714.7,808.2 L1714.2,804.7 L1720.4,803.9Z" fill="#fff8f8"/><path d="M1715.5,808.1 L1708.0,809.4 L1707.4,805.6 L1715.0,804.6Z" fill="#fff7f7"/><path d="M1726.4,803.8 L1719.7,804.8 L1719.4,801.4 L1726.0,800.8Z" fill="#fdfdff"/><path d="M1720.5,804.6 L1714.3,805.5 L1713.9,802.0 L1720.2,801.4Z" fill="#fdfdff"/><path d="M1715.1,805.4 L1707.5,806.5 L1707.1,802.6 L1714.7,801.9Z" fill="#fcfcff"/><path d="M1726.1,801.5 L1719.4,802.2 L1719.2,798.9 L1725.8,798.5Z" fill="#f6f6ff"/><path d="M1720.2,802.1 L1714.0,802.8 L1713.7,799.2 L1720.0,798.8Z" fill="#f4f4ff"/><path d="M1714.7,802.7 L1707.2,803.5 L1706.9,799.6 L1714.5,799.1Z" fill="#f2f2ff"/><path d="M1725.9,799.2 L1719.2,799.6 L1719.1,796.3 L1725.7,796.1Z" fill="#eeeeff"/><path d="M1720.0,799.6 L1713.7,800.0 L1713.5,796.4 L1719.9,796.3Z" fill="#ebebff"/><path d="M1714.5,800.0 L1706.9,800.5 L1706.7,796.6 L1714.3,796.4Z" fill="#e8e8ff"/><path d="M1725.7,796.8 L1719.1,797.1 L1719.0,793.7 L1725.7,793.8Z" fill="#e7e7ff"/><path d="M1719.9,797.0 L1713.6,797.3 L1713.5,793.7 L1719.8,793.7Z" fill="#e2e2ff"/><path d="M1714.4,797.2 L1706.8,797.5 L1706.7,793.6 L1714.3,793.7Z" fill="#dedeff"/><path d="M1725.7,794.5 L1719.0,794.5 L1719.1,791.2 L1725.8,791.5Z" fill="#e0e0ff"/><path d="M1719.8,794.5 L1713.5,794.5 L1713.6,790.9 L1719.9,791.2Z" fill="#d9d9ff"/><path d="M1714.3,794.5 L1706.7,794.5 L1706.8,790.6 L1714.4,790.9Z" fill="#d4d4ff"/><path d="M1725.7,792.2 L1719.1,791.9 L1719.3,788.6 L1725.9,789.1Z" fill="#d8d8ff"/><path d="M1719.9,792.0 L1713.6,791.7 L1713.8,788.1 L1720.1,788.7Z" fill="#d0d0ff"/><path d="M1714.4,791.8 L1706.8,791.5 L1707.0,787.6 L1714.6,788.2Z" fill="#c9c9ff"/><path d="M1725.9,789.8 L1719.2,789.4 L1719.5,786.0 L1726.1,786.8Z" fill="#d1d1ff"/><path d="M1720.0,789.4 L1713.7,789.0 L1714.0,785.4 L1720.3,786.1Z" fill="#c7c7ff"/><path d="M1714.5,789.0 L1706.9,788.5 L1707.3,784.6 L1714.8,785.5Z" fill="#bfbfff"/><path d="M1726.1,787.5 L1719.4,786.8 L1719.9,783.5 L1726.5,784.5Z" fill="#cbcbff"/><path d="M1720.2,786.9 L1714.0,786.2 L1714.4,782.7 L1720.6,783.6Z" fill="#bfbfff"/><path d="M1714.7,786.3 L1707.2,785.5 L1707.7,781.6 L1715.2,782.8Z" fill="#b6b6ff"/><path d="M1726.4,785.2 L1719.7,784.2 L1720.3,780.9 L1726.8,782.2Z" fill="#c4c4ff"/><path d="M1720.5,784.4 L1714.3,783.5 L1714.9,779.9 L1721.1,781.1Z" fill="#b7b7ff"/><path d="M1715.1,783.6 L1707.5,782.5 L1708.2,778.7 L1715.7,780.1Z" fill="#adadff"/><path d="M1726.7,782.9 L1720.1,781.7 L1720.8,778.4 L1727.3,779.9Z" fill="#bebeff"/><path d="M1720.9,781.8 L1714.7,780.8 L1715.4,777.2 L1721.6,778.6Z" fill="#afafff"/><path d="M1715.5,780.9 L1708.0,779.6 L1708.8,775.7 L1716.2,777.4Z" fill="#a4a4ff"/><path d="M1727.2,780.6 L1720.6,779.2 L1721.4,775.9 L1727.9,777.6Z" fill="#b7b7ff"/><path d="M1721.4,779.3 L1715.3,778.0 L1716.1,774.5 L1722.2,776.1Z" fill="#a7a7ff"/><path d="M1716.0,778.2 L1708.6,776.6 L1709.5,772.8 L1716.9,774.7Z" fill="#9c9cff"/><path d="M1727.7,778.3 L1721.2,776.7 L1722.1,773.5 L1728.5,775.4Z" fill="#b1b1ff"/><path d="M1722.0,776.9 L1715.9,775.3 L1716.8,771.9 L1722.9,773.7Z" fill="#a0a0ff"/><path d="M1716.6,775.5 L1709.3,773.7 L1710.3,769.9 L1717.6,772.1Z" fill="#9393ff"/><path d="M1728.3,776.0 L1721.9,774.2 L1722.9,771.0 L1729.2,773.1Z" fill="#ababff"/><path d="M1722.7,774.4 L1716.6,772.7 L1717.7,769.2 L1723.6,771.3Z" fill="#9898ff"/><path d="M1717.4,772.9 L1710.0,770.8 L1711.2,767.1 L1718.4,769.5Z" fill="#8a8aff"/><path d="M1729.0,773.8 L1722.6,771.7 L1723.7,768.6 L1730.0,770.9Z" fill="#a4a4ff"/><path d="M1723.4,772.0 L1717.4,770.0 L1718.6,766.6 L1724.5,768.9Z" fill="#9090ff"/><path d="M1718.2,770.3 L1710.9,767.9 L1712.2,764.2 L1719.3,766.9Z" fill="#8181ff"/><path d="M1729.7,771.6 L1723.5,769.3 L1724.7,766.2 L1730.8,768.8Z" fill="#9e9eff"/><path d="M1724.2,769.6 L1718.3,767.4 L1719.6,764.1 L1725.4,766.5Z" fill="#8888ff"/><path d="M1719.0,767.7 L1711.9,765.1 L1713.3,761.5 L1720.3,764.4Z" fill="#7878ff"/><path d="M1730.6,769.4 L1724.4,766.9 L1725.7,763.8 L1731.8,766.6Z" fill="#9797ff"/><path d="M1725.1,767.2 L1719.3,764.8 L1720.7,761.5 L1726.4,764.2Z" fill="#8080ff"/><path d="M1720.0,765.1 L1713.0,762.3 L1714.5,758.7 L1721.4,761.9Z" fill="#6f6fff"/><path d="M1731.5,767.2 L1725.4,764.5 L1726.8,761.5 L1732.8,764.5Z" fill="#9191ff"/><path d="M1726.1,764.9 L1720.4,762.3 L1721.9,759.0 L1727.5,761.9Z" fill="#7878ff"/><path d="M1721.1,762.6 L1714.1,759.5 L1715.8,756.0 L1722.6,759.4Z" fill="#6666ff"/><path d="M1732.5,765.1 L1726.5,762.2 L1728.0,759.2 L1733.9,762.4Z" fill="#8a8aff"/><path d="M1727.2,762.6 L1721.5,759.8 L1723.2,756.6 L1728.7,759.6Z" fill="#7171ff"/><path d="M1722.3,760.1 L1715.4,756.8 L1717.2,753.3 L1723.9,757.0Z" fill="#5d5dff"/><path d="M1733.5,763.0 L1727.7,759.9 L1729.3,757.0 L1735.0,760.4Z" fill="#8484ff"/><path d="M1728.4,760.3 L1722.8,757.3 L1724.5,754.2 L1730.0,757.4Z" fill="#6969ff"/><path d="M1723.5,757.7 L1716.8,754.1 L1718.7,750.7 L1725.2,754.6Z" fill="#5454ff"/><path d="M1734.7,761.0 L1728.9,757.7 L1730.6,754.8 L1736.3,758.4Z" fill="#7e7eff"/><path d="M1729.6,758.1 L1724.1,754.9 L1726.0,751.8 L1731.3,755.2Z" fill="#6161ff"/><path d="M1724.8,755.3 L1718.2,751.5 L1720.2,748.2 L1726.7,752.3Z" fill="#4b4bff"/><path d="M1735.9,759.0 L1730.2,755.5 L1732.1,752.7 L1737.5,756.5Z" fill="#7777ff"/><path d="M1730.9,755.9 L1725.6,752.5 L1727.5,749.5 L1732.7,753.1Z" fill="#5959ff"/><path d="M1726.2,753.0 L1719.8,748.9 L1721.9,745.7 L1728.2,750.0Z" fill="#4242ff"/><path d="M1737.2,757.0 L1731.6,753.3 L1733.6,750.6 L1738.9,754.6Z" fill="#7171ff"/><path d="M1732.3,753.8 L1727.1,750.2 L1729.1,747.3 L1734.2,751.1Z" fill="#5151ff"/><path d="M1727.7,750.7 L1721.4,746.4 L1723.7,743.2 L1729.8,747.8Z" fill="#3939ff"/><path d="M1738.5,755.1 L1733.1,751.2 L1735.1,748.5 L1740.3,752.7Z" fill="#6a6aff"/><path d="M1733.7,751.7 L1728.6,748.0 L1730.8,745.1 L1735.8,749.0Z" fill="#4949ff"/><path d="M1729.3,748.4 L1723.1,744.0 L1725.5,740.8 L1731.4,745.6Z" fill="#3030ff"/><path d="M1739.9,753.3 L1731.3,746.5 L1733.5,743.8 L1741.8,750.9Z" fill="#6464ff"/><path d="M1731.9,747.0 L1724.0,740.8 L1726.5,737.8 L1734.1,744.3Z" fill="#4141ff"/><path d="M1724.6,741.3 L1714.8,733.6 L1717.6,730.2 L1727.1,738.3Z" fill="#2828ff"/><path d="M1741.4,751.4 L1732.2,743.7 L1734.5,741.0 L1743.4,749.1Z" fill="#5d5dff"/><path d="M1732.8,744.2 L1724.4,737.2 L1727.0,734.1 L1735.1,741.6Z" fill="#3a3aff"/><path d="M1725.0,737.7 L1714.4,728.8 L1717.5,725.3 L1727.6,734.7Z" fill="#1f1fff"/><path d="M1742.9,749.7 L1733.5,741.2 L1736.0,738.6 L1745.0,747.5Z" fill="#5757ff"/><path d="M1734.1,741.8 L1725.5,734.0 L1728.4,731.0 L1736.6,739.2Z" fill="#3232ff"/><path d="M1726.1,734.6 L1715.4,724.9 L1718.6,721.4 L1728.9,731.6Z" fill="#1616ff"/><path d="M1744.5,748.0 L1735.2,739.0 L1737.8,736.4 L1746.7,745.8Z" fill="#5151ff"/><path d="M1735.8,739.5 L1727.3,731.4 L1730.2,728.5 L1738.3,737.0Z" fill="#2a2aff"/><path d="M1727.9,731.9 L1717.2,721.6 L1720.6,718.3 L1730.8,729.0Z" fill="#0d0dff"/><path d="M1746.2,746.3 L1737.2,737.0 L1739.9,734.6 L1748.4,744.2Z" fill="#5151ff"/><path d="M1737.7,737.6 L1729.6,729.1 L1732.6,726.3 L1740.4,735.2Z" fill="#2b2bff"/><path d="M1730.1,729.7 L1719.8,719.0 L1723.3,715.8 L1733.1,726.9Z" fill="#0e0eff"/><path d="M1747.9,744.7 L1739.4,735.3 L1742.2,733.0 L1750.2,742.7Z" fill="#5252ff"/><path d="M1740.0,735.9 L1732.2,727.3 L1735.3,724.7 L1742.7,733.6Z" fill="#2c2cff"/><path d="M1732.8,727.9 L1723.1,717.2 L1726.7,714.1 L1735.9,725.3Z" fill="#0f0fff"/><path d="M1749.6,743.2 L1741.9,734.0 L1744.7,731.7 L1752.0,741.3Z" fill="#5353ff"/><path d="M1742.4,734.6 L1735.4,726.2 L1738.5,723.6 L1745.2,732.4Z" fill="#2d2dff"/><path d="M1735.9,726.8 L1727.0,716.2 L1730.6,713.3 L1739.0,724.3Z" fill="#1010ff"/><path d="M1751.5,741.7 L1744.7,733.1 L1747.6,731.0 L1753.9,739.9Z" fill="#5454ff"/><path d="M1745.2,733.7 L1739.0,725.8 L1742.2,723.5 L1748.0,731.6Z" fill="#2d2dff"/><path d="M1739.5,726.4 L1731.8,716.6 L1735.4,713.9 L1742.7,724.1Z" fill="#1111ff"/><path d="M1753.3,740.3 L1749.4,734.9 L1752.1,733.0 L1755.8,738.6Z" fill="#5454ff"/><path d="M1749.9,735.5 L1746.2,730.4 L1749.1,728.4 L1752.6,733.7Z" fill="#2e2eff"/><path d="M1746.6,731.1 L1742.2,724.9 L1745.4,722.7 L1749.6,729.1Z" fill="#1212ff"/><path d="M1755.2,739.0 L1751.5,733.4 L1754.3,731.6 L1757.8,737.3Z" fill="#5555ff"/><path d="M1752.0,734.1 L1748.4,728.9 L1751.4,726.9 L1754.7,732.3Z" fill="#2f2fff"/><path d="M1748.9,729.5 L1744.6,723.2 L1747.9,721.1 L1751.9,727.6Z" fill="#1313ff"/><path d="M1757.2,737.7 L1753.7,732.0 L1756.5,730.3 L1759.8,736.1Z" fill="#5656ff"/><path d="M1754.1,732.7 L1750.7,727.4 L1753.8,725.5 L1756.9,731.0Z" fill="#3030ff"/><path d="M1751.2,728.0 L1747.1,721.6 L1750.5,719.6 L1754.2,726.2Z" fill="#1414ff"/><path d="M1759.2,736.5 L1755.9,730.7 L1758.8,729.1 L1761.9,735.0Z" fill="#5656ff"/><path d="M1756.3,731.4 L1753.1,725.9 L1756.3,724.2 L1759.2,729.8Z" fill="#3131ff"/><path d="M1753.5,726.6 L1749.7,720.0 L1753.1,718.1 L1756.6,724.9Z" fill="#1515ff"/><path d="M1761.2,735.3 L1758.1,729.5 L1761.1,728.0 L1764.0,734.0Z" fill="#5757ff"/><path d="M1758.5,730.2 L1755.5,724.6 L1758.7,723.0 L1761.4,728.7Z" fill="#3232ff"/><path d="M1755.9,725.3 L1752.3,718.6 L1755.8,716.8 L1759.1,723.7Z" fill="#1616ff"/><path d="M1763.3,734.3 L1760.4,728.3 L1763.4,726.9 L1766.1,733.0Z" fill="#5858ff"/><path d="M1760.8,729.0 L1758.0,723.3 L1761.3,721.8 L1763.8,727.6Z" fill="#3333ff"/><path d="M1758.3,724.1 L1755.0,717.2 L1758.5,715.6 L1761.6,722.6Z" fill="#1717ff"/><path d="M1765.4,733.3 L1762.7,727.2 L1765.8,725.9 L1768.3,732.1Z" fill="#5959ff"/><path d="M1763.1,727.9 L1760.5,722.2 L1763.8,720.8 L1766.1,726.7Z" fill="#3434ff"/><path d="M1760.8,722.9 L1757.7,715.9 L1761.3,714.4 L1764.1,721.5Z" fill="#1818ff"/><path d="M1767.6,732.4 L1765.1,726.2 L1768.2,725.0 L1770.4,731.3Z" fill="#5959ff"/><path d="M1765.4,726.9 L1763.0,721.1 L1766.4,719.8 L1768.5,725.8Z" fill="#3535ff"/><path d="M1763.3,721.8 L1760.5,714.8 L1764.1,713.4 L1766.7,720.6Z" fill="#1919ff"/><path d="M1769.8,731.5 L1767.5,725.3 L1770.7,724.2 L1772.7,730.6Z" fill="#5a5aff"/><path d="M1767.8,726.0 L1765.6,720.1 L1769.0,718.9 L1770.9,725.0Z" fill="#3535ff"/><path d="M1765.9,720.8 L1763.3,713.7 L1767.0,712.4 L1769.3,719.7Z" fill="#1a1aff"/><path d="M1772.0,730.8 L1769.9,724.4 L1773.1,723.5 L1774.9,729.9Z" fill="#5a5aff"/><path d="M1770.2,725.2 L1768.2,719.2 L1771.7,718.2 L1773.3,724.2Z" fill="#3636ff"/><path d="M1768.5,720.0 L1766.1,712.7 L1769.9,711.6 L1771.9,718.9Z" fill="#1a1aff"/><path d="M1774.2,730.1 L1772.4,723.7 L1775.6,722.8 L1777.2,729.3Z" fill="#5b5bff"/><path d="M1772.6,724.5 L1770.9,718.4 L1774.4,717.5 L1775.8,723.6Z" fill="#3636ff"/><path d="M1771.1,719.2 L1769.0,711.8 L1772.8,710.8 L1774.5,718.3Z" fill="#1b1bff"/><path d="M1776.5,729.5 L1774.9,723.0 L1778.1,722.3 L1779.5,728.8Z" fill="#5b5bff"/><path d="M1775.1,723.8 L1773.5,717.7 L1777.0,716.9 L1778.3,723.1Z" fill="#3737ff"/><path d="M1773.7,718.4 L1771.9,711.1 L1775.7,710.2 L1777.2,717.7Z" fill="#1b1bff"/><path d="M1778.8,729.0 L1777.4,722.4 L1780.7,721.8 L1781.8,728.4Z" fill="#5b5bff"/><path d="M1777.5,723.2 L1776.2,717.1 L1779.8,716.4 L1780.8,722.6Z" fill="#3737ff"/><path d="M1776.4,717.8 L1774.8,710.4 L1778.7,709.7 L1779.9,717.2Z" fill="#1c1cff"/><path d="M1781.1,728.5 L1779.9,721.9 L1783.2,721.4 L1784.1,728.1Z" fill="#5c5cff"/><path d="M1780.0,722.7 L1779.0,716.5 L1782.5,716.0 L1783.3,722.2Z" fill="#3838ff"/><path d="M1779.1,717.3 L1777.8,709.8 L1781.6,709.2 L1782.6,716.8Z" fill="#1c1cff"/><path d="M1783.4,728.2 L1782.4,721.5 L1785.8,721.2 L1786.4,727.8Z" fill="#5c5cff"/><path d="M1782.6,722.3 L1781.7,716.1 L1785.2,715.7 L1785.8,722.0Z" fill="#3838ff"/><path d="M1781.8,716.9 L1780.7,709.3 L1784.6,708.9 L1785.3,716.5Z" fill="#1d1dff"/><path d="M1785.7,727.9 L1785.0,721.2 L1788.3,721.0 L1788.7,727.6Z" fill="#5d5dff"/><path d="M1785.1,722.0 L1784.4,715.8 L1788.0,715.5 L1788.4,721.8Z" fill="#3838ff"/><path d="M1784.5,716.5 L1783.7,709.0 L1787.6,708.7 L1788.1,716.3Z" fill="#1d1dff"/><path d="M1788.0,727.7 L1787.6,721.0 L1790.9,720.9 L1791.1,727.5Z" fill="#5d5dff"/><path d="M1787.6,721.8 L1787.2,715.5 L1790.8,715.3 L1790.9,721.7Z" fill="#3939ff"/><path d="M1787.2,716.3 L1786.7,708.7 L1790.6,708.5 L1790.8,716.1Z" fill="#1e1eff"/><path d="M1790.4,727.5 L1790.1,720.9 L1793.5,720.8 L1793.4,727.5Z" fill="#5d5dff"/><path d="M1790.2,721.7 L1789.9,715.4 L1793.5,715.3 L1793.5,721.6Z" fill="#3939ff"/><path d="M1790.0,716.2 L1789.7,708.6 L1793.6,708.5 L1793.5,716.1Z" fill="#1e1eff"/>
<rect x="1553.1" y="883" width="480.4000000000001" height="19.5" fill="url(#wg2)"/>
</g>
<path d="M1792.7,708.5 L1793.5,708.5 L1794.2,708.5 L1795.0,708.5 L1795.7,708.6 L1796.5,708.6 L1797.2,708.6 L1798.0,708.7 L1798.7,708.7 L1799.4,708.8 L1800.2,708.8 L1800.9,708.9 L1801.7,709.0 L1802.4,709.1 L1803.2,709.1 L1803.9,709.2 L1804.7,709.3 L1805.4,709.4 L1806.2,709.6 L1806.9,709.7 L1807.6,709.8 L1808.4,709.9 L1809.1,710.1 L1809.8,710.2 L1810.6,710.4 L1811.3,710.5 L1812.0,710.7 L1812.8,710.9 L1813.5,711.1 L1814.2,711.2 L1815.0,711.4 L1815.7,711.6 L1816.4,711.8 L1817.1,712.0 L1817.8,712.3 L1818.6,712.5 L1819.3,712.7 L1820.0,712.9 L1820.7,713.2 L1821.4,713.4 L1822.1,713.7 L1822.8,713.9 L1823.5,714.2 L1824.2,714.5 L1824.9,714.8 L1825.6,715.0 L1826.3,715.3 L1827.0,715.6 L1827.7,715.9 L1828.4,716.2 L1829.0,716.6 L1829.7,716.9 L1830.4,717.2 L1831.1,717.5 L1831.7,717.9 L1832.4,718.2 L1833.1,718.6 L1833.7,718.9 L1834.4,719.3 L1835.0,719.6 L1835.7,720.0 L1836.3,720.4 L1837.0,720.8 L1837.6,721.2 L1838.3,721.6 L1838.9,722.0 L1839.5,722.4 L1840.2,722.8 L1840.8,723.2 L1841.4,723.6 L1842.0,724.1 L1842.6,724.5 L1843.2,724.9 L1843.9,725.4 L1844.5,725.8 L1845.1,726.3 L1845.6,726.7 L1846.2,727.2 L1846.8,727.7 L1847.4,728.1 L1848.0,728.6 L1848.6,729.1 L1849.1,729.6 L1849.7,730.1 L1850.2,730.6 L1850.8,731.1 L1851.4,731.6 L1851.9,732.1 L1852.4,732.6 L1853.0,733.2 L1853.5,733.7 L1854.0,734.2 L1854.6,734.8 L1855.1,735.3 L1855.6,735.8 L1856.1,736.4 L1856.6,737.0 L1857.1,737.5 L1857.6,738.1 L1858.1,738.6 L1858.6,739.2 L1859.1,739.8 L1859.5,740.4 L1860.0,741.0 L1860.5,741.6 L1860.9,742.1 L1861.4,742.7 L1861.8,743.3 L1862.3,744.0 L1862.7,744.6 L1863.1,745.2 L1863.6,745.8 L1864.0,746.4 L1864.4,747.0 L1864.8,747.7 L1865.2,748.3 L1865.6,748.9 L1866.0,749.6 L1866.4,750.2 L1866.8,750.9 L1867.2,751.5 L1867.6,752.2 L1867.9,752.8 L1868.3,753.5 L1868.6,754.1 L1869.0,754.8 L1869.3,755.5 L1869.7,756.1 L1870.0,756.8 L1870.3,757.5 L1870.6,758.2 L1871.0,758.8 L1871.3,759.5 L1871.6,760.2 L1871.9,760.9 L1872.2,761.6 L1872.4,762.3 L1872.7,763.0 L1873.0,763.7 L1873.3,764.4 L1873.5,765.1 L1873.8,765.8 L1874.0,766.5 L1874.3,767.2 L1874.5,767.9 L1874.7,768.6 L1874.9,769.4 L1875.2,770.1 L1875.4,770.8 L1875.6,771.5 L1875.8,772.2 L1876.0,773.0 L1876.1,773.7 L1876.3,774.4 L1876.5,775.2 L1876.7,775.9 L1876.8,776.6 L1877.0,777.4 L1877.1,778.1 L1877.3,778.8 L1877.4,779.6 L1877.5,780.3 L1877.6,781.0 L1877.8,781.8 L1877.9,782.5 L1878.0,783.3 L1878.1,784.0 L1878.1,784.8 L1878.2,785.5 L1878.3,786.3 L1878.4,787.0 L1878.4,787.8 L1878.5,788.5 L1878.5,789.2 L1878.6,790.0 L1878.6,790.7 L1878.6,791.5 L1878.7,792.2 L1878.7,793.0 L1878.7,793.7 L1878.7,794.5 L1878.7,795.3 L1878.7,796.0 L1878.7,796.8 L1878.6,797.5 L1878.6,798.3 L1878.6,799.0 L1878.5,799.8 L1878.5,800.5 L1878.4,801.2 L1878.4,802.0 L1878.3,802.7 L1878.2,803.5 L1878.1,804.2 L1878.1,805.0 L1878.0,805.7 L1877.9,806.5 L1877.8,807.2 L1877.6,808.0 L1877.5,808.7 L1877.4,809.4 L1877.3,810.2 L1877.1,810.9 L1877.0,811.6 L1876.8,812.4 L1876.7,813.1 L1876.5,813.8 L1876.3,814.6 L1876.1,815.3 L1876.0,816.0 L1875.8,816.8 L1875.6,817.5 L1875.4,818.2 L1875.2,818.9 L1874.9,819.6 L1874.7,820.4 L1874.5,821.1 L1874.3,821.8 L1874.0,822.5 L1873.8,823.2 L1873.5,823.9 L1873.3,824.6 L1873.0,825.3 L1872.7,826.0 L1872.4,826.7 L1872.2,827.4 L1871.9,828.1 L1871.6,828.8 L1871.3,829.5 L1871.0,830.2 L1870.6,830.8 L1870.3,831.5 L1870.0,832.2 L1869.7,832.9 L1869.3,833.5 L1869.0,834.2 L1868.6,834.9 L1868.3,835.5 L1867.9,836.2 L1867.6,836.8 L1867.2,837.5 L1866.8,838.1 L1866.4,838.8 L1866.0,839.4 L1865.6,840.1 L1865.2,840.7 L1864.8,841.3 L1864.4,842.0 L1864.0,842.6 L1863.6,843.2 L1863.1,843.8 L1869.1,849.0 L1870.4,851.0 L1871.2,852.6 L1871.7,854.0 L1872.0,855.3 L1872.1,856.5 L1872.2,857.7 L1872.1,858.8 L1872.0,859.9 L1871.8,860.9 L1871.5,861.8 L1871.2,862.8 L1870.8,863.6 L1870.4,864.5 L1869.9,865.3 L1869.4,866.0 L1868.8,866.8 L1868.2,867.4 L1867.6,868.1 L1866.9,868.7 L1866.1,869.2 L1865.3,869.7 L1864.5,870.2 L1863.7,870.6 L1862.7,870.9 L1861.8,871.2 L1860.8,871.5 L1859.7,871.6 L1858.6,871.7 L1857.5,871.7 L1856.2,871.6 L1854.9,871.3 L1853.5,870.9 L1851.9,870.2 L1849.9,869.0 L1844.5,863.2 L1843.9,863.6 L1843.2,864.1 L1842.6,864.5 L1842.0,864.9 L1841.4,865.4 L1840.8,865.8 L1840.2,866.2 L1839.5,866.6 L1838.9,867.0 L1838.3,867.4 L1837.6,867.8 L1837.0,868.2 L1836.3,868.6 L1835.7,869.0 L1835.0,869.4 L1834.4,869.7 L1833.7,870.1 L1833.1,870.4 L1832.4,870.8 L1831.7,871.1 L1831.1,871.5 L1830.4,871.8 L1829.7,872.1 L1829.0,872.4 L1828.4,872.8 L1827.7,873.1 L1827.0,873.4 L1826.3,873.7 L1825.6,874.0 L1824.9,874.2 L1824.2,874.5 L1823.5,874.8 L1822.8,875.1 L1822.1,875.3 L1821.4,875.6 L1820.7,875.8 L1820.0,876.1 L1819.3,876.3 L1818.6,876.5 L1817.8,876.7 L1817.1,877.0 L1816.4,877.2 L1815.7,877.4 L1815.0,877.6 L1814.2,877.8 L1813.5,877.9 L1812.8,878.1 L1812.0,878.3 L1811.3,878.5 L1810.6,878.6 L1809.8,878.8 L1809.1,878.9 L1808.4,879.1 L1807.6,879.2 L1806.9,879.3 L1806.2,879.4 L1805.4,879.6 L1804.7,879.7 L1803.9,879.8 L1803.2,879.9 L1802.4,879.9 L1801.7,880.0 L1800.9,880.1 L1800.2,880.2 L1799.4,880.2 L1798.7,880.3 L1798.0,880.3 L1797.2,880.4 L1796.5,880.4 L1795.7,880.4 L1795.0,880.5 L1794.2,880.5 L1793.5,880.5 L1792.7,880.5 L1791.9,880.5 L1791.2,880.5 L1790.4,880.5 L1789.7,880.4 L1788.9,880.4 L1788.2,880.4 L1787.4,880.3 L1786.7,880.3 L1786.0,880.2 L1785.2,880.2 L1784.5,880.1 L1783.7,880.0 L1783.0,879.9 L1782.2,879.9 L1781.5,879.8 L1780.7,879.7 L1780.0,879.6 L1779.2,879.4 L1778.5,879.3 L1777.8,879.2 L1777.0,879.1 L1776.3,878.9 L1775.6,878.8 L1774.8,878.6 L1774.1,878.5 L1773.4,878.3 L1772.6,878.1 L1771.9,877.9 L1771.2,877.8 L1770.4,877.6 L1769.7,877.4 L1769.0,877.2 L1768.3,877.0 L1767.6,876.7 L1766.8,876.5 L1766.1,876.3 L1765.4,876.1 L1764.7,875.8 L1764.0,875.6 L1763.3,875.3 L1762.6,875.1 L1761.9,874.8 L1761.2,874.5 L1760.5,874.2 L1759.8,874.0 L1759.1,873.7 L1758.4,873.4 L1757.7,873.1 L1757.0,872.8 L1756.4,872.4 L1755.7,872.1 L1755.0,871.8 L1754.3,871.5 L1753.7,871.1 L1753.0,870.8 L1752.3,870.4 L1751.7,870.1 L1751.0,869.7 L1750.4,869.4 L1749.7,869.0 L1749.1,868.6 L1748.4,868.2 L1747.8,867.8 L1747.1,867.4 L1746.5,867.0 L1745.9,866.6 L1745.2,866.2 L1744.6,865.8 L1744.0,865.4 L1743.4,864.9 L1742.8,864.5 L1742.2,864.1 L1741.5,863.6 L1740.9,863.2 L1740.3,862.7 L1739.8,862.3 L1739.2,861.8 L1738.6,861.3 L1738.0,860.9 L1737.4,860.4 L1736.8,859.9 L1736.3,859.4 L1735.7,858.9 L1735.2,858.4 L1734.6,857.9 L1734.0,857.4 L1733.5,856.9 L1733.0,856.4 L1732.4,855.8 L1731.9,855.3 L1731.4,854.8 L1730.8,854.2 L1730.3,853.7 L1729.8,853.2 L1729.3,852.6 L1728.8,852.0 L1728.3,851.5 L1727.8,850.9 L1727.3,850.4 L1726.8,849.8 L1726.3,849.2 L1725.9,848.6 L1725.4,848.0 L1724.9,847.4 L1724.5,846.9 L1724.0,846.3 L1723.6,845.7 L1723.1,845.0 L1722.7,844.4 L1722.3,843.8 L1721.8,843.2 L1721.4,842.6 L1721.0,842.0 L1720.6,841.3 L1720.2,840.7 L1719.8,840.1 L1719.4,839.4 L1719.0,838.8 L1718.6,838.1 L1718.2,837.5 L1717.8,836.8 L1717.5,836.2 L1717.1,835.5 L1716.8,834.9 L1716.4,834.2 L1716.1,833.5 L1715.7,832.9 L1715.4,832.2 L1715.1,831.5 L1714.8,830.8 L1714.4,830.2 L1714.1,829.5 L1713.8,828.8 L1713.5,828.1 L1713.2,827.4 L1713.0,826.7 L1712.7,826.0 L1712.4,825.3 L1712.1,824.6 L1711.9,823.9 L1711.6,823.2 L1711.4,822.5 L1711.1,821.8 L1710.9,821.1 L1710.7,820.4 L1710.5,819.6 L1710.2,818.9 L1710.0,818.2 L1709.8,817.5 L1709.6,816.8 L1709.4,816.0 L1709.3,815.3 L1709.1,814.6 L1708.9,813.8 L1708.7,813.1 L1708.6,812.4 L1708.4,811.6 L1708.3,810.9 L1708.1,810.2 L1708.0,809.4 L1707.9,808.7 L1707.8,808.0 L1707.6,807.2 L1707.5,806.5 L1707.4,805.7 L1707.3,805.0 L1707.3,804.2 L1707.2,803.5 L1707.1,802.7 L1707.0,802.0 L1707.0,801.2 L1706.9,800.5 L1706.9,799.8 L1706.8,799.0 L1706.8,798.3 L1706.8,797.5 L1706.7,796.8 L1706.7,796.0 L1706.7,795.3 L1706.7,794.5 L1706.7,793.7 L1706.7,793.0 L1706.7,792.2 L1706.8,791.5 L1706.8,790.7 L1706.8,790.0 L1706.9,789.2 L1706.9,788.5 L1707.0,787.8 L1707.0,787.0 L1707.1,786.3 L1707.2,785.5 L1707.3,784.8 L1707.3,784.0 L1707.4,783.3 L1707.5,782.5 L1707.6,781.8 L1707.8,781.0 L1707.9,780.3 L1708.0,779.6 L1708.1,778.8 L1708.3,778.1 L1708.4,777.4 L1708.6,776.6 L1708.7,775.9 L1708.9,775.2 L1709.1,774.4 L1709.3,773.7 L1709.4,773.0 L1709.6,772.2 L1709.8,771.5 L1710.0,770.8 L1710.2,770.1 L1710.5,769.4 L1710.7,768.6 L1710.9,767.9 L1711.1,767.2 L1711.4,766.5 L1711.6,765.8 L1711.9,765.1 L1712.1,764.4 L1712.4,763.7 L1712.7,763.0 L1713.0,762.3 L1713.2,761.6 L1713.5,760.9 L1713.8,760.2 L1714.1,759.5 L1714.4,758.8 L1714.8,758.2 L1715.1,757.5 L1715.4,756.8 L1715.7,756.1 L1716.1,755.5 L1716.4,754.8 L1716.8,754.1 L1717.1,753.5 L1717.5,752.8 L1717.8,752.2 L1718.2,751.5 L1718.6,750.9 L1719.0,750.2 L1719.4,749.6 L1719.8,748.9 L1720.2,748.3 L1720.6,747.7 L1721.0,747.0 L1721.4,746.4 L1721.8,745.8 L1722.3,745.2 L1722.7,744.6 L1723.1,744.0 L1723.6,743.3 L1724.0,742.7 L1718.2,737.3 L1717.0,735.3 L1716.3,733.7 L1715.9,732.3 L1715.6,731.0 L1715.5,729.7 L1715.5,728.6 L1715.6,727.5 L1715.7,726.4 L1716.0,725.4 L1716.3,724.5 L1716.6,723.5 L1717.0,722.7 L1717.5,721.9 L1718.0,721.1 L1718.5,720.3 L1719.1,719.6 L1719.8,719.0 L1720.4,718.4 L1721.2,717.8 L1721.9,717.3 L1722.7,716.8 L1723.6,716.4 L1724.4,716.0 L1725.4,715.7 L1726.3,715.4 L1727.3,715.2 L1728.4,715.1 L1729.5,715.0 L1730.7,715.1 L1731.9,715.2 L1733.2,715.5 L1734.6,716.0 L1736.2,716.8 L1738.2,718.1 L1743.4,724.1 L1744.0,723.6 L1744.6,723.2 L1745.2,722.8 L1745.9,722.4 L1746.5,722.0 L1747.1,721.6 L1747.8,721.2 L1748.4,720.8 L1749.1,720.4 L1749.7,720.0 L1750.4,719.6 L1751.0,719.3 L1751.7,718.9 L1752.3,718.6 L1753.0,718.2 L1753.7,717.9 L1754.3,717.5 L1755.0,717.2 L1755.7,716.9 L1756.4,716.6 L1757.0,716.2 L1757.7,715.9 L1758.4,715.6 L1759.1,715.3 L1759.8,715.0 L1760.5,714.8 L1761.2,714.5 L1761.9,714.2 L1762.6,713.9 L1763.3,713.7 L1764.0,713.4 L1764.7,713.2 L1765.4,712.9 L1766.1,712.7 L1766.8,712.5 L1767.6,712.3 L1768.3,712.0 L1769.0,711.8 L1769.7,711.6 L1770.4,711.4 L1771.2,711.2 L1771.9,711.1 L1772.6,710.9 L1773.4,710.7 L1774.1,710.5 L1774.8,710.4 L1775.6,710.2 L1776.3,710.1 L1777.0,709.9 L1777.8,709.8 L1778.5,709.7 L1779.2,709.6 L1780.0,709.4 L1780.7,709.3 L1781.5,709.2 L1782.2,709.1 L1783.0,709.1 L1783.7,709.0 L1784.5,708.9 L1785.2,708.8 L1786.0,708.8 L1786.7,708.7 L1787.4,708.7 L1788.2,708.6 L1788.9,708.6 L1789.7,708.6 L1790.4,708.5 L1791.2,708.5 L1791.9,708.5Z M1792.7,727.5 L1793.3,727.5 L1793.9,727.5 L1794.5,727.5 L1795.0,727.5 L1795.6,727.6 L1796.2,727.6 L1796.8,727.6 L1797.4,727.7 L1798.0,727.7 L1798.5,727.8 L1799.1,727.8 L1799.7,727.9 L1800.3,727.9 L1800.9,728.0 L1801.4,728.1 L1802.0,728.2 L1802.6,728.2 L1803.2,728.3 L1803.8,728.4 L1804.3,728.5 L1804.9,728.6 L1805.5,728.7 L1806.1,728.8 L1806.6,729.0 L1807.2,729.1 L1807.8,729.2 L1808.3,729.4 L1808.9,729.5 L1809.5,729.6 L1810.0,729.8 L1810.6,729.9 L1811.2,730.1 L1811.7,730.3 L1812.3,730.4 L1812.8,730.6 L1813.4,730.8 L1814.0,731.0 L1814.5,731.2 L1815.1,731.3 L1815.6,731.5 L1816.2,731.7 L1816.7,732.0 L1817.3,732.2 L1817.8,732.4 L1818.3,732.6 L1818.9,732.8 L1819.4,733.1 L1820.0,733.3 L1820.5,733.5 L1821.0,733.8 L1821.5,734.0 L1822.1,734.3 L1822.6,734.5 L1823.1,734.8 L1823.6,735.1 L1824.2,735.3 L1824.7,735.6 L1825.2,735.9 L1825.7,736.2 L1826.2,736.5 L1826.7,736.8 L1827.2,737.1 L1827.7,737.4 L1828.2,737.7 L1828.7,738.0 L1829.2,738.3 L1829.7,738.6 L1830.2,739.0 L1830.6,739.3 L1831.1,739.6 L1831.6,740.0 L1832.1,740.3 L1832.6,740.6 L1833.0,741.0 L1833.5,741.3 L1833.9,741.7 L1834.4,742.1 L1834.9,742.4 L1835.3,742.8 L1835.8,743.2 L1836.2,743.6 L1836.7,743.9 L1837.1,744.3 L1837.5,744.7 L1838.0,745.1 L1838.4,745.5 L1838.8,745.9 L1839.2,746.3 L1839.7,746.7 L1835.1,752.1 L1835.5,752.4 L1835.9,752.8 L1836.2,753.2 L1836.6,753.6 L1836.9,754.0 L1837.3,754.4 L1837.6,754.7 L1838.0,755.1 L1838.3,755.5 L1838.7,755.9 L1839.0,756.3 L1839.3,756.7 L1839.7,757.1 L1840.0,757.6 L1840.3,758.0 L1840.6,758.4 L1840.9,758.8 L1841.2,759.2 L1841.5,759.7 L1841.8,760.1 L1842.1,760.5 L1842.4,760.9 L1842.7,761.4 L1843.0,761.8 L1843.3,762.3 L1843.6,762.7 L1843.9,763.2 L1844.1,763.6 L1844.4,764.0 L1844.7,764.5 L1844.9,765.0 L1845.2,765.4 L1845.4,765.9 L1845.7,766.3 L1845.9,766.8 L1846.2,767.3 L1852.7,764.6 L1852.9,765.1 L1853.2,765.7 L1853.4,766.2 L1853.7,766.7 L1853.9,767.2 L1854.1,767.8 L1854.4,768.3 L1854.6,768.9 L1854.8,769.4 L1855.0,769.9 L1855.2,770.5 L1855.5,771.0 L1855.7,771.6 L1855.9,772.1 L1856.0,772.7 L1856.2,773.2 L1856.4,773.8 L1856.6,774.4 L1856.8,774.9 L1856.9,775.5 L1857.1,776.0 L1857.3,776.6 L1857.4,777.2 L1857.6,777.7 L1857.7,778.3 L1857.8,778.9 L1858.0,779.4 L1858.1,780.0 L1858.2,780.6 L1858.4,781.1 L1858.5,781.7 L1858.6,782.3 L1858.7,782.9 L1858.8,783.4 L1858.9,784.0 L1859.0,784.6 L1859.0,785.2 L1859.1,785.8 L1859.2,786.3 L1859.3,786.9 L1859.3,787.5 L1859.4,788.1 L1859.4,788.7 L1859.5,789.2 L1859.5,789.8 L1859.6,790.4 L1859.6,791.0 L1859.6,791.6 L1859.7,792.2 L1859.7,792.7 L1859.7,793.3 L1859.7,793.9 L1859.7,794.5 L1859.7,795.1 L1859.7,795.7 L1859.7,796.3 L1859.7,796.8 L1859.6,797.4 L1859.6,798.0 L1859.6,798.6 L1859.5,799.2 L1859.5,799.8 L1859.4,800.3 L1859.4,800.9 L1859.3,801.5 L1859.3,802.1 L1859.2,802.7 L1859.1,803.2 L1859.0,803.8 L1859.0,804.4 L1858.9,805.0 L1858.8,805.6 L1858.7,806.1 L1858.6,806.7 L1858.5,807.3 L1858.4,807.9 L1858.2,808.4 L1858.1,809.0 L1858.0,809.6 L1857.8,810.1 L1857.7,810.7 L1857.6,811.3 L1857.4,811.8 L1857.3,812.4 L1857.1,813.0 L1856.9,813.5 L1856.8,814.1 L1856.6,814.6 L1856.4,815.2 L1856.2,815.8 L1856.0,816.3 L1855.9,816.9 L1855.7,817.4 L1855.5,818.0 L1855.2,818.5 L1855.0,819.1 L1854.8,819.6 L1854.6,820.1 L1854.4,820.7 L1854.1,821.2 L1853.9,821.8 L1853.7,822.3 L1853.4,822.8 L1853.2,823.3 L1852.9,823.9 L1852.7,824.4 L1852.4,824.9 L1852.1,825.4 L1851.9,826.0 L1851.6,826.5 L1851.3,827.0 L1851.0,827.5 L1850.7,828.0 L1850.4,828.5 L1850.1,829.0 L1849.8,829.5 L1849.5,830.0 L1849.2,830.5 L1848.9,831.0 L1848.6,831.5 L1848.2,832.0 L1847.9,832.4 L1847.6,832.9 L1847.2,833.4 L1846.9,833.9 L1846.6,834.4 L1846.2,834.8 L1845.9,835.3 L1845.5,835.7 L1845.1,836.2 L1844.8,836.7 L1844.4,837.1 L1844.0,837.6 L1843.6,838.0 L1843.3,838.5 L1842.9,838.9 L1842.5,839.3 L1842.1,839.8 L1841.7,840.2 L1841.3,840.6 L1840.9,841.0 L1840.5,841.5 L1840.1,841.9 L1839.7,842.3 L1839.2,842.7 L1838.8,843.1 L1838.4,843.5 L1838.0,843.9 L1837.5,844.3 L1837.1,844.7 L1836.7,845.1 L1836.2,845.4 L1835.8,845.8 L1835.3,846.2 L1834.9,846.6 L1834.4,846.9 L1833.9,847.3 L1833.5,847.7 L1833.0,848.0 L1832.6,848.4 L1832.1,848.7 L1831.6,849.0 L1831.1,849.4 L1830.6,849.7 L1830.2,850.0 L1829.7,850.4 L1829.2,850.7 L1828.7,851.0 L1828.2,851.3 L1827.7,851.6 L1827.2,851.9 L1826.7,852.2 L1826.2,852.5 L1825.7,852.8 L1825.2,853.1 L1824.7,853.4 L1824.2,853.7 L1823.6,853.9 L1823.1,854.2 L1822.6,854.5 L1822.1,854.7 L1821.5,855.0 L1821.0,855.2 L1820.5,855.5 L1820.0,855.7 L1819.4,855.9 L1818.9,856.2 L1818.3,856.4 L1817.8,856.6 L1817.3,856.8 L1816.7,857.0 L1816.2,857.3 L1815.6,857.5 L1815.1,857.7 L1814.5,857.8 L1814.0,858.0 L1813.4,858.2 L1812.8,858.4 L1812.3,858.6 L1811.7,858.7 L1811.2,858.9 L1810.6,859.1 L1810.0,859.2 L1809.5,859.4 L1808.9,859.5 L1808.3,859.6 L1807.8,859.8 L1807.2,859.9 L1806.6,860.0 L1806.1,860.2 L1805.5,860.3 L1804.9,860.4 L1804.3,860.5 L1803.8,860.6 L1803.2,860.7 L1802.6,860.8 L1802.0,860.8 L1801.4,860.9 L1800.9,861.0 L1800.3,861.1 L1799.7,861.1 L1799.1,861.2 L1798.5,861.2 L1798.0,861.3 L1797.4,861.3 L1796.8,861.4 L1796.2,861.4 L1795.6,861.4 L1795.0,861.5 L1794.5,861.5 L1793.9,861.5 L1793.3,861.5 L1792.7,861.5 L1792.1,861.5 L1791.5,861.5 L1790.9,861.5 L1790.4,861.5 L1789.8,861.4 L1789.2,861.4 L1788.6,861.4 L1788.0,861.3 L1787.4,861.3 L1786.9,861.2 L1786.3,861.2 L1785.7,861.1 L1785.1,861.1 L1784.5,861.0 L1784.0,860.9 L1783.4,860.8 L1782.8,860.8 L1782.2,860.7 L1781.6,860.6 L1781.1,860.5 L1780.5,860.4 L1779.9,860.3 L1779.3,860.2 L1778.8,860.0 L1778.2,859.9 L1777.6,859.8 L1777.1,859.6 L1776.5,859.5 L1775.9,859.4 L1775.4,859.2 L1774.8,859.1 L1774.2,858.9 L1773.7,858.7 L1773.1,858.6 L1772.6,858.4 L1772.0,858.2 L1771.4,858.0 L1770.9,857.8 L1770.3,857.7 L1769.8,857.5 L1769.2,857.3 L1768.7,857.0 L1768.1,856.8 L1767.6,856.6 L1767.1,856.4 L1766.5,856.2 L1766.0,855.9 L1765.4,855.7 L1764.9,855.5 L1764.4,855.2 L1763.9,855.0 L1763.3,854.7 L1762.8,854.5 L1762.3,854.2 L1761.8,853.9 L1761.2,853.7 L1760.7,853.4 L1760.2,853.1 L1759.7,852.8 L1759.2,852.5 L1758.7,852.2 L1758.2,851.9 L1757.7,851.6 L1757.2,851.3 L1756.7,851.0 L1756.2,850.7 L1755.7,850.4 L1755.2,850.0 L1754.8,849.7 L1754.3,849.4 L1753.8,849.0 L1753.3,848.7 L1752.8,848.4 L1752.4,848.0 L1751.9,847.7 L1751.5,847.3 L1751.0,846.9 L1750.5,846.6 L1750.1,846.2 L1749.6,845.8 L1749.2,845.4 L1748.7,845.1 L1748.3,844.7 L1747.9,844.3 L1747.4,843.9 L1747.0,843.5 L1746.6,843.1 L1746.2,842.7 L1745.7,842.3 L1745.3,841.9 L1744.9,841.5 L1744.5,841.0 L1744.1,840.6 L1743.7,840.2 L1743.3,839.8 L1742.9,839.3 L1742.5,838.9 L1742.1,838.5 L1741.8,838.0 L1741.4,837.6 L1741.0,837.1 L1746.1,832.3 L1745.7,831.9 L1745.4,831.4 L1745.1,831.0 L1744.8,830.6 L1744.5,830.2 L1744.2,829.8 L1743.9,829.3 L1743.6,828.9 L1743.3,828.5 L1743.0,828.1 L1742.7,827.6 L1742.4,827.2 L1742.1,826.7 L1741.8,826.3 L1741.5,825.8 L1741.3,825.4 L1741.0,825.0 L1740.7,824.5 L1740.5,824.0 L1740.2,823.6 L1740.0,823.1 L1739.7,822.7 L1739.5,822.2 L1739.2,821.7 L1739.0,821.3 L1738.8,820.8 L1738.5,820.3 L1738.3,819.9 L1738.1,819.4 L1737.9,818.9 L1737.7,818.4 L1737.5,817.9 L1737.3,817.5 L1737.1,817.0 L1736.9,816.5 L1736.7,816.0 L1729.9,818.0 L1729.7,817.4 L1729.5,816.9 L1729.4,816.3 L1729.2,815.8 L1729.0,815.2 L1728.8,814.6 L1728.6,814.1 L1728.5,813.5 L1728.3,813.0 L1728.1,812.4 L1728.0,811.8 L1727.8,811.3 L1727.7,810.7 L1727.6,810.1 L1727.4,809.6 L1727.3,809.0 L1727.2,808.4 L1727.0,807.9 L1726.9,807.3 L1726.8,806.7 L1726.7,806.1 L1726.6,805.6 L1726.5,805.0 L1726.4,804.4 L1726.4,803.8 L1726.3,803.2 L1726.2,802.7 L1726.1,802.1 L1726.1,801.5 L1726.0,800.9 L1726.0,800.3 L1725.9,799.8 L1725.9,799.2 L1725.8,798.6 L1725.8,798.0 L1725.8,797.4 L1725.7,796.8 L1725.7,796.3 L1725.7,795.7 L1725.7,795.1 L1725.7,794.5 L1725.7,793.9 L1725.7,793.3 L1725.7,792.7 L1725.7,792.2 L1725.8,791.6 L1725.8,791.0 L1725.8,790.4 L1725.9,789.8 L1725.9,789.2 L1726.0,788.7 L1726.0,788.1 L1726.1,787.5 L1726.1,786.9 L1726.2,786.3 L1726.3,785.8 L1726.4,785.2 L1726.4,784.6 L1726.5,784.0 L1726.6,783.4 L1726.7,782.9 L1726.8,782.3 L1726.9,781.7 L1727.0,781.1 L1727.2,780.6 L1727.3,780.0 L1727.4,779.4 L1727.6,778.9 L1727.7,778.3 L1727.8,777.7 L1728.0,777.2 L1728.1,776.6 L1728.3,776.0 L1728.5,775.5 L1728.6,774.9 L1728.8,774.4 L1729.0,773.8 L1729.2,773.2 L1729.4,772.7 L1729.5,772.1 L1729.7,771.6 L1729.9,771.0 L1730.2,770.5 L1730.4,769.9 L1730.6,769.4 L1730.8,768.9 L1731.0,768.3 L1731.3,767.8 L1731.5,767.2 L1731.7,766.7 L1732.0,766.2 L1732.2,765.7 L1732.5,765.1 L1732.7,764.6 L1733.0,764.1 L1733.3,763.6 L1733.5,763.0 L1733.8,762.5 L1734.1,762.0 L1734.4,761.5 L1734.7,761.0 L1735.0,760.5 L1735.3,760.0 L1735.6,759.5 L1735.9,759.0 L1736.2,758.5 L1736.5,758.0 L1736.8,757.5 L1737.2,757.0 L1737.5,756.6 L1737.8,756.1 L1738.2,755.6 L1738.5,755.1 L1738.8,754.6 L1739.2,754.2 L1739.5,753.7 L1739.9,753.3 L1740.3,752.8 L1740.6,752.3 L1741.0,751.9 L1741.4,751.4 L1741.8,751.0 L1742.1,750.5 L1742.5,750.1 L1742.9,749.7 L1743.3,749.2 L1743.7,748.8 L1744.1,748.4 L1744.5,748.0 L1744.9,747.5 L1745.3,747.1 L1745.7,746.7 L1746.2,746.3 L1746.6,745.9 L1747.0,745.5 L1747.4,745.1 L1747.9,744.7 L1748.3,744.3 L1748.7,743.9 L1749.2,743.6 L1749.6,743.2 L1750.1,742.8 L1750.5,742.4 L1751.0,742.1 L1751.5,741.7 L1751.9,741.3 L1752.4,741.0 L1752.8,740.6 L1753.3,740.3 L1753.8,740.0 L1754.3,739.6 L1754.8,739.3 L1755.2,739.0 L1755.7,738.6 L1756.2,738.3 L1756.7,738.0 L1757.2,737.7 L1757.7,737.4 L1758.2,737.1 L1758.7,736.8 L1759.2,736.5 L1759.7,736.2 L1760.2,735.9 L1760.7,735.6 L1761.2,735.3 L1761.8,735.1 L1762.3,734.8 L1762.8,734.5 L1763.3,734.3 L1763.9,734.0 L1764.4,733.8 L1764.9,733.5 L1765.4,733.3 L1766.0,733.1 L1766.5,732.8 L1767.1,732.6 L1767.6,732.4 L1768.1,732.2 L1768.7,732.0 L1769.2,731.7 L1769.8,731.5 L1770.3,731.3 L1770.9,731.2 L1771.4,731.0 L1772.0,730.8 L1772.6,730.6 L1773.1,730.4 L1773.7,730.3 L1774.2,730.1 L1774.8,729.9 L1775.4,729.8 L1775.9,729.6 L1776.5,729.5 L1777.1,729.4 L1777.6,729.2 L1778.2,729.1 L1778.8,729.0 L1779.3,728.8 L1779.9,728.7 L1780.5,728.6 L1781.1,728.5 L1781.6,728.4 L1782.2,728.3 L1782.8,728.2 L1783.4,728.2 L1784.0,728.1 L1784.5,728.0 L1785.1,727.9 L1785.7,727.9 L1786.3,727.8 L1786.9,727.8 L1787.4,727.7 L1788.0,727.7 L1788.6,727.6 L1789.2,727.6 L1789.8,727.6 L1790.4,727.5 L1790.9,727.5 L1791.5,727.5 L1792.1,727.5Z" fill="none" stroke="#4a4a4a" stroke-width="1.3" opacity="0.8"/>
<path d="M1558.1,883 H2028.5 M1558.1,902.5 H2028.5" stroke="#333" stroke-width="1.8" opacity="0.8"/>
</g>
<path d="M1558.1,646 V982 H2028.5 V646" fill="none" stroke="#c2c2c2" stroke-width="2.6"/>
<path d="M1558.1,679.7 H2028.5" stroke="#c4c4c4" stroke-width="2.6"/>
<defs><linearGradient id="cbar" x1="0" y1="0" x2="0" y2="1"><stop offset="0" stop-color="#ff0000"/><stop offset="0.5" stop-color="#ffffff"/><stop offset="1" stop-color="#0000ff"/></linearGradient></defs>
<rect x="2076" y="349.5" width="28" height="629" fill="url(#cbar)" stroke="#444" stroke-width="1.6" stroke-opacity="0.8"/>
<g stroke="#444" stroke-width="1.5">
<path d="M2076,451 h4 M2104,451 h-4"/>
<path d="M2076,662 h4 M2104,662 h-4"/>
<path d="M2076,874 h4 M2104,874 h-4"/>
</g>
<polygon points="2054.2,304.5 2063.1,288.2 2072,304.5" fill="#000"/>
<polygon points="2054.2,1000.4 2063.1,1014.4 2072,1000.4" fill="#000"/>
<g class="sans" font-size="19" fill="#3a3a3a">
<text x="2082" y="305.5">1x10<tspan font-size="13" dy="-10">2</tspan></text>
<text x="2104" y="335">×10<tspan font-size="13" dy="-11">2</tspan></text>
<text x="2115.5" y="459">1</text>
<text x="2115.5" y="669.5">0</text>
<text x="2114" y="883">-1</text>
<text x="2079" y="1014">-1×10<tspan font-size="13" dy="-10">2</tspan></text>
</g>
<path d="M1132.0,1126.0 L1516.4,506.2" stroke="#000" stroke-width="2.2" fill="none"/><path d="M1554.3,445.0 L1530.2,520.6 L1497.3,500.2 Z" fill="#000"/>
<path d="M1368.4,1090.5 L1518.8,878.9" stroke="#000" stroke-width="2.2" fill="none"/><path d="M1560.5,820.2 L1531.7,894.2 L1500.1,871.8 Z" fill="#000"/>
</svg></body></html>
